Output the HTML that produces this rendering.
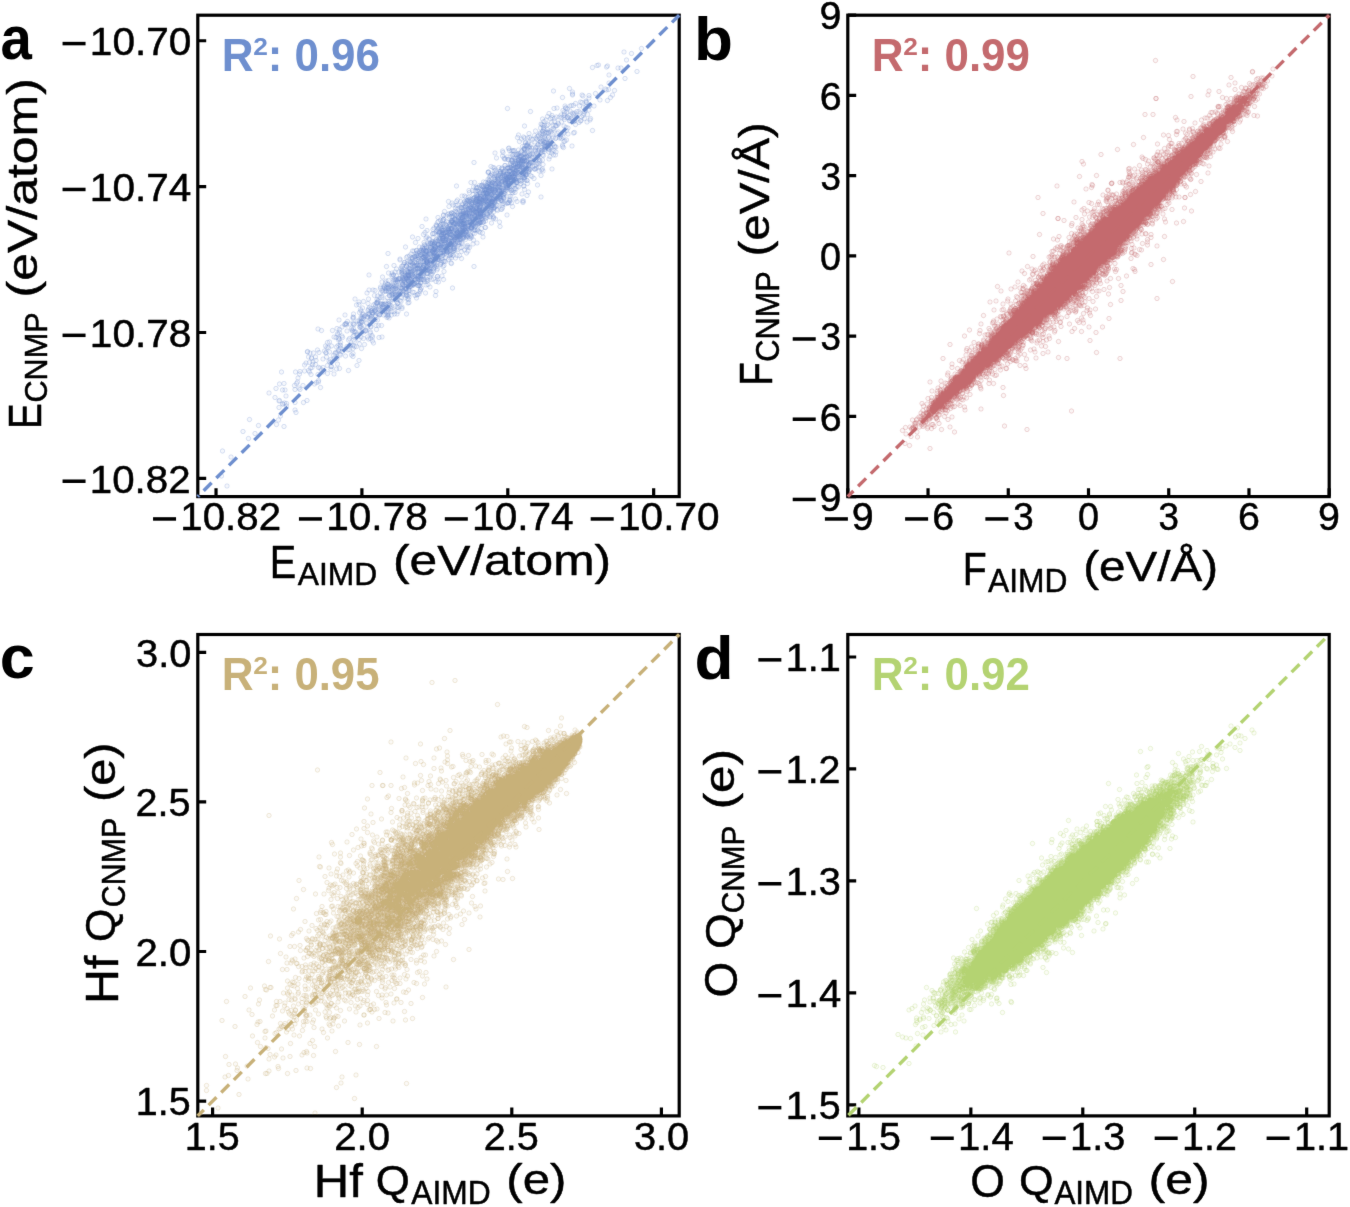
<!DOCTYPE html>
<html><head><meta charset="utf-8"><style>
html,body{margin:0;padding:0;background:#fff;}
svg{display:block;font-family:"Liberation Sans",sans-serif;}
</style></head><body>
<svg width="1350" height="1207" viewBox="0 0 1350 1207">
<filter id="bl" x="0" y="0" width="1350" height="1207" filterUnits="userSpaceOnUse"><feConvolveMatrix order="3" kernelMatrix="0.0052 0.0619 0.0052 0.0619 0.7314 0.0619 0.0052 0.0619 0.0052" edgeMode="duplicate"/></filter>
<rect width="1350" height="1207" fill="#fff"/>
<g filter="url(#bl)">
<defs><marker id="ma" markerUnits="userSpaceOnUse" markerWidth="20.0" markerHeight="20.0" refX="10.0" refY="10.0" overflow="visible"><circle cx="10.0" cy="10.0" r="4.4" fill="#6e8fcf" fill-opacity="0.07" stroke="#6e8fcf" stroke-opacity="0.25" stroke-width="2.0"/></marker><marker id="mb" markerUnits="userSpaceOnUse" markerWidth="20.0" markerHeight="20.0" refX="10.0" refY="10.0" overflow="visible"><circle cx="10.0" cy="10.0" r="4.4" fill="#c46b6e" fill-opacity="0.07" stroke="#c46b6e" stroke-opacity="0.25" stroke-width="2.0"/></marker><marker id="mc" markerUnits="userSpaceOnUse" markerWidth="20.0" markerHeight="20.0" refX="10.0" refY="10.0" overflow="visible"><circle cx="10.0" cy="10.0" r="4.4" fill="#c8b179" fill-opacity="0.07" stroke="#c8b179" stroke-opacity="0.25" stroke-width="2.0"/></marker><marker id="md" markerUnits="userSpaceOnUse" markerWidth="20.0" markerHeight="20.0" refX="10.0" refY="10.0" overflow="visible"><circle cx="10.0" cy="10.0" r="4.4" fill="#b4d372" fill-opacity="0.07" stroke="#b4d372" stroke-opacity="0.25" stroke-width="2.0"/></marker></defs>
<path d="M1248 104 1283 97 1253 120 1263 107 1185 135 1194 131 1197 130 1213 134 1215 132 1242 136 1218 150 1236 136 1274 143 1218 166 1250 157 1107 182 1139 177 1202 174 1211 178 1213 180 1217 179 1229 181 1125 195 1145 184 1145 188 1145 190 1164 190 1166 192 1178 191 1178 196 1191 187 1221 195 1225 190 1130 212 1132 216 1140 212 1143 211 1147 211 1151 207 1159 212 1161 204 1164 205 1167 215 1172 202 1172 204 1172 213 1173 205 1176 213 1179 212 1179 211 1188 212 1200 200 1215 201 1015 217 1061 223 1098 227 1104 231 1108 217 1114 216 1122 230 1126 221 1128 231 1129 224 1129 228 1131 216 1134 225 1135 218 1138 231 1140 222 1145 226 1147 228 1148 230 1149 226 1154 223 1158 223 1160 226 1166 231 1168 227 1169 223 1170 221 1171 218 1175 229 1178 220 1085 238 1088 243 1092 240 1095 233 1101 237 1103 245 1104 235 1109 243 1109 237 1113 234 1116 246 1119 234 1123 244 1123 235 1129 239 1129 235 1134 235 1135 234 1138 236 1139 242 1140 241 1142 237 1144 239 1148 243 1148 242 1149 241 1153 234 1158 245 1161 242 1162 241 1163 234 1169 237 1174 244 1180 240 1181 237 1049 252 1071 262 1081 256 1082 248 1084 249 1085 263 1086 262 1086 251 1087 255 1087 258 1089 260 1089 250 1094 251 1095 259 1096 249 1099 262 1102 264 1104 259 1106 250 1107 257 1108 260 1111 251 1112 252 1114 251 1117 248 1128 252 1132 255 1133 261 1136 256 1151 249 1185 261 1035 275 1037 270 1043 278 1047 274 1049 276 1055 276 1058 267 1059 275 1062 278 1065 279 1069 271 1072 276 1074 279 1075 273 1077 271 1079 277 1080 266 1080 268 1083 279 1084 266 1085 275 1086 269 1088 274 1089 275 1090 265 1090 272 1094 266 1094 264 1097 275 1097 266 1097 274 1097 265 1099 278 1105 269 1107 274 1111 277 1112 276 1115 267 1117 264 1119 276 1121 270 1121 274 1123 277 1126 274 1128 266 1128 264 1136 268 1147 266 1149 265 1018 296 1039 283 1045 293 1050 291 1051 285 1051 286 1053 292 1054 290 1055 288 1055 291 1057 286 1057 294 1059 293 1062 289 1063 296 1070 284 1072 294 1074 294 1076 290 1076 289 1080 284 1081 282 1081 288 1082 284 1084 295 1087 289 1087 282 1089 294 1089 293 1089 286 1090 290 1090 285 1090 285 1091 283 1091 295 1091 293 1092 285 1093 294 1093 284 1096 296 1096 291 1096 287 1097 286 1099 289 1099 290 1100 284 1100 287 1101 293 1101 295 1102 282 1106 288 1109 292 1110 294 1112 294 1125 293 1125 290 1127 295 1128 283 1130 282 1133 280 1144 292 990 306 1005 302 1006 305 1017 297 1019 301 1022 308 1024 302 1025 312 1026 309 1026 301 1027 302 1029 301 1032 309 1033 310 1035 308 1036 309 1037 300 1037 307 1037 312 1039 311 1041 306 1042 311 1043 302 1046 309 1048 297 1048 299 1048 298 1049 307 1049 297 1050 309 1050 301 1050 299 1051 307 1053 311 1054 298 1055 308 1058 311 1059 296 1060 308 1060 310 1060 300 1062 300 1063 309 1065 307 1067 309 1071 303 1071 296 1071 300 1073 307 1076 304 1076 302 1079 300 1082 301 1082 305 1084 300 1085 300 1085 304 1085 310 1087 311 1089 303 1089 299 1090 298 1097 298 1098 304 1099 299 1103 306 1104 302 1107 310 1108 301 1111 310 1112 304 948 325 993 316 1005 312 1008 316 1009 318 1011 318 1014 314 1016 319 1017 319 1021 327 1022 320 1023 321 1024 320 1025 324 1025 320 1027 316 1028 326 1030 316 1031 327 1031 320 1031 327 1032 323 1034 317 1035 327 1036 321 1037 318 1037 321 1037 319 1037 322 1039 314 1040 323 1040 319 1040 326 1041 314 1042 325 1042 322 1042 322 1042 313 1043 324 1043 312 1044 322 1044 320 1044 322 1045 323 1045 319 1046 324 1046 321 1047 317 1047 315 1048 322 1049 320 1049 322 1050 321 1050 316 1050 314 1052 328 1053 323 1053 323 1054 313 1054 326 1054 314 1055 320 1058 318 1059 328 1060 326 1061 319 1061 325 1061 318 1063 325 1064 314 1066 323 1068 325 1071 320 1071 314 1075 313 1075 315 1076 326 1078 319 1079 323 1080 321 1085 320 1098 318 1100 313 977 344 982 333 986 335 989 336 989 341 991 340 998 335 1000 343 1001 343 1003 337 1004 339 1004 336 1007 343 1010 331 1010 331 1010 341 1012 342 1012 336 1015 337 1015 336 1016 336 1018 342 1018 336 1019 343 1019 342 1020 329 1020 335 1021 342 1022 331 1022 343 1022 335 1023 343 1023 332 1024 336 1025 340 1025 338 1026 337 1027 338 1027 331 1027 330 1029 336 1029 339 1030 343 1031 328 1031 329 1032 335 1032 341 1032 341 1033 335 1034 340 1034 332 1035 328 1035 343 1035 334 1035 334 1036 333 1036 337 1037 330 1037 330 1038 333 1038 332 1040 332 1042 329 1043 340 1043 329 1043 335 1043 334 1044 334 1045 333 1046 335 1046 337 1046 338 1046 329 1047 338 1047 333 1052 329 1053 339 1054 337 1054 337 1057 339 1057 328 1057 330 1057 330 1058 328 1058 341 1058 343 1059 338 1060 339 1060 331 1065 334 1069 338 1069 332 1069 338 1071 338 1073 329 1073 336 1078 342 1078 334 1078 328 1083 340 1085 338 1086 342 1086 329 1104 338 976 359 976 345 977 344 979 354 981 351 982 352 983 348 985 350 989 355 989 359 990 348 990 352 991 358 993 344 993 352 994 352 995 357 995 356 996 354 997 358 998 350 998 347 1000 358 1001 346 1001 346 1002 356 1003 354 1003 347 1005 351 1005 355 1005 352 1006 358 1007 349 1007 346 1008 360 1008 344 1008 351 1009 353 1009 352 1012 359 1012 350 1013 357 1013 354 1013 358 1013 349 1014 349 1015 358 1015 354 1015 360 1015 356 1015 356 1015 346 1017 349 1017 359 1017 352 1017 350 1018 353 1018 355 1018 354 1019 351 1019 355 1020 355 1020 359 1020 354 1022 355 1023 348 1023 350 1024 355 1024 355 1024 348 1025 360 1025 348 1025 354 1025 354 1026 346 1026 353 1026 346 1027 351 1027 352 1028 351 1028 359 1029 346 1029 355 1029 355 1029 347 1030 355 1031 347 1031 360 1031 359 1032 347 1032 344 1034 346 1034 355 1034 357 1035 345 1036 354 1036 345 1037 348 1037 356 1038 345 1041 344 1042 349 1044 344 1045 354 1045 350 1046 351 1047 355 1047 345 1047 348 1047 345 1047 347 1048 355 1049 358 1049 355 1050 347 1050 360 1051 350 1051 345 1052 348 1052 351 1052 349 1054 349 1057 344 1061 351 1064 353 1068 357 1082 351 913 372 942 365 947 374 949 365 952 374 954 376 956 375 959 371 963 371 963 371 964 373 965 370 966 375 967 373 967 364 971 365 973 374 974 375 974 371 974 372 974 372 975 368 976 374 976 374 977 375 977 365 977 365 978 361 979 362 979 373 980 367 981 376 981 369 983 373 983 364 983 368 984 370 984 365 985 366 985 372 986 366 988 366 988 362 989 367 991 371 991 368 991 375 992 362 994 374 994 366 994 367 995 374 996 360 996 363 997 370 997 366 997 372 997 375 999 368 999 368 999 372 1000 375 1001 367 1003 364 1003 368 1004 369 1004 364 1004 362 1005 363 1009 366 1010 361 1010 362 1011 366 1011 364 1011 367 1012 362 1012 372 1012 361 1013 375 1013 366 1013 371 1013 370 1014 360 1014 372 1015 375 1015 360 1015 375 1015 363 1016 371 1016 364 1016 370 1016 364 1017 367 1018 366 1018 362 1018 369 1019 374 1023 362 1023 362 1024 372 1026 362 1028 362 1028 370 1029 369 1032 366 1033 364 1033 361 1033 365 1034 365 1034 373 1037 374 1038 361 1041 361 1042 363 1042 367 1044 361 1047 372 1048 372 1054 361 1054 361 1055 367 1075 370 924 392 929 392 938 381 939 385 945 381 946 389 950 382 952 382 953 376 953 390 954 392 955 381 956 382 956 392 958 388 959 383 960 386 961 390 961 385 964 381 965 380 966 388 967 386 968 378 969 388 969 380 969 380 969 380 970 381 970 385 971 386 971 378 971 386 972 389 972 385 972 382 973 386 973 379 974 389 974 391 974 387 974 387 975 387 975 387 976 385 976 379 978 390 978 382 979 376 979 383 979 377 980 387 980 380 980 377 981 381 981 387 982 389 982 385 983 389 984 389 984 380 984 378 984 378 985 388 985 384 986 378 986 389 987 379 987 384 988 378 989 381 989 376 989 384 990 380 990 385 990 392 991 380 991 381 994 377 995 388 995 386 995 385 996 379 997 382 998 389 998 380 998 390 998 382 999 382 1001 390 1001 390 1003 384 1003 386 1003 376 1003 381 1003 380 1005 376 1006 382 1006 390 1006 380 1006 377 1007 379 1007 390 1008 386 1008 383 1009 387 1010 387 1012 376 1012 381 1015 377 1017 379 1020 377 1022 381 1023 380 1024 385 1026 386 1027 381 1030 377 1030 385 1032 378 1044 388 1049 379 1054 391 1057 384 897 403 904 406 913 403 915 400 921 403 925 408 929 403 930 404 931 407 932 394 932 407 934 404 934 401 934 402 936 400 937 395 938 401 939 399 939 403 941 403 941 398 943 400 943 407 944 405 944 402 946 398 946 406 947 397 949 395 950 401 950 394 950 405 951 404 951 407 952 399 953 396 953 404 953 396 953 399 953 404 953 399 954 402 955 408 955 403 955 393 956 403 956 396 958 403 958 397 958 404 959 396 959 397 959 406 959 404 960 398 960 407 961 393 961 405 961 398 961 393 962 403 963 400 963 394 963 400 963 397 963 407 964 403 964 406 965 401 966 407 966 405 967 393 967 401 968 395 968 396 968 401 968 398 968 404 970 401 970 396 971 399 971 392 971 398 971 394 972 398 972 402 973 401 974 396 975 394 975 405 975 404 977 402 977 408 977 394 977 402 978 402 978 407 979 397 980 398 980 405 981 394 981 407 982 404 982 398 982 397 982 407 983 404 983 407 983 403 984 403 984 406 985 403 985 403 985 403 985 399 985 398 986 394 986 400 986 405 987 397 988 405 988 404 989 402 989 405 990 392 991 397 992 400 992 402 993 397 994 397 996 392 996 392 997 398 997 403 998 393 999 394 1000 393 1000 396 1002 401 1002 397 1002 400 1003 401 1005 402 1006 407 1006 394 1007 396 1008 398 1008 396 1010 408 1014 406 1015 406 1017 406 1018 405 1018 393 1019 401 1020 402 1020 398 1021 393 1023 406 1031 398 1034 403 1045 402 1046 405 1047 402 1082 394 889 423 898 413 906 410 911 422 911 416 912 411 913 424 915 410 916 418 919 422 921 415 922 416 922 424 923 416 924 412 924 415 926 423 927 415 930 413 931 414 932 418 932 423 932 420 932 412 934 410 936 420 936 417 937 419 937 416 937 422 939 410 939 420 940 412 941 416 941 416 941 416 942 413 942 422 943 408 943 420 943 416 944 417 944 409 944 408 946 419 946 420 946 417 946 418 947 420 948 423 948 413 950 423 950 422 950 409 950 417 952 415 952 418 952 412 953 424 954 420 954 408 954 416 955 411 955 416 957 421 957 418 957 409 957 420 958 409 958 416 959 419 959 414 959 419 959 421 960 422 960 414 960 416 960 422 961 409 961 413 964 419 964 421 965 420 967 417 967 415 968 410 969 411 969 419 971 419 973 422 974 411 974 409 974 416 974 409 974 411 976 413 977 410 978 413 978 421 980 424 980 410 980 408 981 423 982 420 982 416 983 419 983 413 983 411 984 415 984 411 985 411 986 411 987 418 987 424 987 416 988 415 989 415 991 413 993 411 994 419 995 421 995 411 1002 419 1004 418 1005 415 1005 410 1025 413 852 438 876 435 881 440 887 439 887 439 887 430 887 431 892 432 896 429 898 427 899 433 901 429 903 426 903 433 903 426 905 432 906 427 906 434 908 424 909 438 909 430 910 438 910 438 911 434 912 431 912 439 915 434 916 431 916 426 917 436 917 436 919 440 921 430 921 438 921 428 921 431 923 427 923 438 923 440 924 435 924 435 924 429 925 430 925 439 925 436 926 439 926 428 926 426 927 430 927 424 927 431 927 434 928 427 929 433 929 426 931 431 931 428 931 429 931 426 932 433 933 426 933 430 933 432 934 437 935 425 935 427 937 437 937 430 938 433 938 431 938 434 939 426 939 427 940 428 940 437 941 432 941 434 943 434 944 428 944 437 944 427 945 439 946 426 947 438 947 439 947 426 949 429 949 434 950 425 950 428 950 431 951 437 952 433 952 435 953 431 953 425 954 425 954 426 955 435 955 434 956 424 957 435 957 435 957 429 957 429 960 433 960 424 960 428 960 432 960 440 960 426 961 428 961 425 961 426 961 433 961 433 961 425 961 428 961 428 961 432 962 438 962 428 963 428 963 435 965 430 965 440 965 436 965 427 965 432 966 430 966 425 968 433 971 434 971 437 974 425 974 428 974 435 975 431 975 428 978 425 979 433 981 434 983 429 986 433 987 435 987 437 991 438 1014 430 844 453 868 456 872 450 873 453 873 451 875 445 877 456 877 443 879 453 881 451 882 454 882 449 885 441 886 448 886 449 886 442 888 452 891 449 893 450 894 443 895 455 896 445 896 454 899 449 899 453 901 451 902 445 902 442 903 443 903 444 904 441 904 441 905 452 905 444 905 444 906 445 906 452 906 441 907 447 908 448 908 448 910 447 910 455 910 449 911 446 913 448 914 441 914 450 914 455 914 451 915 450 916 446 916 453 916 447 917 442 919 447 919 448 919 444 920 443 921 440 921 449 922 442 922 444 923 448 923 450 924 443 924 449 924 453 925 448 925 454 926 446 926 454 926 452 927 449 927 442 927 447 928 441 928 446 928 449 928 453 929 446 929 440 930 454 930 454 930 442 930 447 931 444 931 453 932 441 933 447 934 445 935 453 935 454 936 445 937 450 937 451 940 440 940 445 940 443 940 446 941 444 941 455 942 455 943 456 943 449 943 444 943 455 944 451 945 453 945 449 945 451 946 443 947 451 947 447 948 450 949 448 949 445 949 455 951 440 951 446 951 452 954 445 955 449 956 447 957 446 957 442 957 442 958 450 958 447 959 445 960 444 960 446 961 444 962 445 965 445 967 444 967 444 970 455 971 455 971 442 983 446 999 444 1000 453 847 469 850 465 854 461 865 468 866 459 866 467 869 467 873 463 874 461 875 470 876 458 876 463 877 466 879 469 879 464 879 464 879 466 882 470 882 459 883 470 884 461 884 465 884 469 884 457 884 468 885 462 886 460 886 460 887 469 887 461 887 467 888 466 888 467 888 460 888 472 889 465 891 459 891 469 891 465 893 472 893 464 894 471 895 470 895 460 896 465 896 458 897 457 897 459 897 465 897 460 898 461 898 464 898 469 898 458 899 462 900 467 900 464 900 464 901 464 901 457 902 469 902 457 903 469 903 461 903 458 904 457 904 457 905 471 906 464 907 462 908 461 908 467 909 458 910 466 911 460 911 471 912 461 913 467 914 468 914 465 914 461 914 470 915 465 915 466 915 465 916 471 917 463 917 469 918 458 918 463 918 466 920 461 920 469 920 459 920 465 921 460 921 461 921 465 921 470 922 467 922 469 924 462 925 468 925 469 925 457 925 464 926 461 926 458 927 462 927 464 927 456 929 468 929 460 930 456 930 458 930 467 931 470 931 464 931 469 931 462 933 470 933 464 933 464 934 460 935 456 935 470 935 472 936 457 937 461 938 458 939 461 941 470 942 471 942 458 943 456 946 466 948 461 949 467 950 460 950 460 954 459 955 461 958 463 960 465 963 457 965 466 825 474 831 485 836 477 848 485 852 476 854 474 855 487 857 478 858 488 859 478 861 486 861 487 862 487 864 487 865 485 865 483 866 485 866 475 869 486 870 486 871 482 871 484 873 479 875 482 876 482 878 476 878 478 878 480 879 488 880 480 881 488 881 477 881 484 881 478 883 488 884 473 885 477 885 479 885 477 886 473 886 481 886 476 887 478 887 476 887 481 888 482 889 487 889 481 890 482 891 485 891 478 891 481 892 485 892 480 892 472 894 473 894 474 895 484 897 485 897 486 897 475 897 480 898 481 898 475 898 488 899 485 899 482 901 487 901 475 902 476 903 484 903 483 904 487 904 483 906 483 906 474 906 472 907 487 907 473 907 485 907 476 907 481 908 475 908 473 909 479 910 475 910 477 910 479 911 476 911 487 912 475 913 475 915 476 915 486 915 473 915 481 915 478 917 479 917 473 918 485 918 486 918 474 918 474 919 472 920 479 920 476 920 486 921 473 921 478 922 477 923 486 925 475 925 487 926 477 926 477 927 472 928 475 931 479 932 474 934 474 938 474 940 477 942 473 943 475 947 480 954 486 966 474 811 494 825 502 828 502 833 501 833 501 839 494 839 502 842 500 843 501 844 503 845 496 845 494 847 501 847 500 848 500 848 497 849 489 849 496 850 491 852 502 852 503 852 501 852 502 853 493 853 496 853 502 854 503 857 491 858 501 860 499 860 495 861 495 862 496 864 497 864 499 864 503 865 501 865 504 865 489 867 498 867 502 867 502 868 499 868 488 868 490 868 498 869 499 869 492 869 500 869 489 871 493 871 495 871 504 871 497 871 495 871 493 872 503 874 497 874 500 876 489 876 498 877 489 877 498 877 496 877 489 879 496 880 491 880 495 880 496 882 496 882 492 883 490 883 494 883 499 885 488 886 495 887 502 887 492 888 503 888 489 889 500 889 494 890 494 891 502 892 497 892 500 893 502 893 493 893 502 895 491 895 499 895 503 896 500 897 491 897 494 898 502 899 497 900 495 900 489 901 492 901 489 901 494 901 501 901 489 903 489 906 503 906 498 907 497 907 493 908 501 909 495 909 488 909 490 909 498 909 497 910 501 911 490 914 500 917 490 920 496 923 495 923 503 929 500 933 494 935 491 936 494 936 502 939 495 946 488 776 507 800 518 813 515 815 513 819 512 822 508 824 516 824 515 825 516 825 519 828 515 829 513 830 513 831 518 832 507 833 510 833 512 834 519 835 511 835 506 836 515 836 519 837 511 838 516 839 505 841 510 842 509 842 520 842 505 844 517 845 505 845 508 845 516 846 514 846 513 847 515 848 515 848 515 849 511 849 508 849 519 850 513 851 514 851 511 851 507 852 520 852 512 853 513 854 520 855 509 856 515 856 511 857 518 857 504 859 506 859 509 859 506 860 508 861 508 864 520 864 519 864 513 867 515 868 506 868 507 868 513 868 512 868 511 869 505 869 511 869 505 870 513 871 513 871 519 871 518 871 507 872 508 872 517 872 517 872 515 873 516 873 514 873 513 874 512 875 518 875 519 875 519 876 507 877 519 877 515 879 520 880 506 882 506 882 507 882 506 882 513 884 517 884 506 885 511 886 511 886 506 886 505 889 507 891 515 893 510 894 505 894 504 897 519 899 511 900 506 900 516 901 510 902 509 903 516 904 507 906 511 911 516 914 511 919 511 923 517 933 506 773 533 788 531 800 520 803 533 805 533 807 529 809 525 809 525 812 532 813 532 813 533 814 528 815 523 819 523 821 525 821 531 821 523 824 524 824 531 824 526 825 528 826 528 828 533 829 531 829 525 830 532 832 530 833 526 834 531 835 531 835 529 837 528 837 522 839 531 839 532 841 524 841 530 844 535 845 523 846 534 846 535 847 530 847 525 848 531 848 531 848 523 850 528 852 529 852 525 853 533 853 524 853 524 854 535 854 523 854 523 854 520 855 525 855 528 855 526 855 524 855 522 855 526 856 531 858 529 859 528 859 525 860 521 861 521 861 521 861 520 862 535 862 531 864 529 865 523 867 528 868 532 868 525 870 535 870 528 870 530 873 533 873 530 881 529 882 528 882 525 884 522 886 533 887 523 888 531 889 522 891 523 902 526 903 527 948 533 738 550 777 546 784 550 784 546 787 550 787 550 790 544 793 538 793 552 798 544 802 537 803 545 804 548 804 544 804 542 804 539 806 542 806 551 806 547 809 543 810 551 814 540 814 552 814 551 815 550 815 542 815 549 816 543 816 545 816 548 817 536 817 551 817 550 817 545 817 551 818 551 819 538 820 537 820 544 820 546 821 550 821 541 822 538 824 543 824 550 824 544 824 542 825 548 827 541 828 540 829 543 829 549 830 546 831 539 831 537 833 537 835 537 836 536 836 538 836 542 838 538 838 545 838 546 839 542 840 537 841 550 842 551 843 543 844 539 844 537 844 541 845 552 845 543 847 542 847 539 847 547 847 550 848 545 848 543 850 541 852 537 852 538 854 540 854 547 854 547 856 541 856 546 857 539 858 542 858 537 859 536 859 539 860 544 862 549 862 538 862 543 864 548 866 544 867 542 867 538 874 540 875 537 888 543 764 564 765 554 771 566 772 562 775 568 777 561 784 553 787 560 787 563 789 560 791 560 791 564 792 560 793 559 795 562 796 560 796 564 797 557 797 558 799 557 800 558 800 565 804 564 805 568 805 555 805 557 806 561 806 559 806 554 808 557 808 561 808 557 809 563 809 560 810 565 811 554 811 552 813 558 813 556 813 565 815 556 816 562 816 559 816 561 817 553 817 562 818 562 818 556 818 567 819 558 819 558 821 559 823 556 823 559 824 554 825 565 826 553 827 567 827 553 829 567 829 554 829 567 830 560 832 558 832 552 832 558 832 552 834 565 835 553 835 558 835 562 836 557 836 556 836 554 837 559 837 552 837 567 838 553 840 559 840 555 841 566 841 555 842 565 843 559 844 559 845 554 847 559 848 560 849 563 853 559 854 563 855 554 856 560 860 554 863 559 867 558 872 563 875 553 875 553 876 558 877 564 884 552 887 559 738 580 746 580 750 581 761 577 761 574 764 581 766 584 766 576 768 573 769 575 770 571 770 582 771 577 772 583 772 581 773 577 773 574 776 569 776 575 776 581 777 584 777 577 778 573 779 571 781 582 781 570 782 573 783 574 784 578 785 579 785 570 786 575 788 573 788 578 790 572 791 577 791 584 792 576 792 572 794 574 794 584 794 571 795 580 798 575 798 582 801 583 802 576 803 577 804 582 805 572 805 576 805 568 806 582 806 569 807 581 808 584 808 571 808 573 809 577 811 577 812 578 812 568 812 576 813 577 817 581 817 571 817 578 817 569 817 571 818 575 819 581 820 573 821 573 823 569 824 572 825 584 825 570 826 568 827 569 828 570 835 571 837 571 837 571 839 570 840 572 840 583 841 580 841 579 843 576 852 570 856 569 860 574 872 583 905 576 710 598 734 586 737 598 749 591 754 599 755 592 760 595 761 586 764 595 764 592 775 595 779 591 779 591 780 585 784 589 784 588 784 599 784 590 784 584 786 594 787 588 787 598 789 587 790 590 791 589 791 594 792 597 793 589 794 599 796 591 798 589 800 586 803 595 805 587 806 590 810 596 812 586 813 590 813 591 814 584 815 592 815 597 817 599 818 589 818 594 828 585 830 591 833 596 834 590 835 589 838 588 851 586 871 591 713 610 718 604 718 609 725 616 727 603 736 607 739 615 747 610 750 608 751 612 753 606 754 607 754 605 755 605 756 603 756 601 758 613 762 607 762 610 763 609 765 613 765 609 766 614 766 608 767 610 768 609 770 602 771 607 774 609 775 613 776 616 777 608 778 603 778 607 780 610 780 614 782 603 783 613 790 613 793 603 794 614 795 606 796 606 796 615 800 613 800 601 802 603 804 614 816 606 818 605 690 630 707 628 719 625 721 619 722 622 725 628 727 628 730 631 736 629 736 621 737 627 737 618 739 630 739 627 742 617 742 622 744 621 744 625 745 625 745 628 746 626 748 622 748 617 750 623 750 621 751 620 751 631 753 618 755 627 757 628 757 617 758 619 758 630 759 630 760 629 763 619 764 622 766 621 767 630 767 618 769 621 772 630 773 624 776 631 776 623 776 626 776 629 777 618 781 617 783 630 784 623 788 623 789 628 794 628 796 623 804 617 813 628 678 640 692 647 692 647 695 643 700 648 706 637 706 647 706 634 707 635 708 648 715 642 718 642 719 645 721 647 722 637 722 634 722 643 723 644 724 637 724 644 725 633 726 638 727 636 729 633 733 645 733 647 735 634 735 634 740 638 741 637 742 633 743 639 744 636 750 633 751 639 755 640 774 635 776 633 778 636 636 658 643 661 665 661 674 657 679 659 684 654 689 649 691 649 693 650 694 662 703 657 704 660 705 662 707 658 708 649 708 663 710 664 712 664 718 648 720 654 720 655 721 652 723 653 724 663 724 657 728 664 731 662 731 660 732 661 734 656 741 653 742 654 752 651 753 659 757 651 763 651 668 674 672 675 675 667 676 669 677 676 679 665 679 678 684 672 685 675 699 677 706 673 708 671 714 670 714 668 718 679 722 674 727 677 735 674 737 678 740 666 741 664 741 677 744 671 745 674 758 675 764 674 651 692 654 695 655 685 657 695 659 684 663 692 673 694 676 691 677 680 680 690 681 685 681 691 694 693 697 680 700 690 702 690 706 691 707 680 709 693 709 683 713 693 719 688 729 689 745 682 747 686 615 703 615 704 620 706 627 706 635 700 638 705 649 702 652 705 652 706 659 704 667 711 670 707 671 705 674 705 677 700 678 702 680 708 681 710 681 696 684 703 686 699 696 700 699 699 703 710 706 697 706 707 723 697 612 726 617 714 619 725 623 716 623 716 626 724 631 714 632 721 646 718 653 714 658 722 660 725 661 719 668 717 674 717 675 728 691 712 706 713 718 721 591 744 600 743 609 730 609 742 617 741 619 744 621 736 624 735 625 729 631 729 637 735 640 736 643 740 646 735 647 744 655 731 662 739 662 733 663 733 673 738 679 737 697 741 714 731 563 744 596 756 599 748 622 749 636 749 655 747 668 748 559 768 568 767 589 771 593 767 595 764 606 771 629 768 633 765 637 761 637 764 641 775 538 786 552 777 565 780 570 780 590 779 598 776 600 779 550 795 558 802 559 801 565 808 569 806 572 792 573 807 590 805 607 805 614 801 558 815 566 808 573 812 590 820 499 839 561 832 592 825 517 851 553 849 557 840 568 853 486 863 510 867 497 877 445 902 462 914 443 952 454 972" fill="none" stroke="none" marker-start="url(#ma)" marker-mid="url(#ma)" marker-end="url(#ma)" transform="scale(0.5)"/>
<path d="M2311 121 2505 144 2505 143 2546 138 2386 153 2462 155 2470 166 2499 167 2513 159 2516 157 2518 168 2521 165 2523 161 2523 156 2524 167 2527 156 2528 167 2530 162 2535 162 2544 152 2418 182 2438 183 2458 170 2470 179 2483 175 2487 184 2488 183 2490 184 2491 176 2493 177 2497 183 2497 181 2498 181 2499 177 2502 170 2504 179 2505 180 2507 169 2507 182 2510 181 2511 181 2511 168 2512 171 2513 183 2515 175 2515 180 2516 171 2517 168 2517 169 2518 173 2520 170 2521 170 2523 177 2524 175 2524 169 2526 171 2527 177 2532 173 2312 197 2312 197 2382 193 2416 190 2445 195 2453 197 2462 197 2469 200 2470 196 2473 198 2473 196 2473 193 2476 198 2476 195 2477 196 2478 188 2480 197 2481 195 2481 198 2481 199 2482 195 2483 197 2484 197 2484 193 2484 189 2485 192 2485 198 2487 197 2487 199 2488 196 2488 197 2489 196 2490 199 2490 197 2491 197 2492 195 2492 195 2493 192 2494 191 2494 195 2494 185 2495 198 2495 199 2496 195 2496 189 2496 193 2497 193 2498 195 2498 200 2499 197 2500 186 2500 187 2500 189 2501 195 2502 196 2502 192 2502 192 2505 190 2505 193 2506 198 2506 191 2507 192 2507 198 2507 198 2507 188 2509 194 2510 194 2512 188 2515 187 2515 198 2519 188 2436 213 2437 215 2437 213 2440 213 2452 209 2454 215 2455 216 2455 215 2456 213 2456 206 2457 213 2458 215 2460 206 2460 214 2463 215 2463 211 2463 215 2465 210 2466 214 2466 215 2468 205 2468 207 2469 212 2469 215 2469 213 2469 215 2469 204 2470 213 2470 208 2470 214 2471 203 2472 216 2473 201 2473 207 2474 208 2474 201 2474 202 2475 207 2476 206 2476 206 2477 214 2477 212 2478 201 2478 207 2479 216 2479 207 2479 212 2480 215 2480 208 2480 203 2481 211 2481 202 2482 211 2482 215 2482 210 2483 213 2483 206 2483 215 2484 203 2484 201 2485 207 2485 207 2485 204 2485 210 2485 211 2486 214 2487 201 2487 202 2487 208 2488 206 2489 202 2489 203 2489 214 2490 203 2491 215 2492 205 2493 210 2493 208 2493 208 2494 208 2494 206 2494 203 2495 207 2496 207 2496 202 2496 208 2497 212 2498 207 2500 207 2500 205 2504 203 2509 213 2511 201 2290 229 2306 229 2419 231 2422 225 2425 225 2431 224 2435 226 2435 228 2443 231 2444 226 2447 221 2447 224 2448 228 2451 221 2451 223 2452 231 2453 227 2454 232 2454 227 2454 222 2454 230 2455 223 2455 231 2455 223 2455 229 2456 231 2456 218 2456 221 2456 226 2457 221 2457 227 2458 218 2458 226 2458 217 2459 221 2460 216 2463 219 2466 219 2466 216 2467 217 2468 220 2468 220 2468 220 2469 231 2470 216 2471 230 2471 216 2471 217 2472 228 2473 216 2473 226 2474 227 2474 228 2474 225 2474 223 2474 226 2476 226 2476 223 2476 226 2476 230 2477 224 2477 221 2477 224 2477 226 2477 231 2478 217 2478 223 2478 220 2479 218 2480 222 2480 231 2480 231 2481 219 2482 220 2483 230 2483 221 2484 216 2484 216 2484 219 2485 219 2486 230 2488 220 2490 221 2492 228 2493 222 2494 218 2494 231 2495 225 2497 224 2508 231 2515 232 2351 235 2354 240 2368 243 2390 246 2403 240 2410 236 2414 236 2418 246 2419 247 2419 248 2421 248 2422 236 2423 246 2425 245 2427 242 2427 243 2428 243 2429 240 2430 248 2431 240 2432 242 2432 248 2432 245 2433 244 2433 238 2434 244 2434 237 2436 243 2436 239 2436 243 2437 242 2437 237 2438 244 2438 240 2439 240 2439 242 2440 240 2441 235 2442 232 2442 238 2443 233 2443 238 2443 241 2443 236 2444 235 2445 239 2445 235 2445 235 2447 234 2447 239 2447 234 2451 236 2452 246 2455 243 2456 241 2457 243 2458 241 2458 239 2459 244 2459 243 2460 242 2461 242 2461 246 2461 239 2462 245 2462 240 2464 238 2464 240 2464 248 2464 242 2465 236 2465 241 2465 237 2466 243 2466 238 2466 242 2467 233 2467 235 2468 243 2468 242 2468 234 2468 242 2470 235 2470 237 2471 234 2472 234 2473 237 2475 234 2476 234 2479 233 2479 244 2481 240 2353 263 2355 263 2366 258 2379 258 2379 260 2385 257 2386 263 2395 263 2396 262 2401 256 2402 262 2403 256 2405 258 2406 251 2408 249 2408 258 2408 253 2409 263 2409 255 2411 258 2411 258 2412 259 2412 253 2412 261 2413 258 2413 263 2413 262 2413 262 2413 262 2413 263 2414 259 2414 254 2415 260 2415 261 2416 258 2416 260 2417 260 2419 259 2419 262 2419 262 2420 256 2420 250 2422 259 2422 256 2423 253 2423 259 2424 262 2424 256 2425 256 2425 256 2425 256 2426 253 2426 250 2426 256 2427 249 2427 252 2428 253 2428 248 2429 256 2441 263 2441 264 2443 264 2445 259 2445 261 2445 261 2445 261 2446 259 2447 254 2447 254 2447 250 2447 256 2448 253 2448 260 2448 257 2448 254 2448 254 2448 256 2448 259 2449 248 2450 258 2451 255 2451 264 2452 249 2453 252 2453 255 2454 250 2456 254 2456 256 2457 249 2460 256 2464 253 2464 258 2465 263 2469 249 2287 275 2327 270 2337 271 2339 279 2353 269 2371 278 2371 266 2372 276 2374 269 2382 270 2382 278 2385 276 2386 275 2386 280 2386 278 2387 265 2387 280 2388 268 2390 273 2391 276 2393 280 2393 273 2394 276 2395 278 2395 280 2396 276 2396 269 2396 273 2396 271 2396 276 2397 278 2397 277 2398 265 2399 272 2399 274 2399 265 2399 274 2399 268 2399 270 2401 267 2403 269 2404 271 2404 265 2405 269 2405 272 2405 270 2405 265 2408 267 2409 267 2410 265 2412 267 2423 279 2425 280 2426 280 2427 277 2427 276 2427 274 2429 274 2429 280 2429 275 2429 276 2430 273 2431 271 2431 279 2431 272 2432 274 2432 274 2432 269 2433 270 2433 278 2434 276 2434 268 2436 274 2436 268 2436 268 2437 267 2438 271 2438 265 2439 265 2439 278 2439 266 2440 271 2440 265 2440 264 2442 268 2443 278 2445 268 2445 265 2447 265 2447 265 2448 273 2449 275 2450 274 2450 272 2267 289 2315 288 2337 294 2338 291 2342 287 2342 293 2344 287 2353 294 2357 292 2358 287 2359 291 2363 287 2368 280 2368 295 2368 296 2370 294 2371 292 2373 289 2374 288 2375 281 2376 285 2377 295 2377 293 2377 296 2377 293 2377 283 2377 292 2378 288 2378 283 2379 287 2380 293 2380 288 2381 291 2382 293 2382 294 2383 284 2384 283 2384 285 2385 288 2385 289 2387 287 2388 287 2388 288 2388 287 2389 282 2390 285 2392 284 2394 284 2394 283 2396 281 2412 295 2413 292 2414 295 2414 291 2415 293 2416 291 2417 288 2418 290 2418 294 2418 290 2418 288 2419 286 2419 291 2420 280 2420 285 2420 280 2420 293 2420 286 2421 287 2421 293 2421 285 2421 286 2422 285 2422 283 2423 282 2426 284 2427 282 2427 292 2428 288 2429 282 2430 282 2430 281 2442 288 2455 283 2202 309 2235 299 2314 311 2314 309 2316 304 2319 312 2323 304 2327 308 2329 297 2332 306 2334 304 2336 304 2343 311 2345 309 2348 309 2349 302 2349 299 2349 310 2350 300 2352 301 2352 312 2352 302 2353 309 2354 304 2354 311 2355 301 2355 305 2355 308 2356 312 2357 307 2357 312 2358 308 2358 303 2358 299 2358 307 2359 308 2359 306 2361 305 2362 302 2362 305 2364 306 2364 296 2364 298 2364 298 2365 303 2366 300 2366 304 2366 300 2367 298 2367 299 2369 299 2369 299 2369 297 2374 297 2374 299 2375 299 2376 299 2396 308 2397 309 2397 311 2397 311 2397 309 2399 310 2400 310 2400 307 2400 309 2401 307 2401 308 2401 307 2401 309 2403 302 2403 303 2404 308 2405 301 2405 300 2407 298 2407 312 2408 306 2408 297 2408 303 2409 300 2410 296 2410 301 2411 311 2412 296 2412 303 2415 303 2416 300 2416 302 2416 307 2419 298 2420 307 2421 303 2426 304 2430 298 2437 296 2440 297 2164 323 2284 314 2286 317 2291 319 2295 328 2297 322 2308 316 2308 316 2310 319 2312 319 2315 324 2315 323 2316 324 2317 325 2318 323 2318 327 2323 316 2324 327 2325 317 2328 326 2329 327 2332 315 2333 323 2334 325 2334 323 2334 316 2335 321 2335 322 2335 324 2337 320 2338 313 2338 321 2338 321 2339 323 2339 317 2341 326 2341 326 2342 327 2342 327 2343 312 2344 326 2344 312 2344 318 2345 324 2345 320 2345 318 2347 317 2348 323 2348 323 2348 320 2349 316 2349 321 2349 318 2350 317 2350 316 2351 317 2352 317 2354 315 2354 316 2355 314 2356 316 2357 313 2358 312 2379 328 2379 327 2381 328 2382 325 2383 325 2386 323 2388 326 2388 327 2389 320 2389 321 2389 322 2390 324 2390 326 2391 321 2391 317 2391 322 2392 327 2392 314 2392 328 2393 317 2393 325 2393 321 2393 320 2394 322 2394 314 2397 319 2398 319 2399 316 2400 325 2400 321 2401 317 2403 319 2405 327 2408 328 2409 314 2410 315 2412 315 2413 313 2414 316 2421 313 2167 328 2257 338 2258 343 2259 337 2269 338 2276 344 2279 331 2283 340 2291 339 2293 340 2296 342 2301 333 2303 342 2305 328 2306 332 2306 343 2308 343 2309 340 2309 334 2310 329 2311 340 2313 342 2313 338 2315 329 2316 341 2317 337 2318 337 2318 341 2319 332 2319 341 2321 333 2322 334 2322 337 2323 330 2324 339 2324 334 2324 335 2325 334 2325 342 2325 332 2326 341 2326 329 2327 340 2327 340 2327 333 2328 332 2328 333 2328 338 2328 336 2329 329 2329 338 2330 337 2330 333 2333 335 2333 336 2333 331 2333 335 2334 332 2334 333 2334 331 2335 330 2335 334 2336 334 2339 332 2340 332 2367 342 2367 342 2372 339 2372 342 2372 333 2372 335 2372 339 2372 335 2373 333 2373 333 2374 335 2374 337 2374 332 2374 333 2376 331 2376 333 2377 338 2377 337 2379 329 2379 332 2379 341 2379 342 2379 334 2379 335 2379 335 2380 333 2380 332 2382 340 2384 329 2384 338 2385 330 2386 336 2386 330 2388 329 2390 333 2391 329 2396 329 2418 332 2159 353 2193 351 2257 354 2258 355 2259 347 2260 350 2260 353 2266 352 2269 350 2273 358 2275 355 2281 357 2284 360 2284 354 2285 349 2285 345 2285 353 2288 350 2289 355 2291 355 2292 346 2292 357 2292 357 2294 354 2294 359 2297 358 2297 355 2298 351 2298 359 2298 345 2299 349 2299 357 2300 348 2300 353 2301 359 2301 358 2301 358 2302 353 2302 354 2302 359 2302 359 2302 353 2303 353 2303 358 2304 352 2305 357 2305 357 2306 358 2306 353 2307 352 2308 347 2308 352 2309 354 2309 345 2310 350 2311 345 2312 346 2312 354 2312 346 2314 350 2314 349 2314 353 2314 351 2315 347 2316 352 2316 349 2318 349 2319 347 2319 350 2319 346 2319 350 2320 348 2320 350 2320 347 2321 347 2354 359 2356 355 2356 360 2356 360 2357 359 2357 353 2358 355 2358 350 2359 355 2361 348 2361 355 2361 353 2361 351 2362 357 2364 346 2365 345 2366 346 2366 352 2367 356 2368 344 2368 349 2368 352 2370 347 2370 353 2370 354 2372 344 2372 344 2374 346 2376 347 2379 345 2379 356 2381 359 2382 346 2382 358 2383 347 2393 349 2416 346 2114 372 2183 375 2184 369 2185 371 2223 367 2223 367 2224 366 2240 365 2245 364 2246 366 2252 371 2253 365 2255 361 2257 369 2259 368 2261 375 2262 370 2264 365 2267 361 2268 374 2272 370 2273 370 2273 376 2276 372 2278 371 2278 363 2279 375 2280 372 2280 376 2280 371 2281 375 2282 368 2282 362 2283 363 2283 370 2283 376 2283 367 2284 365 2284 369 2285 373 2285 375 2285 373 2285 362 2286 369 2287 369 2288 363 2289 371 2289 372 2290 372 2290 361 2291 365 2291 368 2292 370 2292 369 2293 361 2293 366 2294 366 2294 365 2295 364 2295 365 2297 363 2338 372 2340 375 2340 374 2342 372 2342 375 2343 375 2344 372 2345 369 2345 370 2345 370 2346 373 2346 374 2346 368 2346 370 2347 367 2347 369 2347 375 2348 371 2349 370 2350 368 2350 361 2351 365 2351 372 2352 362 2353 371 2353 367 2354 369 2354 370 2354 363 2354 366 2354 361 2355 365 2357 361 2360 364 2361 362 2361 363 2362 368 2368 367 2370 371 2373 374 2402 363 2172 378 2206 390 2216 380 2216 381 2218 390 2223 389 2225 391 2227 390 2233 388 2245 388 2246 383 2248 386 2249 388 2249 380 2251 390 2251 386 2251 382 2251 377 2256 384 2257 386 2258 382 2258 390 2258 388 2259 387 2261 388 2261 379 2262 391 2263 384 2264 391 2264 377 2264 383 2264 392 2265 391 2266 380 2266 381 2266 377 2266 381 2267 383 2267 389 2267 380 2267 387 2267 380 2268 389 2268 385 2270 379 2271 379 2271 385 2272 378 2275 382 2276 381 2277 382 2277 376 2277 380 2277 379 2278 381 2278 382 2278 379 2279 377 2327 389 2327 389 2327 390 2328 389 2329 389 2330 391 2330 386 2330 383 2331 386 2331 388 2332 383 2332 380 2333 383 2334 382 2336 378 2337 378 2337 380 2338 385 2338 378 2338 384 2339 390 2339 387 2339 377 2339 383 2339 381 2340 387 2341 378 2342 382 2343 388 2344 384 2344 376 2345 392 2346 379 2346 379 2347 383 2347 382 2347 379 2348 385 2350 387 2353 379 2381 389 2391 383 2076 395 2148 404 2178 405 2183 407 2197 404 2212 402 2213 393 2213 399 2214 397 2214 403 2216 395 2219 400 2223 397 2229 403 2231 400 2231 395 2232 402 2233 407 2236 408 2237 405 2237 396 2238 400 2239 397 2240 403 2240 408 2241 404 2242 397 2244 392 2244 397 2245 405 2246 395 2246 404 2247 407 2247 407 2247 400 2248 399 2249 403 2250 404 2250 392 2250 403 2251 393 2251 406 2251 393 2252 397 2253 403 2254 405 2254 401 2256 404 2256 401 2256 396 2257 401 2258 398 2258 400 2258 393 2260 400 2260 395 2260 392 2260 394 2261 396 2262 396 2262 395 2262 394 2264 392 2266 395 2266 394 2267 393 2306 407 2312 406 2313 407 2314 408 2314 404 2315 403 2316 403 2316 405 2317 406 2317 400 2317 401 2318 407 2318 401 2318 398 2319 405 2319 399 2319 401 2320 396 2321 397 2322 406 2322 395 2322 395 2322 396 2325 399 2325 394 2325 393 2327 398 2327 392 2327 396 2327 397 2327 395 2331 397 2332 395 2332 394 2335 397 2336 402 2336 396 2338 396 2338 406 2344 396 2352 394 2358 394 2370 395 2370 395 2164 420 2168 417 2175 422 2186 424 2188 422 2189 417 2195 409 2198 424 2199 409 2205 417 2207 419 2208 423 2210 417 2212 421 2213 422 2214 417 2214 422 2217 411 2217 422 2218 417 2219 418 2220 414 2220 414 2221 422 2222 420 2222 411 2222 423 2223 409 2223 418 2224 420 2226 420 2226 414 2227 424 2227 422 2227 418 2229 414 2229 419 2229 421 2230 415 2230 421 2230 419 2230 414 2230 411 2230 420 2231 420 2231 414 2232 414 2232 415 2232 417 2234 418 2235 408 2237 415 2237 417 2241 416 2241 416 2241 416 2241 412 2241 409 2241 418 2242 415 2242 412 2243 412 2243 415 2244 411 2246 413 2246 410 2247 410 2248 411 2248 410 2249 409 2249 409 2297 422 2298 418 2298 422 2299 420 2299 421 2300 424 2301 421 2302 415 2303 414 2303 419 2303 422 2304 408 2305 412 2305 411 2305 415 2306 424 2307 416 2307 414 2308 410 2308 418 2308 418 2309 412 2309 421 2310 410 2310 417 2311 414 2311 417 2312 412 2315 408 2315 414 2315 412 2316 411 2316 415 2317 418 2318 412 2318 417 2319 411 2320 420 2322 413 2323 412 2326 418 2330 417 2334 409 2344 419 2369 416 2383 422 2086 427 2116 437 2116 437 2152 435 2164 439 2169 428 2179 434 2184 425 2185 435 2188 431 2191 434 2192 435 2194 437 2195 429 2199 436 2199 439 2201 429 2202 430 2202 426 2205 440 2205 431 2206 436 2206 435 2206 434 2206 425 2206 434 2207 427 2207 438 2208 438 2208 430 2209 437 2210 439 2210 439 2210 438 2210 440 2210 438 2213 439 2213 439 2213 429 2214 427 2216 431 2216 435 2217 427 2217 426 2218 426 2218 437 2218 432 2219 432 2219 428 2220 435 2221 431 2222 426 2222 428 2223 427 2223 429 2224 429 2282 437 2284 435 2285 438 2285 438 2287 436 2288 433 2289 437 2290 434 2291 435 2292 429 2294 435 2294 435 2295 426 2295 436 2296 435 2296 435 2297 429 2298 424 2298 428 2298 424 2298 429 2299 435 2300 425 2300 432 2301 428 2301 427 2301 428 2301 439 2302 426 2302 429 2304 432 2304 433 2307 427 2312 427 2312 431 2312 438 2313 426 2315 435 2315 426 2326 428 2329 438 2128 441 2143 451 2144 447 2156 456 2164 448 2166 454 2166 451 2169 454 2177 444 2181 452 2182 449 2183 453 2185 447 2187 449 2190 452 2190 449 2191 455 2192 445 2193 453 2193 451 2193 446 2193 455 2194 455 2195 442 2195 455 2195 450 2195 443 2195 451 2195 451 2195 446 2197 451 2197 452 2198 445 2198 445 2198 448 2199 442 2200 447 2201 448 2202 443 2202 444 2202 446 2203 445 2205 440 2207 441 2266 455 2269 455 2270 456 2270 452 2272 454 2273 450 2273 451 2273 453 2274 448 2274 454 2274 449 2275 449 2276 452 2276 451 2277 446 2277 448 2278 448 2278 443 2278 453 2278 444 2279 443 2280 446 2281 450 2281 444 2282 441 2283 443 2283 445 2285 443 2287 444 2287 449 2287 444 2288 444 2289 442 2290 448 2291 444 2291 445 2292 445 2292 446 2295 449 2295 448 2304 446 2305 448 2305 441 2331 444 2353 446 2367 443 2079 469 2143 467 2150 468 2155 468 2159 462 2160 469 2160 470 2161 457 2163 460 2163 463 2166 464 2168 464 2168 459 2169 469 2170 471 2170 469 2174 471 2176 463 2178 469 2178 464 2179 469 2179 457 2179 468 2181 468 2181 469 2181 466 2182 462 2182 470 2182 460 2182 464 2183 462 2184 461 2185 464 2185 466 2185 458 2185 461 2186 467 2186 457 2186 463 2187 464 2189 462 2190 456 2190 461 2190 457 2191 457 2191 461 2252 469 2252 469 2254 471 2254 472 2256 464 2256 467 2256 471 2257 468 2258 468 2259 471 2259 467 2260 462 2261 460 2261 462 2261 462 2262 471 2263 462 2264 468 2264 457 2266 465 2266 466 2267 458 2267 459 2268 457 2268 464 2268 463 2269 468 2271 468 2271 462 2272 459 2273 457 2273 457 2274 472 2279 462 2281 457 2282 459 2283 459 2284 468 2291 467 2292 468 2302 469 2107 478 2115 480 2118 473 2138 475 2139 484 2143 487 2144 482 2146 477 2147 486 2148 484 2149 480 2149 472 2149 472 2151 480 2152 476 2153 484 2153 486 2153 480 2154 483 2154 485 2154 480 2154 479 2155 482 2155 479 2155 487 2155 486 2157 477 2157 486 2157 486 2158 483 2159 480 2159 472 2160 480 2160 485 2160 486 2161 478 2161 483 2161 487 2162 487 2162 476 2165 488 2165 483 2165 481 2166 479 2166 488 2166 481 2166 475 2167 475 2167 479 2168 476 2169 476 2169 479 2170 474 2170 481 2170 479 2171 481 2171 473 2172 479 2174 476 2174 473 2174 474 2175 474 2177 473 2235 487 2239 485 2239 485 2240 484 2240 487 2241 482 2241 482 2242 487 2242 486 2243 481 2244 479 2244 488 2245 483 2245 482 2246 486 2246 485 2246 479 2247 478 2248 475 2248 478 2249 486 2250 476 2251 475 2251 486 2251 476 2252 476 2252 478 2253 485 2253 476 2253 474 2253 478 2254 473 2255 485 2255 480 2255 472 2256 473 2259 476 2260 476 2262 482 2263 477 2267 474 2274 478 2285 487 2295 484 2295 479 2302 475 2329 473 2104 503 2107 502 2111 497 2114 499 2115 494 2121 494 2122 491 2122 501 2125 496 2126 494 2126 503 2128 504 2133 503 2134 500 2134 504 2135 496 2135 492 2135 493 2136 491 2136 504 2137 496 2138 491 2139 496 2139 490 2140 493 2141 502 2142 497 2143 503 2143 504 2145 495 2146 498 2146 491 2147 503 2147 500 2147 502 2147 500 2147 501 2148 492 2149 499 2149 499 2150 500 2150 499 2151 494 2151 492 2151 498 2153 499 2153 489 2154 495 2154 497 2155 489 2155 493 2155 492 2155 496 2155 495 2155 494 2155 495 2157 497 2159 492 2160 494 2225 504 2227 501 2228 503 2228 497 2229 498 2229 502 2229 494 2230 500 2230 496 2230 502 2230 504 2231 491 2231 501 2231 496 2231 494 2232 491 2233 489 2233 498 2234 494 2235 502 2235 499 2236 502 2236 497 2237 493 2238 489 2238 489 2238 493 2238 489 2239 497 2239 490 2239 503 2240 490 2241 493 2241 499 2241 503 2241 499 2242 501 2242 488 2244 497 2244 501 2249 500 2250 495 2251 498 2252 492 2263 497 2264 489 2268 496 2279 499 2283 500 2295 490 2314 492 2018 506 2066 513 2098 514 2101 513 2104 510 2104 514 2108 514 2110 514 2115 514 2117 518 2119 507 2122 517 2122 518 2123 518 2124 514 2124 516 2124 518 2125 513 2125 515 2126 514 2126 507 2126 510 2126 510 2127 519 2127 519 2127 512 2128 513 2128 518 2128 515 2128 511 2129 516 2130 513 2130 509 2131 520 2131 508 2132 517 2132 513 2133 505 2135 510 2137 512 2138 514 2138 507 2139 509 2139 511 2141 508 2142 511 2142 509 2144 509 2146 506 2147 505 2147 506 2147 504 2209 518 2210 520 2210 519 2211 516 2212 516 2212 519 2214 516 2215 510 2215 516 2216 519 2216 510 2216 513 2217 509 2217 513 2218 514 2218 519 2218 512 2220 510 2221 510 2221 520 2222 513 2222 516 2224 516 2224 514 2225 510 2225 515 2225 507 2226 504 2226 515 2226 506 2226 509 2227 505 2227 514 2228 510 2228 519 2229 506 2230 513 2233 506 2233 512 2234 511 2235 510 2235 514 2236 513 2236 507 2237 507 2240 508 2243 505 2245 507 2249 504 2262 517 2263 506 2264 505 2269 508 2271 509 2274 511 2327 519 2055 533 2081 536 2085 531 2087 536 2088 528 2093 533 2098 532 2100 523 2100 525 2101 533 2102 534 2104 534 2105 525 2105 528 2105 531 2106 532 2106 524 2107 528 2107 529 2107 534 2108 536 2108 536 2110 530 2110 535 2111 535 2111 530 2112 525 2113 526 2113 532 2114 523 2114 533 2114 534 2114 536 2115 532 2116 533 2116 522 2116 529 2117 524 2119 521 2119 532 2120 531 2120 529 2120 521 2121 526 2121 521 2121 523 2122 528 2122 523 2122 522 2124 526 2125 522 2190 536 2192 535 2194 532 2195 534 2195 536 2196 533 2197 531 2198 532 2198 527 2199 528 2200 531 2201 525 2202 531 2202 535 2202 529 2202 523 2203 527 2204 523 2204 531 2205 528 2205 524 2206 525 2207 521 2207 534 2208 523 2208 530 2209 522 2209 523 2209 523 2210 525 2211 524 2211 525 2213 525 2214 532 2214 521 2215 524 2215 525 2215 521 2215 532 2216 532 2217 536 2220 527 2224 520 2230 527 2302 529 2044 542 2049 547 2064 538 2065 548 2066 549 2068 542 2071 540 2074 546 2080 550 2083 541 2085 542 2088 539 2094 552 2095 548 2095 549 2096 552 2097 541 2097 552 2098 550 2098 543 2099 542 2099 551 2100 540 2100 545 2100 551 2101 551 2101 548 2101 543 2102 548 2102 538 2103 544 2103 549 2103 537 2103 537 2104 544 2104 549 2104 536 2105 549 2106 550 2106 546 2107 536 2107 544 2108 537 2109 545 2109 542 2112 544 2113 538 2113 537 2113 538 2175 548 2176 550 2176 546 2177 551 2177 549 2179 551 2179 548 2180 552 2180 544 2182 549 2182 549 2184 546 2185 547 2185 544 2186 552 2186 544 2186 545 2186 548 2186 542 2187 546 2187 541 2188 544 2188 545 2188 550 2188 542 2189 552 2189 543 2190 540 2190 538 2190 539 2191 547 2191 547 2192 538 2193 541 2193 541 2194 552 2195 539 2199 543 2199 550 2200 545 2203 539 2204 540 2204 547 2205 541 2206 549 2208 548 2209 551 2210 543 2211 549 2212 547 2213 545 2213 539 2213 536 2216 541 2217 537 2229 538 2231 543 2233 539 2253 552 2266 537 2269 539 2270 543 2036 564 2059 560 2062 558 2067 567 2070 568 2071 561 2073 566 2073 567 2074 566 2075 566 2077 555 2077 554 2080 558 2081 561 2082 554 2083 565 2084 568 2085 556 2085 564 2085 554 2085 561 2087 556 2088 562 2088 568 2089 563 2089 559 2089 558 2089 552 2089 558 2090 559 2090 565 2091 567 2091 561 2091 554 2092 567 2092 568 2092 560 2093 559 2093 561 2094 556 2094 559 2095 552 2095 553 2095 553 2096 554 2163 562 2163 562 2165 567 2165 561 2168 566 2168 561 2168 560 2168 560 2169 562 2169 564 2171 561 2172 559 2172 560 2172 556 2172 558 2173 558 2174 561 2174 554 2175 561 2175 555 2176 561 2176 557 2177 554 2177 564 2178 554 2178 564 2178 552 2178 555 2179 567 2180 558 2181 557 2184 558 2184 566 2187 558 2188 564 2188 560 2191 560 2192 552 2193 556 2193 566 2193 559 2195 556 2198 553 2199 562 2199 559 2201 567 2214 562 2221 557 2237 557 2345 563 1995 573 2002 582 2022 578 2030 574 2040 576 2046 578 2046 577 2047 571 2050 574 2054 582 2055 582 2058 582 2060 583 2062 581 2063 580 2063 584 2063 583 2064 577 2064 576 2064 578 2066 572 2067 584 2068 583 2068 582 2068 580 2069 575 2070 582 2071 581 2071 583 2072 573 2074 570 2074 570 2074 582 2075 584 2075 569 2075 575 2076 569 2076 571 2076 577 2076 573 2077 581 2078 584 2078 574 2078 577 2079 570 2079 573 2079 582 2079 573 2079 581 2079 573 2079 576 2080 580 2081 578 2081 569 2082 578 2082 578 2083 573 2083 574 2084 575 2084 575 2084 570 2084 574 2084 573 2084 570 2085 572 2085 572 2085 573 2086 573 2086 570 2087 568 2088 572 2088 571 2144 584 2146 582 2149 582 2149 582 2149 579 2149 584 2149 583 2150 579 2151 579 2152 578 2152 583 2153 577 2154 583 2154 574 2155 573 2155 575 2156 582 2158 575 2158 575 2158 574 2158 575 2159 571 2159 576 2160 570 2161 579 2161 575 2161 570 2161 580 2162 573 2162 573 2163 576 2163 577 2164 570 2165 575 2165 577 2165 569 2166 574 2166 572 2168 574 2168 573 2168 578 2169 569 2169 570 2169 568 2169 573 2171 575 2172 577 2173 576 2173 570 2177 569 2177 573 2179 570 2179 578 2183 577 2185 583 2186 568 2190 571 2194 582 2198 582 2208 579 2219 575 2242 571 2246 583 2016 598 2033 593 2035 595 2042 585 2043 592 2043 600 2044 585 2046 591 2047 599 2048 590 2050 586 2050 592 2051 595 2053 586 2054 591 2055 598 2055 598 2055 588 2056 594 2056 598 2057 593 2057 593 2058 599 2058 600 2058 591 2058 595 2059 594 2059 598 2059 600 2060 594 2061 595 2061 597 2061 597 2063 594 2065 590 2066 590 2067 587 2067 585 2068 588 2068 585 2071 587 2071 585 2072 587 2072 587 2072 587 2073 586 2074 588 2128 598 2128 597 2132 596 2132 596 2133 597 2135 599 2136 593 2136 593 2136 594 2137 593 2137 591 2138 595 2139 588 2139 599 2140 598 2140 588 2140 595 2140 596 2141 600 2143 585 2143 591 2144 591 2144 586 2144 593 2145 591 2146 587 2146 590 2146 584 2147 587 2148 587 2150 587 2150 586 2150 595 2150 589 2151 600 2152 589 2152 591 2153 594 2154 585 2154 589 2154 586 2155 594 2156 597 2157 595 2158 598 2159 589 2159 586 2161 597 2162 592 2164 586 2165 585 2165 590 2167 592 2170 595 2171 585 2178 597 2193 593 2217 588 2314 597 1980 604 1992 602 2006 608 2015 602 2022 608 2022 616 2026 613 2031 602 2033 609 2035 616 2037 607 2038 607 2039 605 2041 615 2041 608 2042 604 2043 603 2043 610 2043 612 2044 614 2044 611 2045 614 2045 606 2045 613 2046 612 2046 613 2046 607 2047 601 2047 614 2048 608 2048 606 2049 613 2049 601 2049 612 2049 606 2050 609 2050 603 2051 605 2051 610 2052 603 2052 604 2053 602 2053 603 2054 603 2054 605 2056 606 2056 602 2113 611 2114 609 2114 614 2115 616 2115 614 2115 616 2115 609 2116 613 2116 612 2118 611 2118 613 2119 610 2120 610 2120 606 2121 616 2121 613 2122 615 2122 608 2122 605 2122 606 2123 610 2124 603 2124 604 2125 608 2126 601 2126 610 2126 614 2127 601 2128 606 2128 608 2129 609 2129 604 2129 602 2130 613 2131 601 2131 602 2131 608 2132 605 2132 615 2133 613 2134 603 2135 602 2136 603 2136 605 2137 601 2139 613 2142 615 2143 603 2146 605 2148 602 2148 601 2150 610 2152 612 2153 601 2153 605 2158 610 2159 608 2160 611 2162 612 2163 600 2164 606 2168 611 2170 604 2186 603 2221 609 2242 601 1967 631 1988 620 2004 620 2007 619 2013 629 2013 626 2015 628 2019 622 2021 618 2021 622 2022 627 2022 626 2022 624 2023 629 2024 631 2025 627 2025 629 2026 628 2027 622 2028 620 2028 621 2029 624 2029 630 2029 628 2030 630 2030 618 2030 617 2030 625 2030 629 2031 617 2032 621 2032 621 2032 621 2033 628 2033 630 2034 622 2036 621 2036 619 2037 624 2037 626 2038 619 2039 619 2039 618 2039 623 2039 618 2041 619 2042 620 2043 619 2043 616 2044 616 2044 616 2090 629 2090 628 2090 629 2091 630 2092 631 2093 629 2093 630 2094 627 2096 630 2097 623 2097 624 2099 625 2100 624 2100 628 2100 625 2101 626 2101 622 2102 623 2103 622 2104 629 2104 630 2104 620 2104 620 2104 624 2105 620 2105 626 2106 617 2106 625 2107 616 2107 623 2107 618 2108 629 2109 619 2109 618 2110 630 2110 625 2110 625 2111 622 2111 623 2111 622 2111 622 2112 617 2113 627 2115 624 2115 620 2116 630 2117 616 2118 622 2121 616 2128 618 2137 624 2138 625 2141 621 2148 621 2151 624 2152 619 2152 622 2167 627 2174 621 2175 616 2179 626 2180 620 2181 631 2191 618 1985 646 1987 642 1987 645 1994 638 2001 633 2003 634 2006 639 2007 632 2007 633 2007 646 2007 647 2009 636 2010 644 2011 643 2012 645 2012 638 2012 640 2013 648 2014 647 2014 638 2014 647 2018 646 2020 637 2020 643 2020 639 2021 644 2021 641 2021 644 2021 643 2022 642 2022 642 2022 642 2023 642 2023 641 2024 641 2025 634 2025 637 2026 639 2027 637 2027 637 2029 635 2029 636 2068 646 2071 646 2072 647 2072 647 2075 646 2075 648 2077 646 2078 648 2078 642 2078 647 2079 643 2079 641 2079 640 2080 644 2081 639 2081 639 2081 641 2081 636 2082 640 2082 634 2082 635 2083 636 2084 635 2085 645 2085 644 2086 633 2087 645 2088 643 2088 633 2088 636 2089 646 2090 640 2091 646 2092 635 2092 632 2093 640 2094 637 2094 634 2094 639 2097 640 2100 644 2102 633 2107 644 2109 633 2110 634 2112 643 2112 638 2113 633 2120 645 2121 644 2123 636 2134 633 2139 648 2155 641 2158 645 2163 636 2166 640 2167 646 2218 637 1939 660 1960 661 1962 648 1978 657 1980 661 1989 652 1989 662 1990 663 1992 653 1992 658 1993 657 1994 663 1995 662 1995 653 1996 648 1997 664 1997 662 1999 660 1999 660 2000 657 2001 659 2001 663 2003 653 2003 650 2003 657 2004 657 2004 656 2004 658 2004 661 2004 656 2005 648 2006 661 2006 662 2007 653 2007 658 2007 653 2008 657 2008 656 2008 654 2008 654 2009 652 2010 654 2013 648 2013 649 2052 662 2052 662 2053 663 2053 664 2054 662 2055 658 2055 659 2056 660 2057 661 2058 664 2058 657 2059 662 2059 655 2060 660 2060 661 2060 654 2061 661 2061 655 2061 656 2062 663 2062 654 2062 654 2063 653 2063 662 2064 651 2064 659 2065 652 2065 662 2066 658 2066 649 2069 656 2070 655 2070 656 2070 650 2071 649 2071 654 2072 652 2072 650 2073 659 2075 652 2077 653 2077 653 2078 651 2079 655 2079 656 2079 649 2081 648 2084 661 2084 651 2084 651 2089 657 2089 660 2091 657 2098 652 2100 657 2102 655 2108 654 2109 664 2110 661 2122 653 2144 663 2149 657 2163 663 2178 654 2205 654 1929 672 1959 667 1970 670 1974 669 1976 670 1977 678 1981 671 1982 674 1983 676 1983 666 1984 670 1984 672 1984 676 1984 673 1985 679 1986 670 1986 668 1987 677 1988 671 1988 679 1989 666 1989 674 1989 676 1991 669 1993 674 1993 671 1995 671 1996 671 1997 668 1998 667 1998 669 1998 669 1998 667 2029 680 2029 679 2031 679 2032 678 2035 676 2035 675 2035 675 2038 677 2039 674 2040 675 2040 677 2040 673 2040 678 2041 671 2041 672 2041 670 2043 675 2045 671 2046 672 2046 673 2047 676 2047 677 2049 668 2049 666 2049 674 2049 672 2051 668 2051 672 2051 665 2051 673 2052 672 2053 669 2053 670 2054 671 2055 669 2056 665 2056 677 2060 671 2061 677 2062 675 2062 680 2064 665 2064 666 2064 665 2065 666 2065 664 2065 664 2066 668 2070 666 2073 669 2073 666 2077 669 2084 670 2086 675 2087 668 2098 672 2099 677 2192 665 1900 689 1943 694 1948 685 1956 693 1957 692 1957 688 1958 688 1963 691 1963 695 1963 692 1963 689 1964 690 1965 690 1965 694 1965 694 1967 680 1968 692 1968 695 1968 682 1969 690 1969 695 1971 685 1973 694 1975 692 1975 688 1975 681 1976 693 1976 686 1977 693 1977 684 1978 687 1978 688 1980 692 1980 691 1980 683 1981 689 1981 687 1981 686 1981 691 1982 690 1982 692 1983 681 1983 687 1983 686 1983 682 1984 680 1985 683 1985 685 1986 682 2014 695 2015 690 2015 694 2015 691 2016 692 2016 694 2017 692 2017 693 2017 689 2018 692 2018 692 2020 691 2020 691 2022 691 2022 686 2022 687 2022 685 2023 686 2023 685 2023 688 2024 690 2024 686 2025 695 2025 683 2026 692 2026 694 2027 683 2028 692 2029 683 2029 682 2029 687 2029 683 2029 685 2030 683 2030 685 2030 687 2031 693 2031 681 2032 685 2032 684 2033 681 2036 688 2036 693 2037 683 2037 681 2037 695 2038 693 2039 686 2040 686 2042 683 2042 683 2044 683 2044 696 2046 690 2046 691 2047 685 2064 682 2074 686 2075 682 2079 680 2083 692 2086 683 2091 693 2093 680 2117 683 2180 681 1932 710 1933 701 1934 697 1939 702 1942 711 1943 711 1944 706 1946 711 1950 701 1951 698 1954 703 1956 709 1956 708 1956 710 1958 702 1958 707 1958 708 1959 710 1959 709 1959 711 1960 707 1960 708 1961 708 1961 703 1962 700 1962 706 1962 702 1963 701 1966 706 1967 702 1967 701 1967 698 1967 702 1967 701 1968 699 1969 699 1969 700 1969 698 1970 702 1972 697 1972 701 1975 696 1997 711 1998 711 1998 712 2000 710 2000 709 2000 709 2002 706 2003 707 2003 710 2005 707 2006 710 2006 706 2006 707 2006 702 2007 706 2008 701 2010 705 2010 703 2010 708 2010 704 2010 698 2012 699 2012 700 2012 711 2013 705 2013 697 2014 707 2014 705 2016 711 2016 706 2017 700 2017 701 2017 710 2019 708 2021 704 2021 708 2022 698 2024 696 2025 698 2030 703 2035 698 2037 703 2038 698 2040 708 2041 700 2049 709 2061 700 2068 698 2070 704 2086 707 2096 704 2193 705 1886 717 1904 728 1919 721 1924 724 1927 719 1932 728 1933 725 1939 717 1939 721 1940 722 1940 719 1940 726 1940 722 1943 716 1943 724 1944 727 1944 726 1945 722 1945 726 1946 716 1946 724 1948 719 1948 722 1948 716 1948 723 1949 720 1949 723 1950 715 1950 720 1950 719 1951 719 1951 719 1951 716 1952 716 1953 713 1954 716 1954 716 1954 713 1955 714 1955 717 1955 717 1956 717 1979 727 1979 725 1980 727 1982 728 1982 723 1985 719 1985 720 1986 722 1986 719 1986 725 1987 719 1988 723 1988 726 1989 719 1990 719 1990 717 1991 721 1991 719 1992 723 1993 721 1993 717 1994 716 1994 719 1994 718 1995 713 1995 727 1995 725 1996 722 1997 719 1997 714 1998 718 1998 727 1998 716 2000 714 2003 712 2005 715 2006 716 2008 717 2011 720 2013 715 2015 728 2016 717 2018 716 2020 717 2021 723 2025 719 2026 720 2030 721 2031 717 2032 722 2034 722 2036 712 2053 718 2072 716 2117 715 2134 717 2240 717 1904 735 1915 737 1921 744 1922 742 1922 741 1924 742 1925 743 1926 735 1927 743 1928 743 1929 743 1930 742 1930 736 1931 736 1931 736 1931 742 1931 740 1931 738 1932 739 1932 728 1933 734 1934 730 1935 732 1935 732 1935 728 1935 733 1935 738 1935 737 1935 737 1935 734 1936 731 1937 730 1937 729 1938 730 1938 730 1941 729 1956 742 1957 743 1959 741 1959 744 1960 738 1961 742 1961 739 1961 738 1961 744 1962 742 1962 742 1962 738 1963 740 1963 737 1963 737 1964 737 1964 736 1965 736 1966 738 1966 733 1967 742 1968 734 1969 735 1969 737 1970 733 1971 732 1971 728 1971 734 1972 736 1972 731 1972 742 1974 735 1974 731 1975 730 1975 735 1976 732 1976 729 1978 732 1979 742 1979 739 1980 735 1980 733 1981 728 1981 730 1982 735 1983 743 1983 728 1986 732 1986 730 1989 730 1990 739 2000 734 2001 740 2004 732 2012 737 2013 737 2040 731 2050 731 2052 737 1895 750 1896 746 1901 759 1903 755 1903 757 1908 758 1910 756 1910 748 1911 756 1911 758 1911 758 1911 755 1912 756 1912 753 1912 757 1913 755 1914 759 1914 754 1914 754 1914 758 1915 749 1915 758 1915 754 1916 756 1918 754 1918 755 1918 756 1919 744 1919 754 1919 756 1920 753 1920 748 1920 751 1921 751 1923 747 1924 746 1925 749 1925 750 1926 746 1927 744 1928 747 1928 747 1941 760 1942 757 1942 759 1945 758 1945 758 1945 753 1945 753 1946 754 1946 758 1946 755 1946 754 1946 754 1947 754 1947 758 1947 757 1948 752 1951 752 1951 750 1951 747 1952 749 1952 754 1952 747 1952 747 1952 749 1953 745 1954 745 1955 744 1956 752 1956 744 1957 746 1958 749 1958 747 1959 752 1959 748 1961 755 1964 747 1966 745 1967 749 1970 753 1973 754 1973 747 1977 748 1977 745 1985 748 1990 751 1993 750 1860 764 1882 762 1883 771 1891 775 1891 766 1894 767 1896 771 1897 776 1897 775 1900 766 1900 776 1900 775 1900 773 1901 774 1901 767 1902 775 1902 763 1902 768 1903 771 1903 764 1904 773 1904 770 1904 770 1904 763 1905 769 1905 761 1906 771 1906 760 1906 766 1907 769 1908 768 1908 764 1908 762 1910 764 1911 764 1911 761 1912 763 1912 762 1913 762 1921 775 1922 775 1925 772 1926 772 1927 774 1927 775 1927 775 1927 772 1928 769 1928 768 1930 770 1930 773 1931 771 1931 768 1931 767 1931 774 1932 768 1932 773 1933 776 1933 771 1933 767 1934 771 1934 771 1936 770 1936 762 1936 764 1936 767 1937 769 1937 763 1938 764 1938 765 1939 773 1939 763 1939 763 1940 761 1941 761 1942 768 1943 771 1943 763 1943 770 1944 769 1946 760 1947 766 1949 763 1951 766 1954 765 1958 767 1960 771 1961 775 1962 761 1978 767 1979 760 1987 767 2006 775 1864 782 1874 787 1875 782 1875 792 1876 776 1880 780 1881 786 1881 780 1882 785 1882 788 1882 790 1882 790 1883 791 1883 790 1884 791 1884 788 1886 788 1886 780 1886 790 1887 789 1887 792 1887 787 1887 789 1887 788 1888 790 1888 783 1888 786 1888 784 1888 787 1890 785 1892 785 1892 781 1893 777 1893 782 1894 779 1894 779 1895 778 1895 777 1895 780 1895 778 1896 782 1898 779 1899 780 1900 778 1900 791 1900 791 1902 791 1902 790 1903 789 1903 790 1905 788 1905 787 1906 790 1906 784 1907 785 1908 784 1909 789 1911 791 1911 783 1911 786 1912 786 1912 786 1912 786 1913 785 1913 787 1913 787 1914 779 1914 778 1914 784 1914 781 1914 779 1915 779 1915 783 1915 780 1915 787 1916 778 1916 790 1917 783 1919 782 1919 779 1920 777 1920 782 1921 782 1925 786 1925 787 1926 780 1926 778 1929 777 1932 777 1934 783 1935 780 1940 789 1940 777 1962 778 2007 791 1844 807 1854 808 1856 797 1863 801 1863 807 1863 795 1863 803 1867 807 1867 806 1867 805 1869 805 1870 806 1870 805 1871 803 1872 800 1872 795 1872 802 1872 805 1872 802 1874 803 1875 803 1875 795 1876 800 1876 797 1876 795 1877 798 1877 795 1877 801 1878 800 1878 800 1879 797 1880 796 1880 792 1882 797 1882 797 1882 793 1883 795 1885 793 1885 808 1890 804 1890 804 1890 801 1891 801 1892 801 1892 803 1892 803 1893 800 1893 799 1893 799 1894 798 1894 804 1895 804 1896 803 1897 799 1897 799 1898 795 1899 798 1899 796 1900 808 1900 799 1901 807 1901 802 1903 798 1904 800 1904 808 1904 792 1905 801 1907 794 1908 793 1909 792 1910 796 1913 793 1914 797 1914 799 1916 808 1917 794 1918 797 1921 795 1923 799 1926 800 1928 794 1933 796 1846 821 1847 812 1853 818 1857 817 1858 824 1858 818 1859 822 1859 814 1859 818 1861 815 1863 820 1863 811 1863 819 1864 815 1865 818 1865 815 1865 813 1865 815 1865 814 1865 818 1866 820 1866 824 1867 814 1867 823 1867 823 1867 810 1867 823 1867 813 1868 821 1868 816 1869 816 1869 813 1869 822 1869 817 1869 821 1869 820 1869 810 1870 820 1870 809 1870 819 1870 814 1870 812 1872 818 1872 817 1873 817 1873 816 1874 819 1874 822 1874 814 1874 822 1876 816 1876 817 1876 814 1876 814 1878 822 1879 812 1879 813 1881 813 1883 818 1883 823 1883 812 1883 809 1884 813 1884 813 1884 812 1885 814 1885 819 1885 820 1885 815 1886 814 1888 811 1888 810 1888 809 1890 814 1890 813 1891 820 1891 819 1893 813 1893 814 1895 815 1895 821 1897 810 1901 817 1903 812 1906 814 1909 813 1920 811 1929 814 1930 820 1962 818 2143 822 1834 838 1838 834 1842 826 1842 833 1843 838 1846 830 1847 828 1847 835 1848 837 1848 836 1850 833 1851 840 1852 826 1852 838 1853 826 1854 826 1854 827 1855 828 1857 831 1857 826 1858 831 1858 831 1858 834 1858 838 1858 830 1859 826 1859 836 1860 824 1860 828 1860 838 1862 824 1862 835 1862 828 1862 833 1863 826 1863 828 1863 828 1863 825 1867 824 1869 831 1869 829 1872 824 1872 837 1872 827 1873 836 1873 835 1874 827 1877 830 1879 830 1889 833 1892 826 1896 839 1904 834 1811 855 1820 854 1825 840 1826 855 1826 856 1829 847 1830 850 1831 853 1831 847 1832 846 1833 840 1839 854 1840 845 1842 844 1843 850 1844 841 1845 847 1846 853 1846 842 1847 841 1848 850 1848 840 1851 845 1852 843 1855 847 1856 854 1864 849 1866 849 1868 853 1875 840 1878 847 1900 854 2009 852 1805 861 1812 868 1823 858 1824 857 1827 858 1828 858 1834 864 1855 857 1863 857 1883 859 1909 864 2054 859 1810 887 1822 873 1835 874 1819 891 1860 897" fill="none" stroke="none" marker-start="url(#mb)" marker-mid="url(#mb)" marker-end="url(#mb)" transform="scale(0.5)"/>
<path d="M1250.5 96.3 1248.9 95.5 1250.5 95.4 1250.5 96.3ZM934.5 413.5 933.5 413.8 931.5 413.1 930.3 411.5 929.8 410.5 930.5 407.0 931.9 406.5 931.4 405.5 933.5 402.4 935.2 401.5 936.5 398.8 938.5 397.6 939.5 394.5 940.5 395.7 941.5 392.3 942.5 391.5 943.5 392.4 945.5 389.5 946.5 390.0 949.5 385.0 950.6 384.5 951.8 382.5 953.1 381.5 953.5 378.0 954.5 378.1 955.2 377.5 955.1 376.5 960.1 374.5 963.1 369.5 964.5 369.3 965.3 368.5 965.5 365.8 966.4 364.5 967.5 364.2 968.5 362.6 969.5 363.0 970.5 362.4 971.7 359.5 972.5 359.4 973.5 358.4 974.5 358.9 974.8 358.5 974.1 357.5 977.1 355.5 978.5 352.4 979.5 351.8 980.5 352.2 981.2 351.5 981.8 350.5 981.5 349.3 982.5 347.8 985.5 347.5 987.5 346.4 988.1 344.5 989.8 342.5 989.3 341.5 990.7 340.5 992.5 336.9 995.8 334.5 996.5 333.0 997.5 333.0 999.9 330.5 1001.2 328.5 1001.5 326.5 1004.5 323.4 1006.5 322.5 1012.1 317.5 1013.5 314.5 1012.5 312.1 1015.2 311.5 1015.5 310.5 1017.0 309.5 1017.2 308.5 1018.5 309.9 1019.2 309.5 1019.4 307.5 1020.5 306.0 1021.7 306.5 1021.4 304.5 1021.9 303.5 1022.5 303.0 1023.5 303.9 1024.2 303.5 1023.1 301.5 1025.8 301.5 1025.5 299.1 1026.5 299.2 1027.2 298.5 1027.5 296.8 1029.5 296.9 1029.9 296.5 1030.0 295.5 1031.4 294.5 1032.5 292.4 1032.9 291.5 1032.5 290.5 1033.3 289.5 1033.8 289.5 1033.8 290.5 1034.5 291.3 1036.7 290.5 1037.5 288.5 1039.1 287.5 1038.5 286.8 1037.5 287.3 1036.2 285.5 1037.5 285.3 1038.5 285.9 1038.9 285.5 1038.1 284.5 1038.5 284.1 1039.5 283.6 1040.5 284.3 1042.5 283.5 1042.4 282.5 1043.5 281.5 1044.3 278.5 1045.5 276.5 1046.5 276.8 1048.3 275.5 1048.1 274.5 1049.5 272.7 1050.5 272.7 1051.5 271.8 1053.0 271.5 1051.4 270.5 1053.5 268.5 1053.8 267.5 1051.5 266.5 1055.5 265.0 1056.5 265.9 1057.2 264.5 1058.4 263.5 1058.5 262.1 1060.1 261.5 1060.0 260.5 1060.9 259.5 1060.2 258.5 1061.5 258.3 1062.5 256.9 1063.5 257.0 1064.5 255.6 1065.5 256.9 1067.2 255.5 1067.5 254.3 1068.5 254.3 1069.1 253.5 1070.5 253.0 1071.4 251.5 1071.5 249.5 1073.2 248.5 1073.5 247.5 1074.5 247.4 1075.5 245.9 1076.6 247.5 1077.0 246.5 1075.5 245.0 1075.5 243.9 1077.5 244.1 1078.0 242.5 1077.5 242.0 1075.5 242.9 1075.5 240.9 1076.5 241.2 1077.5 240.0 1078.5 240.0 1080.5 241.2 1082.9 240.5 1081.9 239.5 1082.5 238.9 1083.5 238.6 1085.5 236.2 1087.1 235.5 1089.5 232.2 1092.5 230.8 1093.1 229.5 1095.4 227.5 1094.1 226.5 1095.3 225.5 1095.5 224.3 1098.9 222.5 1099.5 221.0 1101.3 220.5 1101.5 219.5 1103.7 217.5 1107.5 217.3 1108.5 216.5 1108.2 215.5 1109.2 214.5 1109.2 213.5 1110.4 212.5 1109.7 211.5 1111.5 211.3 1113.5 207.6 1116.7 207.5 1119.5 205.4 1120.5 205.9 1121.4 203.5 1123.5 202.8 1124.5 201.5 1125.5 201.1 1130.9 193.5 1131.5 193.0 1132.5 193.2 1137.0 188.5 1137.5 187.4 1139.5 187.3 1140.2 186.5 1140.2 185.5 1142.5 185.3 1143.2 182.5 1146.3 181.5 1146.2 180.5 1147.9 179.5 1148.2 177.5 1149.5 176.5 1152.5 176.0 1154.5 174.4 1156.5 173.6 1157.5 171.7 1158.5 172.1 1159.7 171.5 1162.8 166.5 1161.5 165.4 1164.5 165.2 1165.5 164.2 1167.5 164.7 1168.2 162.5 1175.1 157.5 1173.5 157.4 1173.2 156.5 1175.5 156.2 1176.3 155.5 1176.5 154.3 1179.5 153.4 1181.1 151.5 1180.5 150.4 1183.5 149.4 1185.5 148.1 1186.5 146.4 1187.5 146.7 1190.5 143.0 1194.6 140.5 1195.5 138.7 1196.5 138.4 1197.5 136.1 1198.5 136.2 1200.5 133.8 1202.5 133.0 1203.5 133.2 1204.2 132.5 1203.8 130.5 1205.5 128.3 1206.5 127.7 1208.5 128.2 1210.5 127.3 1211.5 127.8 1211.9 127.5 1211.2 126.5 1211.5 124.7 1213.2 123.5 1215.5 120.4 1218.5 119.1 1219.5 117.5 1221.5 117.9 1222.5 117.6 1226.1 114.5 1225.4 112.5 1226.8 110.5 1226.3 109.5 1228.5 108.5 1229.5 107.5 1229.5 106.5 1230.5 107.5 1231.5 107.4 1232.5 105.5 1234.5 105.0 1235.5 105.7 1238.5 104.4 1240.2 102.5 1239.5 101.7 1237.5 102.2 1236.7 101.5 1238.3 100.5 1238.5 98.3 1239.5 99.5 1241.5 98.7 1242.4 96.5 1242.9 96.5 1244.3 97.5 1244.0 98.5 1244.5 99.1 1245.5 98.2 1246.5 98.5 1245.9 97.5 1246.5 97.1 1247.5 97.4 1248.5 95.8 1248.2 98.5 1246.6 100.5 1247.5 101.4 1248.6 101.5 1248.5 102.0 1246.5 102.6 1244.5 105.1 1243.5 102.2 1241.6 104.5 1243.0 105.5 1242.9 106.5 1240.5 112.3 1239.5 112.1 1239.0 112.5 1240.3 113.5 1235.3 117.5 1234.9 119.5 1234.5 120.2 1233.2 120.5 1232.5 122.6 1229.5 122.2 1228.7 123.5 1226.7 124.5 1226.0 125.5 1225.5 129.2 1224.5 131.1 1221.5 133.7 1218.5 135.3 1216.3 138.5 1213.5 140.5 1211.5 144.8 1209.5 145.9 1206.9 149.5 1204.5 150.7 1202.5 153.9 1200.8 154.5 1201.3 155.5 1200.7 156.5 1197.7 158.5 1197.2 160.5 1197.6 161.5 1196.9 162.5 1192.5 164.1 1191.5 165.5 1191.5 166.7 1190.5 165.8 1189.5 166.5 1188.9 167.5 1189.3 168.5 1187.8 169.5 1187.5 171.0 1186.5 170.8 1184.5 173.6 1179.6 177.5 1179.6 178.5 1180.5 179.5 1178.4 180.5 1178.5 181.5 1176.5 182.6 1174.5 186.8 1172.2 188.5 1172.5 189.5 1171.5 190.5 1171.5 191.9 1170.1 190.5 1169.5 189.0 1167.5 193.2 1166.5 193.3 1165.7 194.5 1165.2 196.5 1162.0 199.5 1158.5 204.5 1156.5 206.4 1154.3 205.5 1155.2 206.5 1154.5 206.7 1151.2 210.5 1151.5 212.8 1149.5 213.7 1148.9 215.5 1146.5 215.9 1144.7 217.5 1143.7 219.5 1143.8 220.5 1142.0 221.5 1141.1 223.5 1138.5 226.5 1135.0 228.5 1131.5 232.5 1129.5 233.8 1129.1 234.5 1129.6 235.5 1128.5 236.3 1128.7 237.5 1128.0 238.5 1126.5 238.1 1125.6 239.5 1125.7 240.5 1123.5 241.3 1121.5 244.3 1118.3 245.5 1118.8 246.5 1117.1 247.5 1117.3 248.5 1116.5 250.3 1115.4 251.5 1116.4 252.5 1115.3 254.5 1111.5 256.6 1110.4 257.5 1110.1 258.5 1108.7 258.5 1108.5 257.1 1108.1 257.5 1108.4 258.5 1106.9 259.5 1107.3 260.5 1106.7 261.5 1104.5 262.5 1105.1 263.5 1102.5 263.6 1101.1 264.5 1100.6 265.5 1098.5 266.7 1096.1 270.5 1096.3 271.5 1095.5 273.5 1094.3 274.5 1092.5 274.6 1091.5 275.5 1091.4 276.5 1090.5 277.0 1089.5 276.9 1089.0 277.5 1089.0 279.5 1087.5 279.5 1086.5 281.5 1086.5 282.9 1085.5 282.2 1081.5 283.9 1081.1 284.5 1081.5 285.2 1082.5 283.8 1083.5 285.6 1084.7 286.5 1082.2 287.5 1083.1 288.5 1080.5 288.7 1078.5 289.7 1077.4 289.5 1076.5 293.0 1075.5 294.1 1074.5 294.0 1073.5 295.3 1072.5 294.2 1071.0 295.5 1070.5 297.2 1069.5 296.7 1068.9 297.5 1068.5 299.6 1065.5 301.1 1064.5 300.8 1064.1 301.5 1065.1 302.5 1062.5 304.3 1062.4 305.5 1060.5 306.3 1059.5 308.3 1058.5 307.3 1057.5 307.0 1057.0 307.5 1056.6 308.5 1057.2 309.5 1056.5 310.1 1055.2 309.5 1055.2 310.5 1054.0 311.5 1054.5 312.7 1048.5 314.3 1046.5 315.5 1046.5 316.5 1045.5 317.2 1043.8 317.5 1042.0 320.5 1041.5 323.2 1039.5 324.0 1037.5 326.2 1035.5 325.7 1034.5 326.3 1031.9 329.5 1032.4 330.5 1031.1 331.5 1030.7 333.5 1029.5 332.6 1028.5 332.8 1021.5 338.6 1020.5 337.7 1017.3 340.5 1017.0 342.5 1016.5 342.8 1015.5 341.8 1014.5 342.4 1013.8 344.5 1010.8 347.5 1008.5 348.6 1006.5 351.7 1002.5 354.5 1003.6 355.5 1001.5 356.0 1000.5 357.3 999.5 357.4 997.0 359.5 997.3 360.5 996.5 360.6 995.5 361.8 992.5 361.7 990.7 364.5 991.0 365.5 988.5 367.2 986.5 367.6 985.5 367.0 984.6 367.5 983.9 369.5 981.3 371.5 980.5 373.0 978.5 373.8 977.5 375.6 976.5 374.9 975.8 375.5 974.5 378.9 973.5 378.9 971.5 382.4 969.5 384.5 967.5 384.2 967.5 385.8 966.5 386.0 965.5 387.9 963.5 387.9 961.5 389.6 960.5 389.7 958.7 391.5 958.5 393.5 957.2 392.5 955.9 394.5 956.5 395.8 954.5 395.1 953.5 395.4 951.5 398.4 949.5 399.7 948.8 401.5 945.8 402.5 945.8 403.5 944.5 403.6 942.5 407.2 940.8 408.5 939.5 408.6 937.5 409.9 936.6 411.5 934.5 413.5ZM1244.5 97.2 1244.0 96.5 1244.9 96.5 1244.5 97.2ZM1252.5 97.6 1252.0 97.5 1252.5 97.2 1252.5 97.6ZM1240.1 100.5 1239.5 99.5 1239.0 100.5 1239.5 101.1 1240.1 100.5ZM1234.7 107.5 1234.5 107.1 1234.7 107.5ZM1183.5 147.6 1183.0 147.5 1183.5 147.6ZM1179.5 151.8 1178.3 151.5 1179.9 151.5 1179.5 151.8ZM1177.5 153.1 1177.0 152.5 1177.7 152.5 1177.5 153.1ZM1166.5 164.0 1166.5 163.4 1166.5 164.0ZM1159.5 204.8 1158.5 204.5 1159.5 204.2 1159.5 204.8ZM1155.5 207.7 1155.5 206.7 1155.5 207.7ZM1149.5 216.6 1149.5 216.2 1149.5 216.6ZM1101.5 219.4 1101.5 218.4 1101.5 219.4ZM1063.5 255.7 1063.5 255.2 1064.1 255.5 1063.5 255.7ZM1061.5 256.6 1061.5 256.1 1061.9 256.5 1061.5 256.6ZM1090.4 275.5 1089.4 275.5 1090.4 275.5ZM1042.5 279.9 1042.5 279.0 1042.5 279.9ZM1074.5 296.0 1073.6 295.5 1074.5 295.0 1074.9 295.5 1074.5 296.0ZM1058.5 308.6 1058.5 307.8 1059.4 308.5 1058.5 308.6ZM1030.1 331.5 1029.5 330.2 1028.9 331.5 1029.5 332.4 1030.1 331.5ZM1009.7 346.5 1009.3 346.5 1009.7 346.5ZM956.6 377.5 956.1 377.5 956.6 377.5ZM943.5 408.6 943.2 407.5 944.5 406.3 944.5 408.1 943.5 408.6ZM934.8 411.5 934.0 411.5 934.5 412.2 934.8 411.5ZM930.5 415.6 928.0 413.5 928.5 412.9 929.6 412.5 931.0 414.5 930.5 415.6Z" fill="#c46b6e" fill-rule="evenodd"/>
<path d="M746 1321 864 1365 910 1361 995 1409 1123 1436 900 1461 1049 1453 1054 1455 1097 1461 1113 1463 1121 1452 1150 1460 1154 1464 889 1477 1002 1474 1007 1472 1014 1473 1071 1480 1101 1476 1104 1479 1108 1474 1110 1478 1116 1470 1117 1473 1121 1466 1124 1480 1126 1479 1128 1467 1128 1467 1129 1472 1132 1474 1134 1477 1135 1475 1137 1480 1137 1477 1142 1478 1142 1476 1144 1470 1144 1478 1145 1477 1145 1472 1145 1475 1146 1474 1146 1476 1147 1475 1147 1476 1148 1476 1148 1474 1149 1471 1150 1471 1152 1469 1154 1473 1154 1473 1154 1472 1154 1473 1155 1473 1155 1467 1156 1473 1156 1472 1156 1473 1157 1472 1158 1474 1158 1478 1158 1476 1158 1477 1158 1477 1158 1475 1159 1479 1159 1478 1159 1477 1159 1471 1159 1476 1159 1475 1159 1480 1159 1476 1159 1479 1159 1474 1159 1474 1160 1478 1160 1480 1160 1469 1160 1476 1160 1479 782 1484 841 1488 879 1496 1012 1488 1019 1484 1022 1484 1023 1496 1036 1483 1042 1491 1048 1484 1051 1496 1053 1493 1056 1486 1065 1483 1071 1493 1073 1482 1076 1485 1077 1491 1088 1486 1088 1491 1092 1482 1094 1483 1094 1490 1095 1491 1096 1494 1097 1493 1097 1488 1098 1487 1100 1494 1101 1481 1103 1492 1103 1493 1106 1489 1108 1493 1109 1488 1109 1493 1111 1496 1112 1491 1112 1482 1114 1491 1114 1494 1115 1485 1116 1489 1118 1491 1118 1494 1119 1491 1119 1486 1119 1495 1119 1489 1120 1495 1120 1484 1121 1486 1121 1493 1121 1494 1121 1494 1122 1493 1122 1491 1122 1485 1124 1492 1124 1487 1124 1490 1125 1483 1126 1488 1127 1490 1127 1480 1127 1488 1127 1488 1128 1488 1129 1485 1130 1482 1130 1483 1132 1482 1132 1485 1134 1485 1134 1486 1135 1483 1135 1482 1136 1485 1137 1481 1137 1485 1137 1485 1140 1481 1140 1483 1140 1484 1141 1481 1154 1494 1155 1492 1155 1495 1155 1492 1156 1494 1157 1490 1157 1490 1157 1486 1157 1489 1157 1491 1157 1486 1158 1488 1158 1493 1158 1487 1158 1484 1158 1484 1159 1484 1159 1480 1159 1482 1159 1482 1159 1484 1159 1483 1159 1482 1159 1484 1159 1487 1159 1491 1159 1480 1160 1483 1160 1484 1160 1494 873 1498 894 1504 895 1512 925 1509 937 1511 964 1509 984 1508 987 1510 1011 1511 1022 1502 1042 1499 1044 1510 1047 1510 1049 1497 1051 1508 1051 1496 1052 1505 1054 1503 1057 1509 1059 1506 1065 1501 1066 1503 1066 1511 1066 1503 1067 1507 1067 1510 1067 1500 1068 1498 1070 1507 1071 1502 1072 1509 1072 1511 1074 1508 1074 1510 1075 1501 1076 1510 1076 1496 1078 1498 1078 1498 1079 1500 1079 1500 1080 1501 1080 1502 1080 1503 1081 1501 1081 1510 1082 1504 1082 1497 1083 1507 1084 1498 1084 1511 1084 1503 1084 1501 1085 1510 1085 1501 1085 1511 1085 1503 1086 1508 1086 1503 1087 1502 1088 1508 1088 1512 1088 1511 1089 1497 1089 1508 1091 1498 1091 1506 1092 1501 1092 1510 1092 1504 1092 1510 1092 1504 1093 1505 1093 1505 1094 1499 1095 1506 1095 1506 1095 1500 1095 1501 1096 1505 1096 1502 1096 1498 1096 1504 1096 1501 1097 1498 1097 1503 1098 1504 1098 1502 1098 1504 1101 1500 1102 1505 1103 1502 1103 1502 1105 1506 1105 1498 1105 1505 1105 1505 1106 1497 1107 1504 1107 1503 1107 1498 1108 1503 1109 1497 1110 1500 1110 1500 1110 1500 1111 1496 1111 1499 1112 1500 1113 1501 1113 1502 1113 1502 1116 1496 1143 1512 1144 1508 1145 1508 1145 1507 1145 1511 1145 1509 1145 1506 1146 1510 1146 1509 1148 1508 1148 1505 1149 1505 1149 1507 1149 1508 1150 1507 1150 1503 1150 1502 1151 1502 1151 1499 1152 1499 1153 1496 1153 1500 1153 1497 1153 1497 1153 1496 1153 1497 1155 1498 1156 1497 1156 1505 812 1516 831 1527 842 1523 868 1516 890 1524 895 1527 895 1520 926 1513 932 1521 940 1523 944 1524 946 1521 972 1521 972 1525 977 1521 997 1527 998 1526 1000 1526 1006 1516 1010 1521 1014 1523 1015 1516 1017 1522 1019 1524 1022 1528 1024 1512 1027 1523 1028 1519 1029 1517 1031 1521 1031 1528 1032 1525 1039 1526 1039 1525 1039 1512 1042 1528 1043 1525 1044 1527 1046 1526 1046 1524 1047 1528 1050 1518 1051 1516 1052 1524 1054 1520 1054 1525 1055 1526 1056 1518 1059 1526 1060 1526 1060 1520 1061 1525 1061 1516 1062 1518 1062 1522 1063 1518 1063 1515 1064 1527 1064 1522 1064 1524 1064 1524 1064 1515 1065 1524 1066 1521 1066 1522 1066 1521 1067 1521 1067 1518 1069 1517 1069 1518 1069 1515 1070 1519 1070 1514 1071 1515 1071 1520 1071 1521 1071 1520 1071 1523 1073 1514 1074 1525 1074 1517 1075 1519 1076 1525 1076 1525 1076 1526 1077 1515 1078 1521 1078 1523 1079 1521 1079 1513 1079 1517 1081 1516 1081 1522 1082 1515 1083 1519 1084 1516 1084 1513 1086 1515 1087 1512 1130 1525 1131 1526 1131 1527 1131 1527 1132 1525 1132 1526 1133 1527 1133 1527 1134 1526 1135 1524 1135 1523 1135 1520 1135 1519 1136 1524 1136 1518 1136 1517 1136 1525 1137 1516 1137 1524 1137 1518 1138 1515 1140 1516 1141 1517 1141 1520 1141 1517 1141 1514 1143 1517 1145 1514 1146 1520 1146 1513 1149 1525 635 1540 847 1529 868 1537 882 1536 883 1542 903 1534 906 1533 936 1542 939 1543 942 1533 951 1532 959 1534 968 1541 977 1541 977 1539 978 1541 978 1535 984 1530 986 1534 986 1537 991 1529 993 1544 994 1540 998 1543 1000 1541 1003 1533 1004 1538 1006 1539 1007 1533 1009 1529 1013 1534 1014 1539 1016 1538 1016 1541 1019 1540 1019 1541 1019 1539 1020 1529 1020 1538 1021 1538 1021 1536 1021 1544 1022 1539 1023 1542 1023 1538 1024 1543 1025 1532 1025 1540 1026 1533 1026 1538 1028 1538 1028 1536 1029 1540 1029 1533 1030 1540 1031 1537 1033 1540 1033 1537 1033 1532 1033 1531 1035 1544 1035 1528 1035 1538 1035 1535 1035 1543 1037 1542 1037 1544 1037 1539 1037 1541 1038 1533 1039 1533 1040 1535 1040 1540 1041 1534 1041 1540 1042 1534 1042 1531 1042 1536 1042 1535 1044 1540 1045 1533 1045 1535 1046 1543 1046 1541 1046 1541 1046 1531 1046 1535 1047 1531 1048 1531 1049 1531 1049 1538 1049 1538 1049 1537 1050 1536 1050 1536 1051 1530 1051 1531 1052 1530 1055 1537 1055 1536 1055 1532 1056 1536 1056 1530 1056 1532 1057 1532 1058 1531 1060 1533 1060 1531 1060 1534 1062 1528 1063 1529 1117 1544 1117 1542 1119 1541 1120 1543 1121 1541 1121 1537 1122 1536 1124 1537 1124 1541 1124 1537 1124 1542 1124 1534 1125 1533 1125 1536 1125 1537 1127 1536 1127 1535 1128 1531 1129 1528 1129 1530 1130 1530 1130 1540 1130 1529 1130 1530 1130 1532 1132 1539 1132 1533 1134 1535 1137 1531 1140 1533 1142 1530 760 1545 806 1554 841 1551 861 1552 880 1558 881 1560 907 1555 916 1551 919 1549 923 1554 932 1550 932 1546 934 1545 935 1560 941 1545 954 1559 957 1556 962 1549 963 1548 964 1545 969 1551 971 1546 971 1550 971 1555 976 1544 976 1559 978 1554 978 1552 981 1553 982 1554 983 1560 984 1552 985 1551 986 1549 987 1549 987 1544 989 1557 990 1558 990 1553 991 1550 991 1550 992 1553 992 1554 994 1551 995 1553 996 1557 997 1559 998 1546 998 1552 999 1559 1000 1559 1000 1552 1002 1555 1002 1559 1003 1560 1004 1557 1005 1556 1006 1558 1009 1559 1009 1560 1009 1550 1009 1550 1010 1549 1010 1558 1011 1553 1012 1555 1012 1554 1013 1555 1013 1558 1013 1546 1013 1556 1015 1552 1015 1559 1016 1559 1016 1546 1016 1555 1017 1557 1017 1549 1017 1546 1017 1555 1018 1554 1018 1554 1018 1553 1018 1555 1018 1549 1020 1558 1020 1554 1020 1552 1020 1553 1020 1557 1021 1556 1022 1549 1022 1550 1022 1556 1023 1551 1023 1557 1024 1547 1025 1555 1026 1547 1026 1553 1026 1553 1027 1549 1027 1548 1029 1553 1029 1548 1030 1553 1030 1549 1031 1549 1031 1551 1032 1545 1033 1547 1035 1548 1035 1547 1037 1546 1038 1544 1039 1548 1039 1545 1040 1548 1040 1548 1041 1547 1104 1557 1107 1553 1108 1553 1108 1555 1109 1551 1109 1559 1110 1556 1110 1557 1110 1552 1111 1559 1111 1560 1112 1550 1112 1556 1112 1550 1113 1559 1113 1548 1114 1551 1115 1553 1115 1547 1115 1559 1116 1548 1116 1545 1116 1548 1116 1547 1117 1546 1117 1548 1117 1547 1117 1547 1118 1547 1119 1548 1119 1546 1120 1544 1121 1545 1123 1557 1123 1549 1123 1548 1124 1546 1128 1546 744 1571 765 1571 766 1571 782 1571 809 1575 829 1566 829 1570 835 1566 843 1561 856 1571 858 1563 861 1569 877 1567 885 1564 892 1561 893 1572 908 1568 909 1567 912 1563 920 1572 923 1566 926 1571 930 1573 932 1574 932 1563 939 1569 940 1572 944 1569 948 1568 950 1562 953 1568 954 1562 958 1571 959 1573 965 1567 966 1571 967 1568 968 1563 969 1570 970 1572 971 1569 972 1570 973 1567 973 1563 973 1573 973 1565 973 1572 974 1562 974 1571 977 1562 979 1572 980 1565 980 1576 981 1573 981 1574 982 1562 984 1568 984 1565 986 1568 987 1568 988 1575 989 1567 991 1571 991 1570 991 1568 992 1572 992 1562 992 1567 992 1566 992 1574 992 1564 992 1562 993 1565 993 1565 994 1575 995 1565 995 1571 996 1564 996 1574 996 1568 997 1566 997 1573 997 1561 997 1563 997 1572 997 1575 998 1575 998 1569 999 1563 1001 1561 1001 1573 1003 1561 1003 1560 1003 1562 1004 1564 1005 1560 1005 1561 1007 1562 1014 1561 1019 1561 1088 1573 1089 1574 1089 1572 1090 1572 1090 1576 1091 1575 1091 1573 1094 1571 1094 1567 1094 1564 1095 1566 1095 1571 1096 1572 1097 1564 1097 1569 1098 1572 1098 1563 1099 1561 1099 1564 1099 1563 1099 1575 1100 1565 1101 1564 1101 1572 1101 1568 1101 1563 1102 1563 1104 1572 1104 1567 1104 1561 1104 1574 1104 1563 1106 1566 1108 1560 1109 1571 1115 1564 1132 1561 777 1592 803 1577 815 1587 845 1581 862 1578 872 1580 883 1582 898 1585 899 1580 905 1581 906 1583 911 1579 911 1591 912 1582 912 1589 912 1591 917 1586 919 1587 919 1581 921 1581 921 1578 925 1588 925 1592 926 1581 932 1580 934 1586 936 1586 936 1590 937 1578 937 1590 938 1577 938 1577 939 1582 941 1577 942 1590 943 1587 943 1591 943 1592 943 1583 943 1581 946 1578 946 1586 949 1579 951 1583 952 1591 954 1583 955 1586 956 1577 956 1589 960 1579 960 1578 960 1586 961 1592 962 1590 962 1576 963 1588 963 1589 964 1589 964 1592 965 1579 965 1587 966 1582 967 1584 968 1582 969 1576 969 1576 969 1576 969 1580 970 1591 971 1590 971 1588 971 1590 971 1578 972 1588 972 1589 972 1586 972 1590 973 1589 975 1580 975 1582 975 1579 975 1585 975 1576 976 1584 976 1578 977 1590 977 1586 977 1584 977 1585 978 1584 979 1584 980 1577 980 1581 980 1580 981 1585 981 1586 982 1584 982 1583 982 1577 982 1581 983 1585 984 1580 984 1576 986 1583 986 1582 988 1583 988 1582 988 1579 989 1580 989 1582 989 1578 990 1584 990 1581 990 1582 991 1581 992 1578 996 1576 1062 1591 1062 1591 1063 1591 1064 1590 1065 1589 1066 1589 1067 1592 1068 1590 1070 1588 1071 1585 1071 1589 1071 1591 1072 1584 1072 1590 1072 1585 1073 1591 1074 1591 1075 1585 1076 1583 1076 1583 1077 1589 1077 1581 1078 1580 1078 1581 1079 1581 1079 1586 1080 1585 1080 1586 1081 1581 1082 1579 1082 1577 1083 1587 1083 1578 1083 1585 1084 1578 1084 1576 1084 1576 1084 1577 1086 1586 1086 1586 1087 1585 1087 1577 1087 1584 1089 1582 1090 1579 1090 1583 1091 1577 1091 1576 1096 1585 1099 1579 1099 1581 1114 1590 1121 1579 1133 1587 735 1598 774 1595 798 1597 811 1600 811 1598 814 1602 827 1607 828 1608 833 1596 845 1602 845 1608 845 1600 846 1597 850 1596 857 1606 857 1606 860 1600 868 1599 870 1595 871 1598 876 1599 883 1594 885 1604 888 1605 888 1608 889 1600 894 1600 897 1593 900 1600 902 1594 904 1599 905 1596 907 1606 911 1601 911 1598 911 1606 911 1605 912 1603 914 1603 918 1604 921 1604 921 1602 921 1596 922 1607 923 1595 926 1599 927 1607 927 1608 927 1607 927 1599 929 1598 930 1598 934 1596 935 1607 935 1607 937 1605 937 1595 938 1595 940 1596 941 1598 941 1603 942 1596 942 1595 943 1599 943 1598 944 1599 944 1604 945 1600 946 1607 948 1602 948 1593 949 1604 949 1598 950 1607 950 1600 950 1603 951 1608 951 1594 951 1601 952 1604 953 1592 953 1603 953 1601 954 1605 954 1601 955 1601 955 1600 955 1603 957 1604 958 1605 958 1599 958 1597 958 1603 959 1601 959 1601 960 1593 960 1597 961 1602 961 1605 963 1597 964 1595 964 1601 966 1597 966 1595 967 1593 967 1593 967 1595 969 1592 969 1596 969 1596 971 1595 972 1593 1032 1604 1035 1602 1036 1605 1036 1606 1037 1605 1038 1603 1038 1599 1039 1607 1039 1603 1040 1598 1041 1600 1042 1605 1043 1604 1043 1600 1044 1603 1044 1606 1045 1602 1047 1605 1048 1604 1049 1605 1049 1608 1050 1603 1050 1606 1050 1602 1050 1602 1050 1602 1052 1604 1053 1606 1054 1597 1055 1601 1055 1596 1055 1599 1056 1606 1056 1600 1057 1603 1057 1595 1058 1603 1059 1595 1059 1599 1060 1599 1060 1594 1061 1596 1062 1592 1062 1592 1063 1608 1064 1598 1064 1599 1064 1600 1065 1599 1065 1601 1067 1594 1068 1597 1068 1601 1069 1597 1069 1592 1077 1602 1079 1600 1080 1597 1080 1596 1083 1594 1087 1594 1088 1592 1090 1598 1091 1595 1094 1602 1095 1597 1095 1593 1099 1606 729 1616 783 1617 804 1621 804 1621 810 1610 817 1611 820 1615 830 1623 834 1615 838 1614 844 1614 846 1621 852 1614 861 1622 871 1610 872 1621 872 1620 875 1615 876 1623 877 1624 878 1609 881 1616 885 1609 885 1612 885 1621 886 1623 887 1615 887 1612 888 1618 888 1618 890 1619 891 1616 892 1620 892 1620 893 1609 894 1619 896 1618 896 1613 897 1614 898 1624 899 1623 899 1620 900 1616 900 1623 900 1621 902 1609 902 1611 904 1608 905 1613 906 1618 906 1618 906 1610 907 1621 908 1618 908 1613 909 1611 909 1624 909 1619 910 1620 910 1613 911 1621 912 1623 913 1616 913 1609 914 1624 914 1617 915 1620 915 1620 917 1621 917 1620 918 1622 919 1624 919 1617 920 1617 920 1620 920 1611 921 1617 921 1621 921 1611 922 1615 922 1613 922 1621 922 1610 922 1617 922 1612 924 1620 924 1610 924 1621 924 1610 924 1621 925 1620 925 1619 925 1612 926 1624 927 1613 927 1622 928 1621 928 1615 928 1613 928 1614 929 1610 929 1611 929 1622 929 1623 930 1615 930 1612 931 1616 932 1610 932 1612 932 1615 932 1610 932 1610 932 1614 933 1623 933 1623 933 1609 933 1623 935 1618 937 1616 937 1620 938 1615 938 1610 938 1623 938 1621 939 1614 939 1621 939 1619 939 1621 940 1614 941 1613 941 1621 941 1612 941 1616 942 1616 942 1617 942 1611 943 1611 944 1620 945 1613 946 1622 946 1615 947 1613 947 1610 947 1609 948 1622 950 1609 950 1610 951 1610 1019 1623 1020 1622 1025 1620 1025 1622 1026 1619 1027 1620 1027 1619 1028 1617 1028 1622 1028 1622 1029 1617 1029 1619 1029 1620 1031 1621 1032 1621 1033 1620 1033 1612 1033 1619 1033 1614 1033 1621 1034 1614 1034 1614 1035 1610 1035 1608 1035 1616 1036 1617 1036 1611 1036 1617 1036 1617 1037 1614 1037 1614 1038 1623 1039 1618 1040 1612 1040 1617 1041 1612 1044 1617 1044 1610 1045 1609 1045 1617 1046 1614 1048 1611 1048 1618 1048 1618 1048 1614 1048 1612 1048 1609 1049 1612 1050 1613 1050 1612 1050 1622 1051 1617 1052 1609 1052 1617 1053 1609 1053 1621 1053 1616 1054 1611 1055 1619 1059 1624 1060 1619 1061 1616 1061 1610 1062 1624 1062 1620 1063 1615 1076 1614 1077 1619 1077 1613 538 1631 742 1628 763 1638 782 1625 794 1635 800 1638 804 1624 807 1636 814 1634 815 1631 815 1626 822 1626 823 1636 835 1631 836 1637 838 1638 846 1625 854 1638 855 1639 855 1630 856 1638 856 1632 857 1636 860 1636 860 1635 860 1629 861 1626 861 1629 863 1635 866 1633 868 1632 869 1635 869 1630 869 1632 869 1637 871 1638 871 1628 872 1638 874 1630 874 1625 876 1627 877 1625 878 1638 880 1625 880 1636 881 1636 883 1626 886 1634 887 1632 888 1632 889 1636 890 1637 893 1625 893 1625 896 1637 896 1631 896 1625 896 1638 896 1639 896 1633 896 1627 897 1627 898 1629 899 1636 900 1640 900 1638 902 1632 902 1640 902 1625 902 1633 903 1628 904 1637 904 1632 904 1639 904 1636 904 1637 905 1632 905 1624 906 1630 907 1629 908 1640 909 1632 909 1627 909 1636 909 1633 910 1631 910 1638 910 1633 911 1632 911 1627 911 1631 911 1628 913 1626 913 1634 913 1630 913 1634 913 1627 914 1638 914 1634 914 1634 914 1630 914 1639 914 1625 915 1639 916 1633 916 1626 917 1627 917 1627 918 1630 918 1629 920 1624 920 1633 921 1625 921 1626 921 1639 922 1634 923 1632 924 1626 925 1625 925 1640 925 1630 925 1635 925 1637 926 1634 926 1631 927 1640 927 1639 928 1633 928 1631 928 1630 929 1631 930 1627 930 1635 931 1627 931 1631 931 1626 931 1628 931 1631 932 1628 932 1626 933 1626 934 1628 935 1627 939 1629 939 1624 940 1625 940 1630 941 1627 941 1624 941 1630 941 1629 943 1627 943 1625 997 1639 999 1636 1000 1640 1001 1639 1003 1633 1003 1637 1004 1636 1004 1637 1005 1640 1005 1639 1005 1639 1006 1630 1006 1634 1007 1629 1008 1636 1008 1628 1009 1634 1010 1639 1010 1628 1010 1627 1010 1639 1010 1634 1011 1628 1012 1629 1012 1635 1013 1628 1014 1631 1014 1627 1014 1629 1015 1626 1015 1633 1015 1632 1016 1639 1016 1628 1017 1626 1018 1633 1018 1625 1018 1630 1019 1629 1019 1634 1019 1626 1020 1628 1021 1631 1021 1632 1021 1639 1022 1626 1022 1637 1022 1627 1024 1638 1027 1625 1027 1636 1030 1629 1030 1631 1030 1635 1030 1632 1030 1636 1033 1631 1033 1634 1034 1637 1034 1633 1035 1626 1035 1631 1036 1628 1039 1631 1039 1626 1040 1627 1041 1637 1041 1631 1042 1635 1043 1628 1043 1626 1044 1633 1044 1625 1044 1631 1049 1625 1050 1636 1060 1630 1062 1627 1064 1638 1065 1629 1077 1636 728 1643 735 1652 746 1645 785 1644 799 1656 799 1650 805 1653 806 1646 811 1654 814 1648 814 1653 815 1644 817 1643 819 1651 819 1642 825 1649 826 1650 830 1645 831 1656 832 1652 832 1654 833 1644 838 1648 840 1655 841 1646 841 1651 841 1653 843 1656 844 1655 848 1647 849 1652 850 1642 854 1645 854 1648 855 1652 856 1649 858 1647 858 1648 858 1647 859 1651 859 1648 859 1651 861 1649 861 1648 862 1649 864 1653 867 1647 868 1643 869 1642 869 1643 870 1654 872 1652 873 1641 873 1643 873 1654 874 1647 874 1654 875 1645 876 1641 878 1655 878 1646 879 1650 880 1640 881 1652 881 1649 882 1646 883 1650 883 1653 883 1644 886 1649 886 1650 886 1655 887 1645 888 1648 888 1642 888 1642 888 1656 888 1651 889 1646 890 1648 891 1644 891 1653 892 1653 892 1652 892 1652 894 1646 894 1646 895 1654 895 1645 895 1648 896 1653 896 1652 897 1645 898 1653 898 1651 898 1644 898 1656 898 1655 899 1646 899 1650 899 1648 900 1644 900 1647 900 1646 901 1654 901 1642 902 1655 902 1650 902 1648 902 1653 902 1640 903 1641 903 1643 903 1650 904 1651 904 1640 905 1654 905 1650 905 1645 906 1655 906 1646 906 1643 907 1643 907 1643 907 1652 908 1640 909 1652 910 1642 910 1649 912 1641 912 1643 916 1641 916 1643 916 1642 919 1644 920 1641 921 1641 923 1645 924 1640 926 1640 983 1653 983 1654 985 1654 985 1654 986 1654 986 1655 987 1653 987 1651 988 1651 988 1650 989 1649 989 1646 990 1651 990 1650 992 1647 993 1655 994 1650 994 1650 994 1642 995 1646 996 1649 996 1652 997 1650 997 1646 997 1650 998 1642 998 1650 998 1647 1000 1647 1000 1647 1000 1640 1000 1651 1001 1646 1002 1649 1002 1655 1002 1653 1002 1649 1003 1642 1004 1645 1004 1641 1005 1649 1005 1644 1006 1652 1007 1646 1008 1648 1009 1653 1009 1640 1009 1650 1012 1646 1013 1644 1014 1652 1015 1653 1015 1652 1018 1642 1019 1651 1023 1644 1024 1648 1024 1642 1025 1648 1026 1652 1026 1642 1028 1656 1028 1640 1029 1641 1029 1641 1030 1642 1032 1641 1033 1646 1051 1646 1052 1654 1068 1644 704 1669 713 1658 728 1657 735 1665 745 1670 772 1664 773 1670 775 1664 785 1660 788 1662 791 1664 792 1668 792 1666 795 1665 801 1667 802 1670 805 1669 810 1670 814 1662 815 1656 820 1669 821 1670 822 1656 825 1665 829 1659 830 1667 833 1667 833 1663 833 1661 835 1669 835 1661 836 1661 838 1660 839 1663 840 1665 845 1670 846 1668 846 1668 848 1671 848 1661 850 1662 850 1658 852 1670 854 1666 854 1672 856 1664 856 1672 856 1656 858 1671 858 1665 859 1670 860 1668 861 1662 861 1671 862 1667 864 1666 864 1670 865 1662 867 1666 867 1657 869 1671 870 1668 871 1656 872 1664 873 1665 873 1662 874 1669 875 1668 875 1658 875 1671 875 1659 876 1670 876 1658 877 1663 877 1665 877 1671 878 1665 878 1660 878 1660 879 1667 879 1665 880 1668 880 1668 880 1664 880 1658 881 1658 881 1669 881 1664 881 1672 882 1671 882 1664 884 1668 885 1668 886 1669 886 1669 887 1665 887 1670 888 1659 888 1663 888 1668 889 1667 889 1659 889 1665 890 1664 890 1658 890 1670 891 1666 891 1661 893 1668 893 1664 893 1667 894 1665 896 1657 896 1670 897 1665 897 1671 897 1670 897 1663 898 1660 898 1666 898 1666 898 1657 898 1662 899 1665 900 1660 901 1666 901 1658 901 1659 902 1665 902 1662 903 1660 904 1662 905 1668 905 1662 907 1665 907 1660 908 1658 908 1663 908 1662 911 1662 972 1670 976 1664 976 1671 976 1667 977 1669 977 1671 978 1665 978 1664 978 1666 980 1664 981 1667 982 1664 982 1670 982 1671 983 1667 983 1667 983 1660 984 1658 984 1658 985 1665 985 1661 986 1659 987 1668 988 1670 988 1668 988 1671 989 1663 989 1662 989 1660 989 1657 990 1671 992 1661 995 1669 995 1667 996 1661 997 1663 997 1666 997 1670 997 1668 998 1663 999 1658 999 1660 1002 1656 1003 1661 1006 1658 1007 1660 1010 1660 1012 1663 1013 1657 1014 1659 1016 1656 1019 1670 1028 1668 1030 1672 1032 1663 1033 1666 1038 1667 1078 1659 663 1685 694 1684 722 1678 728 1686 728 1687 747 1682 749 1685 754 1674 765 1680 765 1681 780 1672 782 1680 782 1680 783 1680 783 1680 785 1677 789 1682 791 1676 794 1674 796 1678 799 1680 799 1674 800 1680 802 1678 803 1683 804 1680 805 1676 806 1679 806 1682 806 1687 807 1685 807 1680 808 1678 809 1674 809 1687 810 1684 815 1677 818 1677 818 1676 819 1680 821 1674 821 1686 823 1682 823 1687 823 1688 824 1679 825 1685 826 1677 827 1677 828 1688 829 1687 829 1680 830 1682 831 1679 831 1688 832 1679 833 1677 834 1676 834 1678 835 1674 837 1682 837 1682 837 1673 839 1684 841 1679 841 1677 841 1683 842 1675 842 1679 843 1685 843 1685 843 1687 844 1685 844 1679 846 1685 847 1684 848 1682 848 1680 849 1673 849 1685 850 1673 851 1685 852 1682 853 1676 853 1682 854 1685 854 1681 855 1686 856 1684 856 1674 857 1674 857 1683 857 1679 858 1681 858 1685 858 1678 858 1682 858 1687 858 1673 859 1677 860 1677 860 1672 862 1680 863 1674 863 1683 863 1685 863 1682 864 1675 865 1687 865 1687 865 1687 866 1680 867 1687 867 1688 867 1678 867 1674 867 1688 868 1683 868 1677 868 1679 869 1672 870 1678 870 1683 871 1683 871 1684 871 1684 871 1674 871 1678 872 1685 872 1684 873 1685 873 1686 873 1682 874 1687 874 1675 874 1672 874 1677 874 1676 874 1681 874 1684 875 1684 875 1679 876 1676 877 1682 877 1675 877 1687 878 1682 880 1684 880 1676 880 1683 880 1677 880 1674 882 1686 884 1686 888 1677 892 1675 892 1676 892 1680 893 1675 895 1676 895 1682 895 1679 895 1678 896 1682 896 1677 896 1678 896 1679 898 1674 898 1678 898 1678 899 1681 899 1679 900 1681 902 1677 904 1676 944 1686 945 1687 946 1685 946 1682 948 1683 949 1680 949 1688 949 1686 949 1687 950 1681 950 1685 951 1682 951 1683 951 1684 955 1682 955 1682 956 1681 957 1678 958 1683 958 1681 959 1678 959 1684 959 1680 959 1685 960 1681 960 1685 962 1685 962 1682 962 1684 963 1678 963 1683 963 1682 964 1678 965 1686 967 1674 967 1680 967 1679 967 1685 967 1680 967 1685 968 1681 968 1682 968 1672 968 1674 969 1673 969 1673 970 1683 970 1677 971 1675 971 1682 972 1679 973 1674 973 1674 973 1678 974 1673 974 1675 974 1682 974 1673 975 1679 975 1682 977 1684 977 1681 977 1676 980 1682 980 1678 980 1676 981 1679 981 1685 982 1686 982 1688 984 1674 984 1674 986 1686 986 1678 988 1685 988 1673 991 1672 993 1673 996 1684 996 1672 997 1677 998 1682 1000 1673 1004 1674 1006 1677 1007 1683 1010 1674 1020 1675 1024 1680 665 1689 707 1700 716 1695 723 1692 728 1691 743 1696 745 1698 757 1688 760 1702 761 1699 763 1699 764 1688 766 1700 770 1701 771 1696 773 1698 774 1693 775 1700 777 1692 783 1701 784 1696 786 1701 790 1703 792 1694 792 1697 794 1691 795 1702 796 1697 796 1691 796 1690 796 1700 797 1699 798 1692 799 1703 799 1689 802 1698 803 1695 803 1699 804 1690 805 1702 805 1703 806 1693 809 1696 809 1693 811 1690 811 1690 812 1689 813 1702 813 1701 813 1700 813 1700 813 1688 814 1691 814 1689 816 1698 816 1700 818 1702 819 1704 820 1697 820 1703 820 1698 821 1698 821 1703 821 1695 822 1689 822 1694 822 1692 822 1700 823 1703 823 1689 823 1696 824 1690 824 1702 824 1698 827 1701 827 1697 829 1698 830 1701 830 1702 831 1690 832 1700 832 1702 833 1700 836 1703 840 1699 841 1701 841 1699 842 1698 842 1688 843 1690 843 1700 844 1690 844 1701 845 1689 845 1695 845 1699 845 1689 846 1692 847 1692 847 1696 848 1703 848 1688 848 1693 848 1689 848 1696 849 1703 849 1694 849 1702 849 1694 849 1690 849 1698 850 1702 850 1702 850 1692 851 1693 852 1690 852 1694 853 1703 853 1690 854 1690 855 1697 855 1697 855 1704 856 1703 856 1700 857 1692 858 1703 858 1694 858 1689 859 1694 859 1703 859 1696 859 1692 861 1703 861 1697 861 1690 862 1703 862 1697 862 1696 863 1689 863 1701 863 1695 863 1700 863 1690 866 1703 866 1688 866 1697 866 1699 867 1693 868 1693 868 1690 868 1692 869 1688 869 1691 871 1695 873 1692 873 1700 873 1692 873 1694 873 1702 873 1690 874 1694 874 1698 874 1700 875 1697 875 1693 876 1701 876 1691 876 1699 876 1695 877 1695 877 1701 877 1702 877 1695 878 1688 879 1702 879 1689 879 1700 879 1700 880 1701 880 1696 880 1691 880 1703 881 1701 881 1701 882 1703 882 1701 883 1690 884 1689 885 1688 886 1703 886 1689 938 1702 938 1700 939 1704 939 1700 941 1700 942 1703 942 1701 943 1698 944 1702 944 1698 946 1695 947 1699 948 1695 948 1702 949 1693 951 1694 951 1696 951 1694 951 1700 951 1698 951 1697 951 1704 951 1696 952 1699 952 1695 952 1692 953 1695 955 1694 955 1692 955 1690 956 1694 956 1700 956 1692 957 1695 957 1699 959 1695 959 1690 960 1689 961 1692 961 1691 964 1693 964 1698 966 1701 966 1690 966 1694 967 1695 967 1701 968 1699 968 1692 970 1693 971 1699 971 1690 972 1695 972 1701 977 1691 980 1701 981 1700 981 1691 983 1688 985 1691 986 1696 988 1689 989 1703 991 1691 1002 1689 1003 1692 1010 1691 1019 1694 1020 1689 1030 1689 1032 1694 638 1714 669 1708 681 1706 681 1714 699 1711 721 1712 725 1720 740 1705 740 1708 742 1709 744 1719 750 1713 751 1709 752 1712 753 1717 756 1710 757 1711 762 1709 762 1705 764 1706 766 1713 766 1712 766 1719 769 1717 769 1714 772 1717 774 1719 774 1709 777 1705 785 1720 787 1714 788 1707 789 1709 789 1710 789 1716 790 1715 790 1713 792 1714 792 1717 793 1713 793 1713 793 1720 793 1706 793 1708 794 1706 795 1715 796 1718 796 1710 796 1709 798 1705 799 1712 799 1713 802 1718 802 1711 802 1705 802 1712 802 1713 803 1713 803 1709 806 1707 806 1712 807 1707 807 1715 808 1713 808 1716 809 1719 809 1717 809 1710 812 1711 813 1716 813 1720 813 1706 815 1713 817 1713 819 1711 819 1717 820 1708 820 1715 821 1716 822 1714 823 1719 823 1713 823 1719 824 1713 825 1710 825 1718 826 1714 826 1713 826 1706 828 1714 829 1706 829 1706 830 1718 830 1712 830 1708 831 1710 832 1716 833 1717 833 1711 833 1710 833 1711 833 1712 833 1714 834 1715 834 1715 834 1713 835 1708 836 1710 837 1707 837 1710 838 1706 838 1712 839 1714 839 1710 839 1712 840 1712 841 1713 841 1708 841 1709 841 1712 842 1716 844 1708 844 1711 844 1709 845 1711 845 1716 847 1716 848 1708 849 1718 849 1720 849 1713 849 1713 850 1711 850 1715 850 1713 851 1704 851 1712 851 1713 852 1711 852 1713 853 1712 854 1719 854 1719 854 1708 856 1709 856 1715 856 1710 856 1705 857 1711 861 1707 863 1706 864 1705 865 1708 865 1708 865 1704 866 1709 866 1707 867 1706 867 1709 868 1705 868 1706 869 1709 876 1706 879 1709 880 1704 892 1716 893 1714 893 1716 895 1716 897 1710 897 1717 898 1719 898 1710 898 1717 899 1716 899 1716 899 1708 900 1717 901 1715 901 1719 902 1716 903 1708 903 1709 904 1709 904 1704 904 1709 905 1710 905 1716 907 1711 907 1709 907 1715 908 1709 908 1712 911 1718 912 1711 912 1716 912 1718 913 1716 914 1715 914 1720 917 1717 917 1716 917 1716 918 1714 919 1716 919 1719 919 1718 919 1714 919 1715 920 1715 920 1714 922 1712 922 1712 923 1715 925 1715 926 1707 926 1710 926 1711 926 1719 927 1708 927 1715 927 1707 929 1720 929 1713 929 1715 929 1712 929 1710 930 1720 931 1712 931 1718 931 1718 931 1711 932 1719 932 1716 933 1716 935 1714 935 1711 936 1707 937 1709 937 1704 937 1713 937 1706 938 1712 938 1705 939 1711 940 1709 940 1710 941 1711 941 1710 942 1719 943 1707 943 1712 943 1713 944 1715 944 1707 944 1712 945 1704 945 1712 946 1709 946 1705 947 1715 948 1719 948 1712 949 1706 950 1712 950 1710 951 1711 951 1706 951 1706 952 1716 952 1716 954 1716 955 1708 955 1711 956 1716 956 1714 961 1715 961 1720 961 1715 962 1717 962 1710 963 1705 964 1720 964 1704 965 1719 965 1707 965 1709 966 1711 968 1706 971 1707 972 1716 974 1717 976 1718 977 1707 987 1713 987 1708 988 1707 989 1708 1014 1718 639 1733 641 1734 681 1725 682 1727 712 1727 715 1732 715 1723 724 1720 727 1734 727 1728 727 1721 728 1723 740 1728 741 1732 742 1720 747 1736 752 1726 755 1730 756 1726 756 1733 759 1734 765 1730 766 1725 768 1730 768 1723 768 1726 769 1731 769 1721 769 1731 769 1729 769 1723 771 1736 771 1731 771 1733 772 1728 772 1724 773 1732 777 1725 782 1721 783 1729 785 1723 785 1728 785 1734 786 1724 786 1721 786 1721 787 1727 788 1733 789 1732 792 1734 792 1725 793 1727 793 1733 793 1732 794 1728 795 1722 797 1721 797 1728 798 1733 799 1721 801 1732 802 1730 802 1725 802 1728 802 1730 802 1721 802 1734 803 1723 803 1722 803 1727 804 1729 804 1721 804 1726 805 1726 805 1729 806 1725 807 1734 808 1722 808 1728 809 1727 810 1734 810 1725 810 1726 810 1732 811 1734 811 1722 813 1731 814 1723 815 1723 815 1730 815 1730 816 1726 817 1730 817 1724 818 1725 818 1727 818 1726 818 1728 819 1722 819 1732 819 1734 819 1729 820 1733 820 1727 821 1724 821 1734 821 1729 821 1732 821 1727 822 1723 824 1733 824 1728 824 1722 824 1724 824 1723 825 1724 825 1734 825 1724 826 1730 826 1727 827 1720 827 1732 829 1734 829 1725 830 1732 830 1732 831 1732 831 1735 833 1722 833 1722 833 1731 834 1730 834 1722 834 1725 834 1725 834 1726 834 1720 835 1723 835 1730 835 1720 835 1724 836 1727 836 1725 837 1731 837 1725 837 1731 838 1734 839 1734 839 1725 839 1732 840 1725 840 1724 840 1734 841 1734 848 1721 848 1723 849 1720 851 1721 851 1723 851 1720 852 1720 852 1721 852 1722 853 1727 853 1721 854 1721 857 1722 860 1720 879 1736 880 1734 882 1735 882 1729 882 1732 883 1729 884 1732 884 1729 884 1732 884 1728 887 1733 889 1734 890 1736 893 1734 893 1735 895 1733 899 1734 901 1733 903 1735 903 1736 903 1730 903 1735 904 1730 904 1736 904 1736 905 1726 905 1734 905 1735 906 1724 906 1728 907 1734 908 1726 908 1735 909 1724 909 1735 909 1734 909 1726 909 1733 909 1734 909 1729 910 1732 910 1722 910 1735 910 1733 911 1722 912 1733 912 1734 913 1723 913 1727 913 1729 913 1723 914 1733 914 1730 914 1725 914 1730 915 1725 916 1731 916 1729 916 1735 916 1731 917 1722 917 1731 918 1730 919 1735 919 1731 920 1720 921 1723 921 1728 922 1721 922 1732 923 1720 924 1730 924 1721 927 1727 927 1726 928 1728 928 1731 929 1728 929 1725 929 1726 930 1730 930 1723 930 1732 931 1736 933 1729 933 1723 937 1736 937 1723 937 1730 939 1726 939 1729 939 1725 940 1729 940 1733 940 1727 942 1721 942 1724 943 1721 944 1728 946 1726 946 1723 947 1721 948 1734 952 1730 953 1729 955 1720 955 1727 961 1731 961 1721 963 1721 973 1734 980 1728 984 1725 658 1736 662 1748 673 1752 673 1744 675 1738 686 1750 693 1742 697 1740 699 1745 700 1743 707 1746 720 1736 725 1745 726 1745 727 1746 729 1738 733 1748 734 1737 739 1750 741 1750 747 1744 748 1738 749 1747 751 1736 752 1748 752 1742 753 1750 753 1739 755 1741 757 1738 758 1737 761 1736 762 1741 762 1741 763 1750 764 1751 764 1752 765 1737 766 1751 766 1738 767 1739 767 1751 768 1751 768 1749 770 1745 770 1747 771 1740 771 1744 771 1738 772 1752 772 1736 773 1746 773 1739 774 1744 774 1738 776 1749 778 1740 778 1749 779 1751 780 1750 781 1742 781 1746 781 1743 781 1751 782 1744 782 1752 782 1749 783 1747 783 1749 783 1751 784 1743 785 1743 785 1740 786 1741 786 1751 787 1746 788 1751 788 1745 789 1737 790 1747 791 1739 792 1751 793 1746 793 1749 794 1748 795 1746 796 1747 796 1751 796 1740 797 1748 798 1738 798 1741 799 1752 800 1739 800 1736 800 1749 801 1739 801 1741 801 1738 802 1745 802 1751 803 1750 803 1741 804 1737 805 1752 806 1750 807 1742 807 1744 807 1738 808 1747 809 1750 809 1750 809 1744 810 1741 810 1749 810 1751 810 1740 811 1742 811 1744 812 1751 812 1746 812 1750 812 1741 812 1737 813 1745 813 1744 814 1741 814 1742 814 1743 817 1738 817 1744 818 1747 818 1747 818 1748 819 1751 819 1752 819 1752 819 1738 819 1743 819 1745 820 1751 820 1742 821 1751 821 1740 822 1747 822 1748 823 1744 823 1750 823 1746 824 1745 824 1745 825 1739 825 1750 825 1741 825 1749 826 1739 826 1741 826 1746 827 1745 827 1745 827 1744 827 1741 828 1745 828 1736 831 1739 832 1743 832 1745 833 1743 833 1737 834 1745 834 1738 836 1738 837 1742 838 1738 838 1746 838 1741 839 1744 839 1736 840 1748 841 1743 841 1743 841 1741 841 1748 842 1748 842 1740 842 1743 843 1742 843 1743 845 1743 846 1739 848 1748 849 1751 849 1748 850 1751 850 1746 851 1752 851 1751 851 1752 852 1751 853 1750 873 1747 874 1738 874 1736 875 1737 876 1746 876 1748 876 1737 876 1746 876 1739 877 1745 877 1747 877 1746 878 1739 878 1749 878 1748 878 1738 879 1740 879 1739 879 1746 879 1744 881 1749 881 1738 881 1745 882 1737 882 1736 882 1743 882 1744 883 1739 884 1748 885 1744 885 1743 885 1742 886 1743 886 1751 886 1743 888 1743 888 1748 888 1742 888 1744 888 1738 888 1747 889 1739 889 1751 890 1751 891 1738 891 1740 892 1750 892 1751 892 1751 892 1741 893 1740 893 1751 893 1738 893 1746 894 1746 894 1743 894 1738 895 1743 896 1741 896 1742 896 1747 897 1748 898 1738 898 1746 898 1747 898 1750 899 1743 899 1744 899 1745 900 1738 900 1745 900 1751 900 1748 901 1751 902 1746 902 1737 903 1737 903 1750 903 1740 905 1751 905 1744 905 1747 905 1750 905 1751 906 1743 906 1748 907 1752 907 1748 907 1743 908 1749 908 1736 908 1751 909 1748 909 1750 910 1742 911 1744 912 1737 913 1747 913 1749 913 1752 913 1752 914 1749 915 1748 915 1736 915 1748 916 1742 917 1750 918 1750 921 1746 921 1747 921 1752 922 1745 923 1738 925 1745 925 1750 927 1737 928 1741 928 1743 930 1750 931 1747 931 1743 935 1749 935 1745 938 1747 939 1751 945 1750 946 1748 946 1736 954 1748 956 1740 961 1738 1015 1743 598 1761 650 1753 654 1765 670 1768 679 1753 683 1761 687 1762 690 1766 693 1764 698 1754 707 1767 721 1764 722 1755 722 1763 723 1765 724 1761 725 1767 725 1766 727 1757 730 1753 732 1761 734 1761 737 1768 738 1758 745 1766 746 1756 747 1762 749 1755 749 1758 749 1756 750 1760 751 1755 755 1766 755 1758 756 1756 757 1766 758 1760 760 1760 760 1763 761 1757 761 1754 762 1754 763 1763 766 1763 768 1753 769 1766 769 1765 769 1752 769 1761 770 1753 771 1759 772 1768 772 1767 773 1760 773 1764 774 1761 775 1767 776 1761 776 1767 776 1765 776 1759 776 1757 777 1767 777 1761 778 1756 778 1767 779 1756 780 1765 780 1757 781 1752 782 1763 782 1757 783 1763 784 1763 785 1753 785 1768 785 1759 786 1752 787 1765 787 1761 787 1760 789 1752 789 1767 789 1755 790 1758 790 1755 790 1758 790 1757 791 1768 791 1765 792 1766 792 1754 793 1762 795 1761 795 1768 795 1761 796 1755 796 1763 796 1765 796 1767 797 1762 797 1757 797 1768 798 1759 799 1762 799 1765 800 1754 801 1756 801 1762 801 1757 802 1760 802 1762 805 1756 805 1757 807 1753 807 1754 808 1756 808 1761 808 1753 810 1760 810 1752 811 1756 811 1755 811 1762 812 1766 813 1763 813 1761 814 1761 814 1754 815 1759 816 1764 817 1763 817 1764 818 1762 818 1760 818 1761 818 1765 819 1762 819 1755 820 1767 820 1753 820 1765 820 1761 821 1755 821 1755 821 1766 824 1754 824 1762 824 1761 826 1753 844 1761 844 1762 846 1753 847 1761 847 1764 848 1757 849 1764 849 1755 849 1758 849 1759 849 1759 850 1764 850 1762 851 1760 851 1759 851 1754 852 1766 853 1753 853 1752 853 1756 853 1764 853 1759 853 1766 854 1768 854 1767 855 1765 855 1759 857 1768 857 1766 857 1764 859 1761 859 1765 860 1763 860 1768 861 1762 862 1767 862 1768 863 1760 863 1767 863 1759 865 1764 865 1760 866 1763 866 1767 867 1759 867 1767 870 1760 870 1758 870 1764 871 1755 871 1758 872 1764 872 1758 872 1755 872 1760 872 1757 873 1767 873 1755 873 1754 873 1757 874 1763 874 1764 874 1768 874 1761 875 1756 875 1754 875 1756 876 1757 876 1753 877 1758 877 1767 877 1754 877 1756 878 1763 878 1767 879 1764 880 1757 880 1761 880 1765 881 1762 882 1766 882 1753 882 1760 882 1767 883 1761 883 1766 884 1763 885 1758 886 1760 886 1762 887 1757 887 1754 888 1758 888 1759 888 1757 888 1756 889 1755 889 1763 890 1759 890 1754 890 1765 891 1761 891 1764 892 1765 892 1754 893 1755 893 1767 893 1755 894 1755 895 1764 895 1765 895 1756 895 1763 896 1756 897 1762 897 1767 897 1758 898 1760 899 1760 899 1753 899 1754 900 1754 901 1754 901 1762 901 1761 901 1758 902 1756 902 1753 902 1758 903 1768 903 1757 904 1758 905 1763 906 1759 906 1755 908 1758 909 1762 910 1753 910 1759 912 1761 914 1755 915 1752 916 1757 916 1768 919 1762 919 1752 920 1755 920 1765 921 1760 922 1754 923 1753 923 1765 923 1758 928 1761 929 1760 930 1763 931 1761 933 1766 938 1763 946 1760 947 1765 950 1753 954 1761 954 1762 965 1756 968 1767 970 1766 971 1753 997 1758 1006 1759 1025 1757 607 1779 657 1781 658 1776 661 1770 664 1772 667 1770 674 1775 680 1775 693 1769 693 1777 698 1773 700 1776 701 1771 707 1779 710 1770 713 1773 713 1768 714 1769 715 1776 720 1780 721 1780 722 1778 723 1781 724 1777 725 1772 732 1781 733 1778 733 1774 734 1780 743 1783 745 1778 746 1783 749 1775 750 1769 750 1772 750 1782 751 1773 751 1781 751 1781 752 1783 752 1779 753 1770 754 1773 755 1769 756 1775 756 1774 756 1782 756 1780 757 1779 759 1774 759 1781 760 1782 761 1771 761 1775 762 1780 762 1783 762 1773 763 1778 763 1779 764 1777 765 1778 765 1778 765 1773 766 1770 766 1783 766 1773 766 1773 767 1775 767 1784 768 1774 769 1772 769 1783 770 1777 770 1783 770 1769 771 1770 771 1776 771 1770 771 1773 771 1783 772 1770 772 1779 773 1771 773 1771 773 1778 773 1780 774 1776 774 1779 775 1781 776 1779 776 1782 776 1780 778 1776 779 1777 779 1778 779 1783 780 1783 780 1771 780 1778 780 1782 781 1778 781 1769 781 1773 783 1781 783 1775 783 1783 783 1778 784 1780 785 1773 785 1769 785 1770 786 1781 786 1781 786 1778 786 1781 787 1772 787 1781 789 1773 789 1778 789 1780 789 1771 789 1782 789 1773 790 1771 790 1769 791 1769 792 1770 793 1783 793 1775 793 1775 794 1783 794 1776 794 1780 794 1783 794 1781 795 1780 795 1781 796 1780 797 1783 803 1783 806 1782 807 1782 809 1776 810 1782 811 1781 813 1783 815 1782 816 1778 816 1784 816 1783 816 1783 817 1781 817 1781 829 1782 829 1781 830 1780 832 1784 832 1781 832 1778 833 1784 835 1783 835 1781 835 1779 835 1777 836 1779 836 1782 836 1780 837 1781 837 1776 837 1783 838 1782 838 1783 838 1783 838 1774 838 1777 839 1774 840 1778 841 1781 842 1774 843 1776 843 1770 844 1774 844 1781 844 1783 845 1771 846 1776 846 1777 847 1777 848 1775 848 1772 848 1771 848 1771 849 1774 849 1772 849 1783 850 1774 850 1771 850 1774 850 1780 850 1773 850 1782 850 1780 851 1769 852 1783 852 1771 855 1784 855 1769 855 1781 855 1775 856 1772 857 1781 858 1777 858 1779 858 1783 858 1782 859 1775 859 1775 859 1777 860 1769 860 1780 862 1781 862 1780 862 1778 862 1772 863 1773 863 1777 863 1783 863 1771 863 1783 864 1782 864 1769 865 1774 865 1769 866 1775 866 1777 866 1781 866 1772 866 1769 867 1772 868 1768 868 1772 870 1770 870 1776 870 1780 871 1779 871 1773 872 1779 872 1776 872 1784 872 1769 873 1770 873 1771 873 1772 873 1769 873 1769 874 1782 876 1769 877 1774 877 1774 878 1770 879 1775 879 1772 880 1779 880 1770 881 1777 881 1780 882 1769 882 1781 882 1784 882 1782 883 1783 884 1770 885 1777 885 1772 885 1777 885 1774 886 1783 886 1781 886 1771 888 1782 890 1773 890 1770 891 1774 891 1781 893 1771 894 1772 896 1776 896 1781 897 1783 898 1780 900 1776 900 1776 901 1771 902 1783 903 1771 905 1771 911 1776 911 1781 912 1779 915 1775 915 1772 917 1776 918 1779 920 1783 921 1777 923 1778 924 1773 928 1776 928 1777 934 1779 936 1777 943 1770 944 1770 970 1782 593 1797 631 1788 648 1788 662 1799 664 1788 667 1791 668 1785 675 1797 676 1785 682 1793 684 1799 692 1794 692 1796 693 1798 696 1786 699 1785 700 1796 702 1790 706 1788 710 1785 713 1787 716 1791 720 1798 722 1786 722 1799 722 1785 723 1793 723 1788 724 1789 725 1795 726 1792 727 1792 729 1792 729 1790 730 1786 730 1794 732 1788 732 1796 732 1786 733 1796 734 1799 735 1790 735 1793 736 1788 736 1796 737 1794 738 1794 738 1791 739 1787 740 1800 741 1792 741 1796 742 1796 742 1788 743 1792 743 1790 744 1786 744 1794 744 1796 745 1799 746 1788 747 1792 749 1785 750 1794 751 1794 751 1787 751 1798 752 1795 752 1791 752 1789 756 1796 756 1799 756 1789 756 1796 757 1792 757 1790 758 1789 759 1790 760 1790 761 1791 762 1795 763 1784 763 1794 764 1785 764 1786 765 1796 766 1786 766 1788 768 1797 768 1786 768 1786 769 1797 769 1796 770 1799 772 1789 773 1789 773 1798 773 1789 774 1788 774 1797 775 1798 775 1787 775 1797 775 1800 776 1788 777 1790 778 1799 778 1798 779 1791 779 1797 779 1791 779 1798 779 1791 780 1794 780 1797 780 1794 780 1794 780 1797 781 1784 781 1794 781 1788 781 1789 781 1787 783 1786 783 1787 783 1785 784 1790 784 1795 785 1798 786 1786 786 1790 787 1786 787 1795 787 1789 787 1797 787 1784 788 1789 788 1798 789 1795 790 1796 790 1796 791 1788 791 1798 791 1796 792 1800 793 1788 793 1791 793 1785 794 1793 795 1785 796 1797 796 1796 796 1795 796 1791 796 1793 797 1798 797 1794 797 1797 797 1796 797 1794 797 1784 798 1793 798 1799 798 1791 799 1789 799 1787 799 1788 800 1787 801 1790 801 1790 801 1792 801 1797 802 1789 803 1793 804 1795 804 1787 805 1798 805 1796 805 1786 805 1786 806 1795 806 1791 806 1786 807 1797 807 1795 808 1790 809 1799 809 1793 809 1786 811 1790 811 1791 812 1790 812 1793 812 1796 813 1793 813 1792 813 1795 813 1791 813 1787 814 1795 815 1787 815 1799 815 1794 816 1792 816 1784 816 1790 816 1793 817 1799 817 1790 817 1784 818 1798 818 1794 818 1797 819 1790 819 1786 819 1798 819 1795 820 1794 820 1793 820 1784 822 1796 824 1800 824 1794 824 1793 824 1787 824 1797 825 1792 825 1787 825 1788 826 1788 827 1787 827 1798 828 1794 829 1786 829 1788 829 1790 830 1785 831 1790 831 1791 831 1793 832 1797 833 1794 833 1799 833 1792 836 1789 836 1794 837 1790 837 1795 838 1795 838 1789 838 1794 839 1788 839 1798 840 1789 840 1793 841 1796 841 1792 841 1789 841 1799 842 1790 842 1790 842 1789 842 1789 843 1794 844 1787 844 1789 845 1791 845 1791 845 1796 846 1787 846 1790 847 1786 847 1788 848 1795 848 1789 849 1790 851 1788 851 1795 851 1787 853 1792 853 1799 854 1793 854 1796 854 1796 855 1786 855 1789 856 1799 857 1785 857 1792 858 1784 858 1786 858 1787 858 1795 860 1791 860 1789 861 1785 861 1794 861 1788 862 1785 863 1789 863 1793 863 1788 864 1784 865 1789 865 1789 865 1795 866 1792 866 1795 867 1788 867 1789 867 1795 868 1785 869 1798 870 1787 870 1798 871 1793 871 1796 872 1791 872 1786 872 1791 872 1792 873 1785 874 1789 875 1795 875 1788 876 1785 877 1789 878 1791 878 1790 878 1787 879 1790 879 1792 880 1786 880 1794 880 1791 881 1788 881 1797 881 1787 881 1786 882 1794 882 1790 883 1794 884 1800 887 1793 887 1786 887 1785 889 1791 889 1797 890 1800 891 1796 891 1787 891 1793 893 1799 894 1793 896 1792 896 1789 904 1790 904 1786 906 1785 906 1789 910 1786 910 1790 911 1785 911 1794 914 1796 914 1786 915 1798 922 1790 923 1792 945 1793 644 1813 663 1813 665 1812 676 1813 681 1814 686 1808 688 1804 688 1807 692 1807 694 1805 695 1814 697 1814 698 1809 700 1810 701 1805 703 1804 705 1812 706 1803 710 1813 710 1807 712 1805 713 1806 716 1815 716 1800 718 1806 720 1808 720 1812 722 1816 725 1805 725 1814 725 1804 729 1809 731 1802 733 1803 733 1813 734 1801 734 1805 734 1813 734 1809 735 1806 735 1813 736 1812 739 1807 742 1802 743 1813 743 1804 743 1803 744 1811 745 1805 745 1808 745 1810 747 1808 747 1807 749 1812 749 1813 749 1813 750 1814 750 1816 751 1804 751 1813 751 1805 752 1805 752 1811 752 1801 753 1814 754 1804 755 1808 755 1815 756 1813 757 1813 758 1802 758 1800 759 1805 759 1810 760 1811 760 1802 760 1808 761 1810 761 1803 762 1813 762 1808 762 1815 763 1808 764 1811 765 1801 765 1803 765 1800 766 1804 766 1807 766 1807 766 1815 767 1804 767 1810 767 1807 768 1805 768 1806 769 1803 769 1814 769 1812 769 1804 770 1810 770 1813 771 1806 772 1807 772 1804 772 1807 773 1804 774 1803 774 1805 774 1802 775 1809 775 1809 777 1807 777 1804 777 1816 777 1808 778 1815 778 1804 778 1806 779 1801 779 1813 780 1810 780 1802 781 1806 782 1810 782 1811 783 1811 783 1813 783 1815 783 1808 784 1812 784 1803 784 1811 785 1811 785 1814 785 1805 786 1810 786 1801 786 1803 786 1814 787 1800 787 1808 788 1809 788 1808 788 1803 789 1809 789 1807 790 1806 790 1812 790 1809 790 1811 791 1802 791 1815 792 1810 792 1801 793 1806 793 1802 793 1812 794 1803 794 1803 794 1810 795 1801 796 1814 796 1815 796 1814 797 1805 797 1807 797 1802 797 1801 797 1812 797 1806 797 1805 798 1813 798 1812 798 1803 798 1806 799 1800 799 1813 799 1816 800 1812 800 1814 801 1803 801 1813 801 1814 801 1814 802 1808 803 1801 804 1805 805 1815 805 1803 806 1806 807 1807 807 1808 809 1805 810 1812 810 1815 811 1815 811 1807 812 1815 812 1802 812 1802 812 1803 813 1811 813 1814 813 1803 813 1808 813 1811 814 1804 814 1812 815 1803 815 1804 815 1805 816 1800 817 1815 818 1815 818 1803 818 1801 819 1804 819 1802 820 1806 820 1803 820 1813 820 1808 821 1800 821 1809 822 1805 822 1806 823 1809 823 1810 823 1811 823 1815 823 1812 824 1803 824 1810 825 1812 825 1800 825 1807 826 1807 826 1812 827 1801 829 1808 829 1802 829 1813 830 1811 830 1808 830 1813 832 1800 832 1800 833 1804 833 1801 834 1802 834 1811 835 1815 835 1808 836 1812 836 1812 836 1811 837 1807 839 1807 839 1811 839 1807 839 1811 840 1816 841 1807 842 1816 842 1815 842 1805 843 1814 844 1800 845 1803 847 1809 847 1814 848 1802 848 1811 849 1804 850 1813 851 1803 851 1813 852 1805 852 1808 852 1800 852 1813 852 1802 854 1801 854 1807 855 1809 855 1815 856 1805 856 1804 857 1810 857 1801 858 1805 858 1806 859 1812 860 1801 863 1807 863 1802 865 1803 866 1810 867 1801 867 1803 868 1808 868 1811 868 1808 870 1806 874 1806 876 1814 876 1808 877 1808 877 1806 878 1811 882 1805 884 1803 887 1800 889 1806 890 1813 890 1810 892 1800 892 1809 893 1803 893 1811 896 1812 905 1809 910 1802 912 1811 912 1807 915 1815 943 1806 950 1813 961 1812 587 1818 633 1827 641 1825 642 1821 646 1825 648 1826 650 1829 652 1829 652 1823 667 1818 667 1826 679 1823 680 1821 683 1832 683 1820 685 1817 686 1816 688 1821 689 1822 690 1820 690 1819 691 1823 692 1827 695 1818 697 1823 697 1826 699 1818 700 1831 705 1830 706 1821 707 1821 707 1823 707 1823 708 1831 710 1826 712 1824 714 1822 714 1828 714 1827 714 1823 715 1831 715 1818 717 1826 719 1826 719 1823 719 1824 720 1832 720 1823 720 1832 721 1826 723 1828 723 1822 723 1827 724 1827 725 1824 725 1822 725 1826 726 1818 727 1820 728 1823 728 1831 729 1818 730 1825 731 1829 732 1831 733 1822 733 1824 733 1821 734 1823 734 1828 735 1822 736 1829 737 1831 737 1826 739 1818 739 1823 740 1820 741 1823 742 1827 742 1822 742 1830 743 1822 743 1831 743 1831 744 1824 744 1829 745 1822 745 1827 745 1818 746 1819 747 1829 749 1825 750 1827 750 1816 750 1823 751 1818 752 1818 752 1816 754 1822 754 1817 754 1819 754 1831 754 1822 754 1828 755 1831 756 1831 756 1831 757 1823 757 1831 758 1819 758 1830 758 1820 759 1819 760 1827 760 1825 761 1824 761 1816 762 1816 762 1828 762 1824 763 1816 764 1817 764 1820 765 1824 765 1824 766 1817 767 1827 768 1830 768 1817 768 1825 769 1832 769 1829 769 1817 770 1831 770 1819 771 1830 772 1821 773 1819 774 1832 774 1818 775 1830 775 1817 775 1828 775 1821 775 1819 775 1830 775 1832 775 1819 776 1819 776 1830 777 1817 778 1820 778 1820 778 1829 780 1821 781 1831 781 1822 782 1827 782 1820 782 1826 783 1822 783 1831 784 1831 784 1816 784 1821 785 1828 785 1816 785 1822 786 1826 787 1820 789 1821 790 1827 791 1822 791 1822 791 1821 792 1818 792 1831 793 1822 793 1824 793 1819 793 1830 793 1821 793 1831 794 1819 794 1825 795 1821 795 1825 796 1819 796 1829 797 1819 797 1829 797 1818 798 1820 799 1818 800 1825 800 1827 800 1820 800 1826 800 1831 801 1827 802 1827 802 1818 803 1820 803 1830 804 1824 805 1827 805 1818 806 1819 806 1826 807 1831 808 1818 809 1830 809 1818 809 1825 810 1828 810 1816 811 1827 811 1822 812 1823 812 1830 812 1831 813 1828 813 1823 813 1821 815 1822 815 1828 815 1822 815 1819 816 1830 816 1819 818 1818 818 1828 818 1824 818 1819 819 1821 820 1819 820 1818 821 1820 821 1821 821 1826 821 1822 822 1820 823 1831 824 1827 824 1823 824 1823 825 1826 825 1829 826 1829 826 1830 827 1826 827 1820 829 1825 830 1821 830 1831 831 1816 831 1827 831 1819 832 1827 832 1829 833 1827 834 1821 835 1830 835 1818 836 1823 836 1825 837 1820 837 1821 839 1819 841 1822 841 1818 841 1824 841 1825 842 1826 843 1822 843 1818 844 1821 845 1826 846 1824 847 1816 849 1827 852 1832 852 1818 853 1822 853 1822 855 1829 859 1827 863 1832 865 1817 867 1824 868 1817 868 1818 873 1823 875 1824 876 1830 876 1825 881 1828 881 1822 883 1830 888 1827 889 1826 889 1822 890 1818 898 1829 913 1832 921 1828 927 1822 938 1826 952 1818 610 1843 637 1840 641 1839 649 1848 654 1843 659 1845 662 1842 674 1833 677 1833 677 1844 679 1843 679 1841 681 1848 683 1848 683 1846 688 1843 688 1848 688 1834 689 1834 690 1843 690 1844 693 1839 694 1846 695 1837 697 1837 698 1848 699 1835 699 1840 699 1840 700 1845 700 1832 701 1846 701 1838 702 1833 702 1837 703 1844 703 1847 706 1836 707 1846 707 1842 707 1840 708 1841 709 1845 709 1842 709 1842 710 1833 711 1832 711 1842 711 1847 712 1843 714 1838 714 1847 714 1844 715 1836 715 1836 715 1845 715 1839 715 1842 715 1839 715 1845 715 1843 716 1843 716 1842 716 1837 716 1845 716 1844 717 1837 717 1837 717 1835 718 1842 718 1835 719 1841 719 1836 719 1842 719 1845 720 1840 720 1844 720 1843 720 1839 720 1844 721 1846 723 1841 723 1837 724 1846 725 1834 725 1842 725 1835 725 1842 726 1841 726 1835 728 1841 729 1835 730 1833 731 1833 732 1843 732 1836 733 1837 734 1832 734 1838 735 1842 736 1837 736 1847 738 1835 738 1839 738 1841 739 1833 739 1847 740 1846 740 1848 740 1834 740 1843 740 1835 741 1842 741 1844 742 1845 742 1846 742 1846 743 1838 745 1838 745 1846 746 1835 746 1844 746 1846 747 1838 747 1844 747 1848 748 1841 749 1833 749 1845 751 1840 752 1847 752 1841 754 1841 754 1839 754 1842 755 1841 755 1847 756 1844 757 1835 757 1833 757 1837 758 1841 758 1848 758 1838 760 1847 760 1846 761 1836 763 1844 763 1842 764 1833 765 1843 766 1842 767 1833 767 1834 767 1843 768 1840 768 1835 768 1843 769 1845 772 1839 772 1847 773 1841 773 1839 775 1847 775 1840 775 1840 775 1833 775 1843 776 1837 776 1840 777 1843 777 1836 777 1837 777 1847 778 1847 778 1846 778 1834 778 1837 779 1842 779 1847 779 1836 779 1844 780 1843 781 1844 781 1843 782 1836 783 1845 783 1834 784 1837 784 1845 784 1835 786 1836 786 1835 786 1846 786 1843 787 1836 787 1848 787 1838 788 1838 789 1839 790 1838 791 1846 791 1836 792 1843 792 1838 793 1842 793 1834 794 1846 794 1841 794 1843 795 1848 796 1837 797 1838 797 1846 797 1840 798 1839 798 1835 798 1838 799 1839 799 1837 800 1835 801 1848 801 1835 801 1846 801 1837 801 1840 802 1844 802 1842 802 1843 802 1836 803 1847 804 1840 804 1835 805 1835 805 1842 805 1836 806 1833 806 1838 809 1843 810 1847 811 1838 811 1833 811 1834 812 1843 812 1835 813 1843 813 1837 813 1843 815 1843 816 1837 817 1844 817 1843 818 1837 819 1837 819 1842 820 1846 821 1834 821 1832 822 1845 822 1841 824 1838 824 1840 825 1838 828 1847 831 1835 832 1832 833 1841 833 1839 834 1834 835 1836 835 1843 837 1832 838 1846 841 1847 842 1846 843 1845 843 1844 845 1839 847 1841 847 1847 849 1841 851 1846 852 1834 857 1835 862 1842 869 1841 876 1837 876 1837 887 1846 895 1838 901 1836 902 1833 929 1839 960 1834 597 1864 601 1859 618 1862 624 1851 632 1857 635 1861 640 1855 641 1860 643 1850 645 1863 649 1850 652 1856 653 1849 655 1851 666 1856 670 1860 672 1854 675 1852 678 1852 679 1862 680 1854 681 1857 682 1850 683 1857 684 1864 685 1855 687 1852 689 1862 689 1849 690 1862 691 1853 692 1862 692 1848 692 1855 693 1862 695 1853 696 1854 696 1856 700 1858 700 1857 703 1855 703 1861 704 1863 704 1850 705 1856 705 1851 705 1855 707 1861 708 1854 708 1861 710 1857 713 1864 714 1860 715 1862 715 1859 715 1853 715 1855 716 1849 717 1855 718 1860 718 1860 718 1850 720 1863 721 1850 723 1849 723 1856 723 1858 724 1852 724 1853 724 1851 725 1856 725 1858 726 1860 728 1853 729 1851 730 1864 730 1851 730 1852 730 1849 731 1848 731 1849 733 1849 733 1856 734 1854 735 1859 735 1862 736 1857 736 1853 738 1861 738 1861 738 1852 738 1853 739 1855 739 1860 740 1849 741 1854 741 1857 742 1864 743 1857 743 1856 743 1859 745 1856 746 1849 746 1854 746 1857 747 1860 747 1863 748 1854 748 1852 749 1860 749 1852 749 1850 749 1863 750 1850 750 1856 750 1858 752 1862 752 1863 754 1862 754 1848 754 1852 754 1850 755 1857 756 1849 756 1861 756 1850 757 1858 757 1860 758 1864 758 1864 759 1848 760 1849 760 1850 762 1856 763 1857 764 1863 764 1855 764 1860 764 1855 764 1848 765 1857 765 1854 767 1850 767 1850 768 1849 769 1862 769 1858 770 1856 771 1849 772 1851 772 1852 772 1857 774 1860 774 1861 774 1849 774 1860 774 1863 776 1855 777 1848 777 1854 777 1861 778 1854 779 1857 779 1857 781 1860 782 1859 782 1858 784 1852 785 1863 785 1851 785 1854 786 1850 787 1861 787 1860 787 1850 788 1858 788 1858 790 1855 790 1852 790 1849 790 1857 791 1852 792 1848 794 1852 794 1851 795 1864 795 1851 795 1852 795 1856 796 1858 796 1850 797 1848 797 1862 797 1853 797 1858 798 1852 799 1863 799 1855 800 1857 800 1852 801 1852 802 1859 802 1858 804 1849 804 1861 806 1853 807 1859 808 1848 808 1852 809 1851 810 1853 811 1850 813 1860 814 1862 815 1858 815 1864 816 1849 816 1855 817 1849 817 1861 818 1860 819 1855 820 1856 823 1863 825 1854 825 1856 826 1850 826 1861 827 1858 827 1861 828 1854 829 1864 831 1855 831 1854 832 1853 833 1853 835 1851 835 1861 836 1864 837 1855 840 1860 840 1862 840 1857 841 1858 841 1852 842 1850 842 1853 842 1853 847 1854 849 1858 849 1863 849 1849 850 1860 853 1858 859 1856 862 1861 863 1854 865 1857 867 1863 868 1854 870 1853 877 1851 880 1853 881 1855 886 1859 893 1853 899 1857 924 1849 541 1872 559 1878 583 1871 586 1867 613 1877 615 1880 625 1877 625 1879 630 1879 635 1872 636 1878 638 1868 645 1872 646 1865 648 1868 653 1875 657 1877 659 1872 661 1876 661 1878 664 1875 664 1877 665 1876 666 1867 666 1865 666 1876 667 1872 668 1873 669 1872 669 1869 670 1867 671 1873 671 1865 671 1879 672 1871 673 1872 673 1878 674 1870 674 1871 677 1870 679 1868 682 1869 684 1864 685 1874 687 1876 687 1869 688 1868 688 1864 689 1876 689 1868 691 1870 692 1869 692 1868 693 1874 693 1872 694 1879 695 1865 695 1873 698 1872 699 1870 700 1877 700 1874 700 1877 701 1870 701 1870 701 1875 702 1876 702 1867 702 1865 704 1865 705 1877 706 1878 707 1867 707 1872 709 1872 710 1869 711 1869 711 1876 713 1871 713 1880 713 1872 714 1867 714 1874 714 1880 715 1873 716 1878 716 1873 717 1866 718 1873 718 1874 718 1872 719 1875 719 1875 720 1868 721 1876 721 1872 721 1867 721 1879 722 1879 722 1869 723 1870 723 1874 723 1880 724 1867 724 1872 724 1871 725 1879 725 1870 727 1873 727 1878 727 1869 727 1873 729 1867 729 1878 731 1873 732 1880 732 1875 733 1871 733 1865 733 1865 735 1866 736 1878 736 1866 737 1869 738 1880 739 1873 740 1867 740 1872 741 1867 741 1870 741 1865 741 1876 742 1874 743 1870 744 1871 744 1874 745 1868 745 1865 746 1876 749 1865 749 1875 749 1871 750 1876 750 1876 750 1880 752 1877 752 1877 752 1865 752 1867 752 1876 754 1869 755 1868 756 1873 757 1871 757 1866 757 1870 758 1867 758 1869 758 1879 759 1878 759 1870 759 1866 760 1867 760 1875 760 1871 760 1871 761 1866 761 1872 761 1868 762 1871 763 1878 763 1868 764 1867 764 1880 765 1868 765 1873 767 1872 767 1878 768 1874 768 1867 769 1869 770 1866 772 1869 773 1879 773 1878 773 1869 773 1874 775 1875 775 1869 775 1871 775 1869 776 1872 776 1879 776 1870 777 1875 780 1870 781 1874 782 1871 782 1877 784 1875 784 1864 785 1865 786 1875 788 1879 788 1865 789 1866 791 1872 792 1865 793 1877 795 1871 795 1875 796 1871 796 1876 797 1868 797 1872 797 1864 798 1869 798 1879 799 1865 800 1880 801 1869 801 1874 801 1870 802 1868 804 1879 805 1873 808 1878 808 1868 811 1865 811 1868 818 1878 819 1872 823 1880 823 1879 826 1868 826 1874 826 1877 827 1871 827 1874 830 1878 832 1866 837 1873 837 1879 838 1875 840 1869 840 1870 843 1879 845 1874 856 1878 858 1875 866 1879 867 1869 898 1867 580 1893 589 1893 600 1891 617 1881 622 1890 622 1884 623 1890 634 1895 634 1884 639 1890 640 1888 640 1887 640 1892 641 1889 646 1889 649 1890 650 1881 652 1896 656 1887 659 1888 659 1893 660 1895 666 1890 667 1895 668 1892 669 1884 670 1882 671 1884 671 1881 673 1893 673 1883 675 1881 676 1880 678 1883 679 1884 679 1884 680 1882 680 1882 682 1894 683 1895 685 1884 686 1888 687 1884 689 1885 689 1893 690 1896 691 1881 691 1886 691 1886 694 1895 695 1880 695 1881 696 1895 697 1892 698 1892 698 1881 698 1887 698 1888 698 1892 701 1881 702 1885 702 1887 705 1889 705 1882 706 1882 707 1891 707 1885 708 1882 709 1892 709 1888 710 1881 710 1889 715 1884 716 1884 719 1880 721 1882 722 1887 723 1882 723 1891 724 1889 724 1890 724 1885 724 1889 725 1880 727 1891 728 1884 728 1884 729 1888 729 1886 731 1883 731 1894 731 1891 731 1889 731 1885 732 1890 734 1892 734 1896 735 1887 735 1883 736 1887 736 1884 736 1892 736 1891 737 1893 737 1882 738 1893 740 1884 740 1887 741 1891 743 1889 744 1891 744 1884 745 1892 746 1889 746 1881 747 1881 747 1882 747 1888 747 1890 748 1892 748 1893 750 1883 751 1887 751 1883 754 1894 754 1896 755 1893 756 1881 758 1892 761 1885 761 1884 762 1882 762 1892 762 1888 764 1881 764 1880 766 1894 768 1896 768 1886 768 1885 769 1893 769 1890 770 1884 771 1881 771 1888 772 1889 774 1893 775 1890 776 1893 777 1890 777 1883 781 1882 781 1881 782 1880 782 1893 783 1888 785 1881 785 1880 787 1881 787 1892 788 1882 793 1889 793 1882 796 1891 796 1891 800 1882 802 1895 804 1893 805 1881 805 1893 807 1885 807 1894 810 1891 810 1883 810 1888 811 1881 811 1890 817 1882 822 1893 823 1881 823 1886 825 1892 828 1883 828 1888 831 1890 833 1891 835 1889 841 1887 841 1889 843 1895 844 1893 848 1886 873 1881 876 1884 883 1882 891 1889 561 1907 601 1901 612 1901 612 1900 615 1896 615 1896 618 1907 619 1906 622 1907 623 1901 624 1910 628 1906 631 1910 632 1901 637 1902 638 1899 640 1907 645 1897 645 1897 647 1911 647 1911 649 1908 652 1908 654 1909 655 1897 656 1911 658 1904 659 1904 662 1904 663 1910 663 1901 665 1909 666 1909 667 1902 669 1907 670 1903 671 1901 671 1908 671 1902 672 1899 673 1906 674 1897 675 1904 675 1897 676 1908 676 1898 677 1898 677 1906 678 1907 679 1907 680 1905 680 1900 681 1903 683 1911 683 1907 683 1905 684 1901 684 1897 685 1910 685 1903 686 1912 686 1899 688 1906 688 1905 691 1903 692 1905 693 1897 695 1910 698 1906 698 1903 699 1911 699 1907 699 1899 701 1898 702 1904 704 1903 705 1908 708 1908 710 1911 712 1896 713 1911 714 1901 715 1903 715 1902 716 1911 716 1909 716 1905 716 1906 717 1906 719 1902 720 1903 720 1901 722 1905 723 1909 723 1896 723 1898 723 1897 723 1901 724 1908 724 1902 725 1897 725 1901 731 1898 733 1907 733 1897 734 1904 734 1898 734 1898 736 1904 737 1896 737 1904 737 1905 738 1905 738 1897 738 1899 739 1901 739 1898 739 1904 740 1911 740 1902 741 1912 741 1901 741 1911 742 1906 743 1900 745 1898 745 1905 745 1910 745 1911 746 1910 747 1903 748 1912 749 1899 749 1901 750 1903 751 1903 752 1910 752 1900 755 1897 755 1898 757 1898 757 1899 758 1900 758 1912 758 1900 759 1907 760 1901 760 1910 760 1906 763 1898 764 1900 766 1907 766 1900 767 1898 768 1897 769 1897 769 1908 772 1910 775 1897 777 1901 777 1901 777 1901 782 1900 782 1904 783 1903 783 1906 784 1901 786 1903 787 1897 789 1905 789 1912 792 1907 793 1899 796 1909 797 1907 797 1910 798 1902 799 1907 803 1904 812 1908 815 1902 820 1897 820 1897 821 1904 825 1905 835 1897 847 1910 851 1910 873 1903 938 1899 537 1923 572 1914 574 1926 582 1926 584 1920 585 1922 590 1918 593 1927 594 1927 608 1916 615 1913 628 1926 628 1913 633 1928 639 1917 640 1914 643 1916 643 1918 644 1925 645 1924 649 1921 650 1919 651 1921 653 1919 654 1913 657 1921 657 1921 658 1917 659 1918 659 1922 662 1922 664 1917 664 1919 665 1924 668 1924 668 1923 668 1922 679 1927 680 1921 681 1918 681 1924 683 1923 683 1913 683 1917 684 1920 684 1915 684 1921 685 1922 685 1926 688 1920 689 1923 692 1922 695 1917 696 1928 697 1926 698 1925 698 1913 698 1927 699 1920 700 1918 701 1918 705 1914 710 1924 712 1920 713 1919 715 1912 716 1913 717 1925 718 1918 718 1924 719 1926 720 1923 721 1928 721 1928 722 1920 722 1922 722 1918 724 1920 726 1925 726 1913 727 1917 728 1915 729 1922 730 1915 731 1924 733 1921 734 1928 735 1926 736 1920 736 1914 738 1925 742 1915 744 1922 747 1917 747 1913 748 1924 750 1926 751 1916 751 1914 754 1918 755 1917 758 1919 758 1915 759 1922 759 1913 762 1927 763 1921 765 1915 769 1920 769 1917 770 1925 770 1915 773 1915 774 1917 775 1920 779 1924 780 1917 783 1920 789 1912 789 1919 791 1926 792 1923 792 1917 793 1920 797 1927 798 1925 802 1921 802 1922 805 1920 805 1914 806 1926 810 1927 822 1919 833 1921 833 1926 842 1921 842 1915 849 1924 868 1912 907 1919 565 1939 574 1939 597 1933 604 1944 604 1933 605 1942 610 1943 611 1930 612 1935 618 1942 620 1934 622 1929 626 1942 627 1931 629 1942 632 1937 636 1941 637 1933 638 1934 644 1936 648 1942 650 1931 658 1938 660 1943 660 1943 660 1939 664 1936 664 1939 666 1937 667 1934 667 1936 670 1936 671 1932 672 1934 674 1936 676 1930 676 1934 677 1932 677 1937 678 1933 682 1933 682 1944 683 1943 684 1933 686 1928 686 1928 689 1941 689 1931 689 1940 690 1943 691 1932 692 1931 692 1931 692 1935 692 1931 693 1934 695 1930 696 1940 696 1937 696 1930 696 1941 698 1935 699 1943 699 1943 701 1933 703 1939 707 1940 708 1937 712 1928 713 1934 714 1928 715 1929 717 1936 717 1929 718 1930 721 1942 725 1929 726 1933 727 1929 728 1937 728 1937 729 1938 729 1937 730 1929 731 1941 731 1938 733 1939 733 1936 734 1942 736 1931 736 1928 736 1930 737 1941 738 1941 738 1932 738 1932 739 1933 740 1939 740 1935 741 1943 746 1929 748 1943 753 1943 755 1934 755 1930 765 1932 765 1939 767 1928 770 1934 776 1941 778 1939 783 1938 790 1934 791 1938 796 1932 798 1935 810 1931 811 1930 814 1939 839 1943 591 1955 598 1957 611 1959 613 1954 616 1956 617 1952 618 1957 621 1957 624 1949 637 1953 638 1957 639 1960 639 1957 641 1955 643 1960 644 1949 646 1945 652 1946 655 1957 658 1958 658 1955 658 1953 658 1952 660 1947 661 1959 661 1951 663 1957 664 1945 665 1957 667 1957 669 1947 670 1957 671 1954 672 1952 673 1945 676 1954 676 1948 676 1951 677 1951 677 1947 679 1957 680 1953 681 1955 681 1955 682 1959 682 1951 684 1955 684 1956 688 1957 691 1959 695 1953 695 1952 695 1958 696 1951 701 1958 703 1947 704 1944 707 1950 707 1960 710 1954 710 1953 711 1944 711 1946 713 1945 715 1944 718 1950 723 1957 729 1954 731 1945 731 1949 732 1946 735 1953 735 1954 736 1955 742 1956 743 1958 745 1945 754 1954 758 1957 759 1949 762 1955 763 1945 765 1955 772 1953 784 1950 786 1954 788 1950 789 1957 800 1956 809 1949 812 1958 815 1952 835 1945 845 1952 852 1945 854 1958 529 1972 540 1975 542 1975 575 1976 575 1962 580 1968 584 1971 585 1964 588 1965 588 1972 596 1968 610 1972 617 1962 625 1970 629 1963 629 1973 629 1961 633 1975 633 1974 638 1965 642 1973 643 1966 643 1966 646 1964 648 1971 652 1974 655 1966 657 1963 657 1960 661 1965 661 1964 661 1963 662 1970 666 1974 670 1963 670 1965 671 1974 672 1969 675 1961 676 1967 678 1972 685 1975 686 1966 689 1971 699 1961 699 1971 700 1964 703 1973 703 1966 704 1965 705 1961 713 1965 716 1969 717 1976 717 1965 721 1963 723 1966 723 1962 725 1968 729 1964 735 1970 738 1964 739 1968 744 1960 749 1961 763 1973 765 1960 765 1965 771 1975 777 1965 780 1974 784 1961 790 1963 792 1967 794 1967 800 1967 828 1965 833 1967 849 1968 892 1974 501 1976 531 1979 533 1980 567 1986 575 1986 576 1989 579 1984 584 1990 595 1977 596 1988 597 1985 608 1991 611 1979 612 1991 616 1978 624 1990 627 1989 629 1982 630 1989 631 1989 634 1984 636 1987 636 1978 644 1987 645 1984 647 1984 654 1977 654 1987 656 1991 661 1987 664 1991 665 1981 667 1989 673 1982 673 1979 675 1989 678 1988 681 1977 690 1980 691 1986 697 1986 697 1990 699 1986 705 1984 706 1990 706 1989 709 1992 709 1979 711 1978 713 1983 714 1979 716 1984 717 1984 719 1982 724 1983 726 1979 728 1982 732 1977 735 1990 736 1983 753 1983 757 1991 764 1990 770 1978 773 1990 782 1988 789 1977 807 1984 812 1985 817 1980 453 2003 490 1993 519 2000 553 2003 560 2003 570 2006 578 1999 583 2000 590 1997 590 1999 597 2008 604 1997 604 2005 613 2004 613 1994 613 2006 614 2000 625 1993 627 2008 631 2003 632 2006 636 2001 641 1995 642 2002 644 1995 649 2004 658 1994 659 1997 662 2007 663 2007 676 2004 677 1992 678 1996 684 1994 689 2000 692 2002 701 1994 702 2005 715 1999 721 1997 726 2005 728 2001 735 2001 747 2008 764 1996 772 2005 788 2006 793 1998 794 1998 802 2005 822 2007 845 1995 498 2020 517 2008 549 2020 552 2011 554 2011 565 2022 569 2012 574 2017 577 2024 582 2021 587 2012 591 2021 591 2020 606 2016 609 2021 609 2018 609 2021 612 2011 624 2010 631 2020 650 2024 652 2008 654 2016 656 2011 658 2015 659 2012 668 2011 673 2016 681 2021 699 2018 711 2012 716 2015 720 2012 735 2009 738 2020 740 2019 741 2019 742 2011 744 2024 749 2019 754 2018 773 2010 809 2023 504 2029 545 2032 579 2028 584 2032 588 2029 588 2034 589 2026 612 2033 612 2029 612 2031 614 2031 620 2030 627 2040 637 2028 652 2033 653 2036 659 2025 659 2037 662 2035 668 2036 668 2036 672 2032 676 2033 712 2024 728 2030 728 2030 758 2037 770 2025 776 2026 811 2040 825 2037 444 2041 470 2053 514 2049 516 2044 520 2043 561 2047 563 2053 566 2054 568 2051 570 2047 579 2044 583 2052 588 2041 590 2048 593 2040 607 2043 607 2051 611 2042 614 2043 625 2045 628 2055 658 2048 660 2051 666 2048 667 2040 677 2052 689 2042 720 2050 735 2046 786 2042 530 2063 532 2062 550 2067 553 2065 558 2058 561 2057 573 2064 576 2059 585 2058 588 2070 599 2072 605 2061 644 2058 647 2065 664 2062 505 2072 515 2085 530 2076 581 2087 620 2087 625 2081 655 2076 696 2085 521 2093 532 2095 536 2097 563 2098 613 2103 629 2093 671 2103 719 2089 753 2093 451 2113 538 2118 540 2109 549 2114 552 2110 566 2116 580 2113 604 2110 608 2105 614 2106 627 2111 458 2129 471 2128 494 2132 556 2133 614 2136 457 2151 474 2141 475 2136 531 2147 534 2147 538 2142 557 2137 575 2147 592 2141 621 2137 712 2150 450 2154 496 2158 682 2166 684 2154 813 2167 413 2181 413 2171 673 2175 478 2189 709 2197 436 2216 630 2226" fill="none" stroke="none" marker-start="url(#mc)" marker-mid="url(#mc)" marker-end="url(#mc)" transform="scale(0.5)"/>
<path d="M397.5 912.8 396.8 912.5 396.9 911.5 395.5 909.9 394.5 910.3 393.5 909.8 394.5 907.3 393.5 908.2 392.5 907.3 392.2 908.5 389.5 910.5 389.0 911.5 388.5 911.9 387.4 911.5 389.0 909.5 389.1 908.5 387.5 907.1 386.9 908.5 385.5 909.2 385.5 907.5 387.1 905.5 386.5 904.5 383.7 905.5 383.0 907.5 382.5 907.6 381.5 906.7 377.5 909.5 376.6 908.5 375.9 907.5 376.0 905.5 376.5 905.2 377.5 907.2 380.5 906.3 381.7 904.5 380.4 902.5 382.5 900.0 383.5 900.4 384.5 899.5 386.8 899.5 387.6 898.5 387.6 897.5 386.5 896.5 388.0 895.5 388.5 894.5 389.5 896.3 390.5 895.5 388.5 894.5 387.5 892.7 384.2 893.5 385.2 892.5 385.3 891.5 384.5 890.7 383.3 891.5 381.5 891.7 381.5 890.5 383.2 889.5 382.5 888.5 381.5 888.0 380.5 889.1 379.5 889.2 379.3 888.5 381.5 886.8 383.5 887.6 383.5 885.5 382.9 884.5 384.5 883.7 385.5 885.8 388.4 887.5 388.3 888.5 387.5 889.1 386.5 888.1 385.2 888.5 385.9 889.5 385.6 890.5 386.5 891.4 387.8 890.5 388.5 888.6 390.5 889.1 391.5 887.1 392.5 886.7 393.8 887.5 393.5 885.6 392.5 885.6 393.3 882.5 394.5 883.1 395.5 880.8 396.5 882.2 398.5 881.2 399.1 880.5 398.4 879.5 399.5 879.4 400.4 878.5 401.2 876.5 402.4 875.5 402.5 873.5 403.7 873.5 404.5 871.1 406.5 872.4 407.2 871.5 406.9 870.5 407.5 869.9 409.5 871.2 410.5 870.0 413.5 870.2 414.4 869.5 413.8 868.5 414.5 868.2 415.2 869.5 416.5 870.5 418.5 869.9 419.5 871.1 421.5 870.5 419.5 870.1 418.5 868.4 416.0 867.5 416.9 865.5 415.0 864.5 414.6 863.5 415.3 862.5 414.5 862.2 413.4 860.5 413.5 860.1 414.5 860.4 415.2 859.5 414.2 857.5 413.9 855.5 414.5 854.7 415.5 855.0 416.0 854.5 415.7 853.5 416.5 852.3 417.5 853.4 420.5 853.9 421.5 855.1 424.1 855.5 424.4 856.5 425.5 857.4 426.4 856.5 425.5 855.0 424.5 855.3 423.9 853.5 426.3 851.5 426.5 849.8 427.5 850.4 428.5 850.0 429.5 848.4 430.5 849.3 431.5 849.5 432.3 848.5 430.6 846.5 429.1 843.5 430.5 841.9 431.5 841.9 432.2 842.5 432.0 843.5 432.7 844.5 433.5 844.9 433.8 844.5 432.0 841.5 433.5 839.9 434.5 839.7 435.2 838.5 434.6 837.5 435.5 836.1 436.5 835.6 437.5 837.1 437.7 835.5 437.0 833.5 438.1 830.5 439.7 830.5 438.8 831.5 438.8 832.5 439.5 833.3 441.5 832.2 445.5 831.6 446.5 830.3 449.7 829.5 446.2 828.5 447.5 826.5 445.0 824.5 445.5 823.2 446.5 824.2 447.5 823.2 448.8 823.5 449.3 822.5 447.9 821.5 448.1 820.5 449.5 819.5 449.9 818.5 449.5 817.5 450.5 817.2 451.5 818.2 452.2 817.5 453.3 815.5 452.9 814.5 454.5 811.6 454.9 812.5 455.8 812.5 454.6 811.5 455.5 810.4 458.5 809.5 458.5 808.4 460.5 808.2 461.1 807.5 460.3 806.5 461.5 806.5 462.0 805.5 461.8 804.5 464.5 804.3 465.5 803.2 465.6 804.5 466.5 805.2 468.9 805.5 467.5 807.2 466.5 807.4 465.5 806.4 464.5 806.7 464.0 807.5 465.5 809.0 467.5 809.0 468.5 806.9 469.5 807.6 471.5 805.2 472.8 804.5 473.7 802.5 473.6 801.5 474.5 800.7 475.5 800.7 477.5 799.3 478.5 800.2 480.7 799.5 481.4 797.5 480.9 796.5 482.3 795.5 483.3 793.5 484.5 793.2 484.7 794.5 485.5 795.3 486.4 794.5 486.5 793.5 485.0 792.5 485.5 791.4 488.5 789.7 489.2 788.5 490.0 788.5 490.5 790.0 492.5 788.5 494.5 789.8 496.3 786.5 494.5 783.6 494.5 781.8 495.5 783.5 496.9 782.5 497.6 781.5 496.3 780.5 496.5 779.7 498.5 780.3 499.4 779.5 499.5 778.3 500.5 777.7 501.5 778.8 503.2 778.5 503.5 779.5 504.0 777.5 504.5 777.3 505.5 779.0 506.0 778.5 506.5 775.0 508.5 775.0 510.5 774.0 510.6 774.5 512.5 775.1 513.5 774.2 514.5 774.3 515.5 773.5 514.8 772.5 516.2 771.5 515.8 770.5 516.5 769.5 517.5 770.9 519.5 771.7 520.0 770.5 519.5 769.5 518.5 770.0 517.9 769.5 518.5 767.5 519.5 768.1 520.5 767.4 521.2 766.5 520.4 765.5 521.5 764.3 522.5 765.1 523.5 764.8 524.5 766.2 528.5 765.5 529.1 763.5 530.2 762.5 530.1 760.5 532.2 758.5 532.5 757.5 536.5 759.9 537.5 759.4 538.5 760.1 539.5 758.5 541.1 757.5 541.0 755.5 542.6 754.5 540.7 752.5 541.5 751.7 542.5 752.5 544.0 751.5 544.5 750.3 548.5 749.7 549.5 749.1 551.5 750.4 553.5 748.2 555.5 747.5 556.5 747.7 559.5 744.1 561.5 743.1 562.5 741.7 564.5 741.3 566.3 739.5 567.5 740.1 568.5 739.8 572.5 736.2 573.5 736.4 576.5 734.4 578.5 734.4 580.5 735.5 581.5 737.0 581.6 740.5 581.5 742.7 580.9 743.5 580.5 745.5 576.7 751.5 576.5 752.8 575.2 753.5 574.5 755.5 570.9 758.5 569.9 760.5 567.8 762.5 568.0 764.5 565.2 766.5 564.9 767.5 563.4 768.5 562.5 770.5 561.2 771.5 560.6 774.5 559.7 775.5 557.5 776.2 556.5 777.7 554.5 777.8 553.5 779.7 552.5 779.8 551.5 781.5 550.5 781.6 550.1 782.5 551.0 783.5 547.5 784.8 546.5 787.3 544.8 787.5 543.6 790.5 538.5 792.9 537.5 793.9 536.5 793.0 534.1 795.5 534.2 796.5 532.5 798.3 529.5 799.7 528.5 799.7 527.1 801.5 526.2 804.5 524.5 805.2 523.5 804.9 522.6 805.5 523.3 806.5 522.5 807.2 521.5 803.0 519.0 805.5 519.5 806.5 517.5 809.3 515.0 810.5 515.3 811.5 514.0 811.5 513.5 810.7 510.1 813.5 509.8 814.5 508.5 815.8 503.9 816.5 503.9 818.5 503.1 820.5 501.7 820.5 502.4 819.5 501.5 818.6 500.7 819.5 502.5 822.5 500.9 823.5 502.2 824.5 499.5 826.6 499.0 825.5 499.6 824.5 497.5 824.2 495.5 826.9 494.5 826.3 494.5 828.6 492.7 830.5 492.5 832.2 491.5 831.9 490.5 832.5 490.6 835.5 490.2 834.5 489.5 834.4 488.5 835.8 487.5 835.6 486.9 836.5 487.3 837.5 486.3 838.5 487.0 839.5 485.7 840.5 485.5 841.7 484.8 839.5 484.2 839.5 483.5 841.4 481.8 843.5 482.0 844.5 480.6 844.5 480.5 842.8 476.5 843.9 476.3 842.5 475.5 842.0 474.8 842.5 474.8 843.5 477.5 845.5 477.8 846.5 479.0 847.5 478.5 847.6 477.5 849.6 475.5 850.0 474.5 849.4 474.7 850.5 473.5 851.1 472.5 850.2 472.2 851.5 471.1 852.5 471.8 853.5 471.1 854.5 471.2 855.5 470.5 855.9 468.5 854.9 466.9 856.5 466.8 857.5 463.8 858.5 464.1 859.5 463.5 860.2 462.5 858.2 461.5 859.5 458.9 860.5 458.5 861.9 457.5 860.7 456.2 860.5 455.5 862.7 456.5 861.7 457.5 863.3 458.5 862.8 459.7 863.5 458.5 864.4 457.5 863.7 457.1 864.5 457.5 865.1 458.5 864.9 458.4 867.5 457.5 867.6 455.0 869.5 453.5 869.8 451.8 869.5 451.9 868.5 450.9 868.5 451.8 870.5 451.6 871.5 452.4 872.5 453.5 873.1 455.6 872.5 456.5 876.1 453.5 877.8 452.5 877.9 450.4 879.5 447.7 879.5 448.0 878.5 447.5 877.7 446.8 878.5 447.7 880.5 447.5 881.5 444.8 880.5 444.1 879.5 444.3 878.5 443.5 877.6 442.6 878.5 444.3 880.5 443.5 882.2 440.5 882.9 441.1 886.5 440.5 887.8 440.3 886.5 439.5 885.5 437.5 887.1 436.0 887.5 433.8 887.5 432.5 886.6 432.2 887.5 433.5 887.7 433.8 888.5 433.2 889.5 434.7 891.5 433.5 893.5 430.5 895.7 429.5 895.1 428.5 895.4 427.1 894.5 428.7 892.5 428.5 891.3 427.5 891.1 427.1 889.5 427.5 889.1 429.5 889.1 430.6 887.5 429.5 887.5 429.4 886.5 428.5 885.8 427.5 886.1 426.6 887.5 426.5 888.8 424.5 888.4 423.5 889.5 422.5 888.1 421.1 888.5 420.5 891.5 422.5 892.9 423.5 892.1 425.5 892.3 426.5 891.4 427.9 892.5 425.5 893.8 424.5 893.1 423.6 894.5 425.0 895.5 424.6 896.5 423.5 896.1 421.5 897.6 419.5 896.8 417.5 896.7 417.0 895.5 417.5 895.0 419.5 895.0 420.1 894.5 417.5 894.0 416.5 894.6 415.2 894.5 415.5 893.2 414.0 893.5 414.3 895.5 413.5 896.3 412.5 895.9 410.8 896.5 412.1 898.5 411.4 899.5 412.7 901.5 413.0 903.5 412.5 904.4 411.5 903.8 409.7 905.5 411.8 907.5 411.5 908.5 412.3 909.5 411.4 909.5 411.3 908.5 409.9 907.5 407.5 903.8 405.5 904.0 405.2 903.5 405.5 902.8 406.5 903.3 407.3 902.5 406.5 900.8 404.4 899.5 404.7 898.5 403.7 896.5 404.8 895.5 401.5 896.8 400.9 897.5 401.6 899.5 400.7 900.5 400.5 903.4 399.5 902.0 398.2 902.5 398.3 903.5 399.5 904.1 400.5 903.5 401.2 904.5 400.5 905.5 400.8 906.5 401.5 907.2 402.5 905.7 402.9 907.5 400.9 909.5 400.2 911.5 397.5 912.8ZM541.5 751.2 540.5 751.4 540.3 750.5 541.5 749.0 542.3 749.5 541.5 751.2ZM536.5 759.1 536.0 757.5 536.5 757.1 536.9 758.5 536.5 759.1ZM524.5 763.6 523.8 763.5 525.2 763.5 524.5 763.6ZM512.5 769.8 511.8 769.5 512.5 768.3 513.2 768.5 512.5 769.8ZM510.5 771.9 510.5 771.4 510.5 771.9ZM509.8 777.5 509.3 777.5 509.8 777.5ZM497.7 786.5 497.0 786.5 497.5 787.1 497.7 786.5ZM486.5 788.2 486.1 787.5 487.2 787.5 486.5 788.2ZM488.5 787.7 488.1 787.5 488.5 787.3 488.5 787.7ZM547.5 787.8 546.7 787.5 547.5 787.3 547.5 787.8ZM472.5 797.6 472.0 797.5 472.5 797.6ZM483.4 797.5 482.5 797.0 481.7 797.5 482.5 798.3 483.4 797.5ZM476.5 798.9 476.3 798.5 476.9 798.5 476.5 798.9ZM520.2 802.5 519.5 802.1 519.0 802.5 519.5 803.5 520.2 802.5ZM525.5 807.2 524.4 806.5 525.5 806.1 526.3 806.5 525.5 807.2ZM461.9 809.5 461.5 809.1 461.0 809.5 461.9 809.5ZM447.5 811.6 447.5 810.4 448.2 811.5 447.5 811.6ZM463.6 811.5 464.3 810.5 463.5 809.7 462.5 810.5 463.6 811.5ZM467.9 810.5 465.5 810.0 464.8 810.5 465.5 811.1 467.9 810.5ZM470.8 811.5 469.5 810.1 468.9 810.5 469.5 812.0 470.8 811.5ZM518.5 810.7 517.7 810.5 518.5 809.7 518.5 810.7ZM515.5 812.6 515.5 812.1 515.5 812.6ZM461.7 819.5 461.0 818.5 462.9 816.5 463.2 815.5 462.5 814.8 461.5 815.5 459.9 814.5 460.5 813.6 461.5 814.2 462.1 813.5 461.5 812.9 460.5 813.4 459.5 812.7 458.7 813.5 459.1 814.5 458.5 816.2 457.5 816.7 456.7 818.5 457.5 819.2 458.5 817.9 459.5 819.5 461.7 819.5ZM456.4 816.5 455.2 816.5 455.5 816.9 456.4 816.5ZM452.0 819.5 451.5 818.9 450.7 819.5 451.5 819.9 452.0 819.5ZM454.4 822.5 455.5 819.4 452.7 822.5 453.5 823.3 454.4 822.5ZM453.0 824.5 452.5 824.1 452.2 824.5 452.5 825.0 453.0 824.5ZM440.5 832.2 440.5 831.3 440.5 832.2ZM448.8 831.5 448.1 831.5 448.8 831.5ZM452.8 831.5 452.3 831.5 452.8 831.5ZM428.5 834.6 428.1 834.5 428.9 834.5 428.5 834.6ZM430.5 837.2 429.9 836.5 430.5 836.1 430.5 837.2ZM429.5 838.5 428.5 837.5 429.5 837.1 430.0 837.5 429.5 838.5ZM488.5 839.6 486.9 838.5 488.5 837.1 489.0 837.5 488.5 839.6ZM427.5 839.7 427.5 838.3 428.0 839.5 427.5 839.7ZM437.4 838.5 436.5 838.0 436.1 838.5 437.4 838.5ZM448.7 839.5 448.5 838.0 447.2 838.5 448.5 839.8 448.7 839.5ZM431.5 839.5 431.5 839.1 431.5 839.5ZM422.5 840.9 422.0 840.5 422.7 840.5 422.5 840.9ZM426.5 841.0 426.5 840.3 427.1 840.5 426.5 841.0ZM429.5 842.3 428.9 840.5 430.4 840.5 429.5 842.3ZM420.5 841.6 420.5 841.2 421.0 841.5 420.5 841.6ZM436.5 842.5 436.5 841.4 436.5 842.5ZM478.9 841.5 478.5 841.1 478.1 841.5 478.5 842.2 478.9 841.5ZM422.5 850.8 422.4 848.5 421.4 847.5 422.1 845.5 421.9 842.5 423.5 841.7 427.5 842.9 427.5 844.5 425.6 845.5 426.5 845.9 427.5 844.6 428.2 846.5 425.5 848.5 426.2 849.5 423.5 849.8 422.5 850.8ZM428.5 844.8 427.6 844.5 429.2 844.5 428.5 844.8ZM439.6 844.5 438.5 844.5 439.6 844.5ZM437.9 846.5 437.5 846.0 436.9 846.5 437.5 847.1 437.9 846.5ZM424.0 848.5 424.6 847.5 423.0 847.5 422.9 848.5 423.5 848.9 424.0 848.5ZM412.5 849.8 411.5 850.0 410.0 849.5 411.5 849.4 412.5 848.5 412.5 849.8ZM408.5 851.3 408.5 849.7 409.0 850.5 408.5 851.3ZM439.8 851.5 440.2 850.5 439.5 850.2 439.3 851.5 439.8 851.5ZM472.5 855.7 471.6 855.5 471.9 854.5 473.4 853.5 473.5 852.9 474.0 854.5 472.5 855.7ZM452.8 855.5 452.5 855.1 452.1 855.5 452.8 855.5ZM465.0 856.5 464.5 856.1 463.4 856.5 465.0 856.5ZM450.3 857.5 449.1 857.5 449.5 858.0 450.3 857.5ZM470.5 857.6 469.5 857.5 469.5 856.5 470.5 857.0 470.5 857.6ZM402.5 858.9 402.5 858.2 402.5 858.9ZM412.5 859.2 411.7 858.5 412.5 858.0 412.5 859.2ZM411.5 859.9 411.0 859.5 411.5 858.8 412.1 859.5 411.5 859.9ZM408.5 866.6 407.9 866.5 407.8 864.5 406.3 864.5 406.1 863.5 407.5 862.1 408.5 862.4 409.0 861.5 408.7 860.5 410.5 859.9 412.2 861.5 411.4 862.5 412.5 862.8 412.5 863.5 413.7 864.5 411.5 866.0 410.5 865.8 408.5 866.6ZM426.8 860.5 426.5 860.1 425.7 860.5 426.8 860.5ZM403.5 862.7 402.5 863.5 401.5 862.5 402.5 862.1 403.5 860.6 404.0 861.5 403.5 862.7ZM416.9 862.5 417.4 861.5 416.5 860.9 415.7 861.5 415.6 862.5 416.5 862.9 416.9 862.5ZM400.5 863.2 399.4 862.5 400.5 862.0 401.5 862.5 400.5 863.2ZM462.5 862.7 462.5 861.9 462.5 862.7ZM403.5 865.2 402.7 864.5 403.5 864.1 404.4 864.5 403.5 865.2ZM412.5 866.9 412.5 866.1 412.5 866.9ZM384.5 867.7 383.9 867.5 384.5 867.1 384.9 867.5 384.5 867.7ZM407.5 867.6 407.5 866.8 407.5 867.6ZM440.9 868.5 441.8 867.5 441.5 867.1 440.0 868.5 440.5 869.1 440.9 868.5ZM455.8 867.5 455.2 867.5 455.8 867.5ZM406.5 868.8 406.1 868.5 406.5 868.8ZM411.5 869.0 410.6 868.5 411.5 867.7 412.0 868.5 411.5 869.0ZM446.6 871.5 447.8 870.5 447.6 869.5 446.6 871.5ZM405.5 870.8 404.9 870.5 405.5 869.8 405.9 870.5 405.5 870.8ZM393.5 875.5 389.2 873.5 392.5 872.4 394.8 874.5 393.5 875.5ZM450.9 872.5 450.5 871.9 449.7 872.5 450.9 872.5ZM440.2 873.5 439.5 872.5 438.7 873.5 439.5 874.2 440.2 873.5ZM385.5 874.6 385.1 874.5 385.5 874.6ZM405.7 874.5 405.3 874.5 405.7 874.5ZM409.7 874.5 409.1 874.5 409.7 874.5ZM442.2 877.5 442.5 876.3 444.5 874.5 443.5 873.9 441.5 873.9 439.6 875.5 439.6 876.5 438.3 877.5 439.5 878.4 441.5 878.3 442.2 877.5ZM454.0 875.5 454.2 874.5 453.5 873.8 452.6 874.5 453.5 876.2 454.0 875.5ZM458.5 876.6 457.8 876.5 458.5 874.0 458.5 876.6ZM392.5 878.5 388.4 876.5 392.5 875.9 394.1 877.5 392.5 878.5ZM410.3 876.5 409.5 875.9 408.7 876.5 409.5 877.3 410.3 876.5ZM426.0 876.5 425.3 876.5 426.0 876.5ZM446.2 876.5 445.4 876.5 446.2 876.5ZM396.5 880.6 396.0 880.5 395.7 879.5 396.5 878.9 396.5 880.6ZM441.8 881.5 442.0 879.5 441.5 879.0 439.5 879.3 441.2 880.5 439.8 881.5 440.5 882.4 441.8 881.5ZM389.5 882.1 387.9 881.5 388.5 880.4 389.9 880.5 389.5 882.1ZM409.8 881.5 408.5 880.1 407.4 880.5 409.5 881.9 409.8 881.5ZM424.6 880.5 424.5 880.1 424.6 880.5ZM433.7 881.5 432.5 879.7 431.7 880.5 433.5 882.2 433.7 881.5ZM388.5 886.0 387.5 886.4 386.5 884.5 384.8 883.5 385.8 881.5 387.4 881.5 388.5 886.0ZM436.9 881.5 435.5 881.0 435.2 881.5 436.5 882.0 436.9 881.5ZM428.0 883.5 427.5 882.2 426.9 883.5 427.5 884.1 428.0 883.5ZM390.5 884.1 390.5 883.4 391.2 883.5 390.5 884.1ZM433.6 884.5 432.5 883.0 432.1 883.5 433.6 884.5ZM443.5 883.7 443.5 882.9 443.5 883.7ZM437.5 884.5 436.3 884.5 436.5 885.1 437.5 884.5ZM394.6 890.5 394.9 889.5 394.5 888.9 392.4 889.5 393.5 890.9 394.6 890.5ZM380.5 890.8 380.5 889.8 381.4 890.5 380.5 890.8ZM419.3 891.5 418.5 890.5 417.2 891.5 419.3 891.5ZM405.3 891.5 404.5 890.9 404.0 891.5 404.5 892.1 405.3 891.5ZM433.5 891.5 432.5 890.7 431.5 891.5 432.5 892.0 433.5 891.5ZM437.5 896.8 436.6 894.5 438.5 891.5 439.5 891.3 440.3 892.5 441.5 892.9 442.3 894.5 441.5 895.6 440.7 895.5 440.9 894.5 439.5 893.8 439.0 894.5 439.3 895.5 437.5 896.8ZM441.5 892.3 441.5 891.2 441.5 892.3ZM379.5 892.8 379.1 892.5 379.9 892.5 379.5 892.8ZM390.9 892.5 390.5 892.0 390.0 892.5 390.5 892.9 390.9 892.5ZM396.5 895.5 397.0 894.5 396.5 892.0 395.5 893.7 394.5 893.1 392.4 893.5 392.2 894.5 393.5 896.2 394.5 895.4 395.5 896.0 396.5 895.5ZM407.9 892.5 407.5 892.0 406.9 892.5 407.5 892.9 407.9 892.5ZM381.5 893.9 380.4 893.5 381.5 893.2 381.5 893.9ZM434.5 896.6 433.5 896.8 432.2 895.5 435.5 893.5 435.8 894.5 434.5 896.6ZM423.2 894.5 422.3 894.5 423.2 894.5ZM431.5 896.6 431.5 896.2 431.5 896.6ZM394.8 898.5 395.2 897.5 393.5 896.6 392.1 898.5 392.5 899.4 394.8 898.5ZM390.7 899.5 390.5 897.7 389.4 899.5 390.7 899.5ZM415.5 898.5 414.5 899.1 414.2 898.5 415.5 898.5ZM417.5 898.9 417.0 898.5 417.5 898.0 417.9 898.5 417.5 898.9ZM418.5 899.7 418.5 899.2 418.5 899.7ZM424.5 899.6 425.0 899.5 424.5 899.6ZM393.7 901.5 393.8 900.5 392.5 899.5 391.6 901.5 392.5 902.3 393.7 901.5ZM414.5 901.6 414.5 900.4 414.5 901.6ZM389.7 902.5 390.5 901.5 389.5 900.8 389.1 901.5 389.7 902.5ZM404.5 902.6 404.5 901.3 404.5 902.6ZM410.8 901.5 410.3 901.5 410.5 901.9 410.8 901.5ZM427.5 902.5 427.0 902.5 426.8 901.5 427.5 901.2 427.5 902.5ZM375.5 905.1 374.5 905.3 374.3 904.5 375.5 904.3 375.9 904.5 375.5 905.1ZM395.9 904.5 395.5 904.0 394.5 904.5 395.5 904.9 395.9 904.5ZM413.5 906.0 412.4 905.5 412.7 904.5 413.5 904.2 413.5 906.0ZM404.5 906.5 404.5 905.2 405.2 905.5 404.5 906.5ZM419.5 906.0 419.5 905.3 420.1 905.5 419.5 906.0ZM373.5 908.0 373.5 906.2 374.2 907.5 373.5 908.0ZM410.5 913.6 410.3 912.5 409.5 912.3 407.5 913.4 406.5 913.3 406.3 912.5 407.5 911.9 408.1 910.5 406.5 909.7 405.5 910.5 404.8 909.5 406.7 907.5 408.5 907.3 409.8 908.5 409.7 909.5 408.7 910.5 410.5 911.4 412.5 911.4 410.6 912.5 410.5 913.6ZM419.5 908.2 418.1 907.5 419.5 906.8 419.5 908.2ZM381.5 910.1 381.1 909.5 382.4 909.5 381.5 910.1ZM419.5 910.8 419.5 909.4 420.0 910.5 419.5 910.8ZM374.5 910.6 374.5 910.2 374.5 910.6ZM380.5 910.9 380.5 910.3 380.9 910.5 380.5 910.9ZM404.5 910.5 404.9 910.5 404.5 910.5ZM361.5 911.7 361.5 911.1 361.5 911.7ZM394.5 912.5 393.3 911.5 393.5 911.2 394.5 910.9 395.6 911.5 394.5 912.5ZM401.5 911.6 400.9 911.5 401.5 911.6ZM372.5 912.7 372.5 912.3 372.5 912.7ZM378.5 913.6 377.2 913.5 378.5 912.4 378.9 913.5 378.5 913.6ZM360.5 913.6 359.7 913.5 360.5 913.6ZM370.5 913.6 369.8 913.5 370.5 913.6ZM402.5 913.8 402.5 913.4 402.5 913.8ZM414.5 914.9 414.5 913.5 414.5 914.9ZM386.5 918.6 385.3 917.5 385.5 914.2 385.8 915.5 388.2 917.5 387.5 918.4 386.5 918.6ZM389.5 917.4 387.7 916.5 389.2 915.5 389.5 914.3 390.5 916.5 389.5 917.4ZM398.5 914.8 398.5 914.3 398.5 914.8ZM398.5 923.3 397.5 920.2 396.5 920.5 396.1 919.5 397.8 916.5 401.5 914.8 402.2 915.5 400.2 916.5 398.2 918.5 398.5 919.3 399.5 919.4 400.2 918.5 399.7 917.5 400.5 916.6 402.6 919.5 400.8 920.5 400.5 921.5 398.5 923.3ZM403.5 916.0 403.1 915.5 403.5 915.0 403.5 916.0ZM357.5 917.1 357.5 916.1 358.1 916.5 357.5 917.1ZM367.5 917.5 366.5 916.3 367.8 916.5 367.5 917.5ZM393.5 917.5 393.5 916.0 394.5 916.2 394.5 917.2 393.5 917.5ZM407.5 916.6 407.5 916.3 407.5 916.6ZM358.5 924.6 355.5 923.4 355.1 922.5 355.3 918.5 356.5 917.9 357.5 918.9 358.7 918.5 358.5 917.3 360.5 917.2 361.6 918.5 361.8 922.5 358.5 924.6ZM376.5 917.9 376.5 917.2 377.0 917.5 376.5 917.9ZM386.5 923.6 385.1 922.5 385.5 920.7 386.5 921.3 387.5 920.9 390.5 916.5 391.4 917.5 390.7 918.5 392.9 920.5 390.5 920.2 389.5 921.9 386.5 923.6ZM395.5 917.8 395.1 917.5 395.5 917.8ZM404.5 917.8 403.6 917.5 404.5 916.9 404.5 917.8ZM407.5 919.8 407.1 919.5 407.5 919.8ZM372.5 926.7 371.0 926.5 370.3 924.5 371.3 923.5 371.1 920.5 371.5 920.1 372.8 921.5 372.2 923.5 373.2 924.5 372.5 926.7ZM379.5 920.9 379.5 920.5 379.5 920.9ZM394.5 921.9 394.5 920.3 394.5 921.9ZM368.5 923.0 368.5 921.5 368.5 923.0ZM375.5 925.5 374.9 924.5 375.5 921.5 377.5 922.2 379.5 921.8 380.4 922.5 376.5 923.6 375.5 925.5ZM382.5 923.6 381.7 923.5 382.5 923.0 382.9 923.5 382.5 923.6ZM390.5 924.9 389.3 923.5 391.5 923.0 391.9 923.5 390.5 924.9ZM397.5 927.7 396.4 927.5 396.5 925.7 395.3 926.5 394.1 926.5 395.5 923.2 397.5 923.0 398.3 923.5 396.4 924.5 396.5 925.3 397.5 924.8 398.2 925.5 398.3 927.5 397.5 927.7ZM363.5 924.8 363.5 923.8 363.5 924.8ZM367.5 924.9 367.5 924.2 367.5 924.9ZM399.5 926.7 398.6 926.5 398.6 925.5 397.6 924.5 398.5 923.6 399.5 923.8 399.9 924.5 399.5 926.7ZM381.5 925.5 380.1 925.5 381.5 925.5ZM387.5 925.6 387.5 925.2 388.4 925.5 387.5 925.6ZM366.5 926.6 366.5 925.9 366.5 926.6ZM376.5 926.6 376.5 926.1 376.5 926.6ZM379.5 926.6 379.1 926.5 379.5 926.2 379.5 926.6ZM369.5 929.4 368.2 928.5 369.5 928.1 370.0 928.5 369.5 929.4ZM373.5 929.8 373.5 929.3 373.5 929.8ZM372.5 930.7 371.5 931.2 371.5 929.9 373.1 930.5 372.5 930.7ZM376.5 931.4 376.5 930.2 376.5 931.4ZM382.5 935.6 380.5 936.3 379.5 935.6 378.5 936.4 376.7 933.5 376.5 932.1 377.1 931.5 378.8 931.5 379.5 932.4 380.5 930.5 380.8 932.5 382.6 934.5 382.5 935.6ZM369.5 932.5 368.5 932.8 368.5 932.0 369.5 932.5ZM362.5 938.6 361.5 938.3 358.5 939.4 357.5 938.7 356.8 937.5 359.5 937.9 360.1 936.5 358.1 935.5 357.5 934.5 360.5 934.5 361.5 935.5 361.5 936.5 363.0 937.5 362.5 938.6ZM385.5 936.1 385.5 935.3 385.5 936.1ZM376.5 936.6 376.5 936.1 377.3 936.5 376.5 936.6ZM379.5 937.5 379.1 937.5 379.9 937.5 379.5 937.5ZM348.5 938.6 348.5 937.8 348.5 938.6ZM362.5 942.8 362.5 941.7 363.2 942.5 362.5 942.8ZM363.5 944.6 363.5 942.9 363.5 944.6ZM367.5 943.6 366.2 943.5 366.5 943.0 367.5 943.6ZM366.5 947.2 366.2 946.5 367.2 946.5 366.5 947.2ZM368.5 947.6 366.6 947.5 367.5 946.6 368.5 947.6ZM370.5 947.7 370.5 947.4 370.5 947.7ZM369.5 948.7 369.5 948.3 369.5 948.7ZM369.5 950.7 367.5 951.0 367.2 950.5 367.5 949.9 368.5 949.7 369.5 950.7Z" fill="#c8b179" fill-rule="evenodd"/>
<path d="M2462 1452 2475 1456 2504 1460 2471 1474 2477 1471 2482 1472 2490 1477 2508 1466 2403 1493 2439 1493 2452 1492 2460 1488 2470 1495 2480 1486 2281 1503 2301 1497 2357 1507 2385 1504 2399 1503 2414 1501 2415 1511 2416 1511 2420 1509 2433 1510 2434 1496 2439 1497 2442 1505 2444 1497 2480 1501 2345 1525 2367 1518 2371 1523 2372 1528 2376 1521 2378 1513 2386 1521 2394 1521 2400 1521 2402 1528 2403 1519 2404 1519 2413 1517 2418 1519 2426 1527 2445 1518 2294 1535 2296 1533 2350 1540 2351 1531 2355 1541 2374 1537 2375 1539 2376 1535 2378 1537 2382 1539 2382 1533 2382 1535 2383 1539 2387 1536 2387 1533 2388 1542 2391 1539 2392 1531 2392 1533 2393 1531 2396 1531 2400 1539 2401 1542 2407 1531 2413 1537 2415 1538 2425 1543 2426 1533 2426 1533 2427 1536 2433 1530 2434 1538 2436 1539 2453 1537 2273 1550 2292 1555 2295 1549 2322 1560 2338 1558 2341 1550 2343 1556 2345 1558 2345 1552 2346 1551 2349 1556 2349 1551 2349 1559 2349 1551 2350 1549 2350 1545 2352 1548 2354 1554 2356 1547 2357 1548 2358 1553 2359 1555 2359 1551 2360 1551 2361 1559 2361 1555 2362 1551 2364 1557 2365 1547 2368 1557 2370 1553 2371 1552 2371 1553 2373 1545 2373 1552 2374 1550 2374 1555 2375 1547 2378 1546 2378 1557 2378 1544 2379 1560 2380 1547 2380 1548 2382 1547 2384 1552 2384 1548 2384 1546 2384 1550 2385 1553 2396 1554 2397 1560 2399 1556 2399 1546 2401 1545 2403 1557 2423 1559 2217 1567 2274 1567 2284 1565 2291 1573 2304 1572 2310 1571 2311 1573 2312 1575 2317 1572 2318 1575 2319 1571 2320 1572 2320 1575 2321 1572 2323 1566 2325 1562 2326 1567 2326 1573 2326 1562 2328 1568 2329 1569 2330 1565 2330 1567 2331 1564 2332 1565 2334 1572 2335 1565 2335 1569 2335 1575 2336 1575 2336 1569 2336 1571 2337 1564 2339 1568 2339 1575 2340 1575 2340 1562 2341 1575 2341 1567 2342 1566 2342 1573 2343 1564 2345 1571 2346 1573 2346 1568 2348 1566 2348 1573 2348 1572 2349 1565 2349 1572 2350 1566 2350 1571 2352 1573 2354 1565 2355 1569 2357 1570 2358 1562 2359 1565 2360 1567 2361 1565 2362 1573 2362 1576 2362 1576 2363 1563 2365 1576 2365 1568 2366 1564 2367 1561 2367 1571 2367 1564 2368 1565 2368 1564 2371 1571 2371 1561 2372 1575 2373 1574 2373 1575 2374 1572 2374 1567 2374 1565 2376 1574 2376 1569 2377 1570 2378 1566 2379 1562 2381 1564 2382 1561 2383 1565 2386 1566 2386 1561 2387 1571 2388 1564 2389 1575 2395 1562 2403 1570 2405 1571 2410 1571 2412 1571 2414 1565 2239 1579 2267 1587 2271 1590 2276 1587 2277 1592 2277 1579 2280 1579 2281 1592 2281 1590 2283 1585 2286 1591 2289 1578 2293 1581 2295 1583 2298 1585 2299 1586 2299 1582 2300 1591 2301 1592 2303 1583 2305 1579 2306 1576 2307 1582 2307 1583 2309 1589 2310 1585 2310 1589 2311 1588 2311 1586 2312 1582 2312 1589 2313 1582 2313 1583 2314 1580 2315 1592 2316 1591 2316 1582 2318 1590 2318 1584 2318 1589 2320 1586 2320 1579 2320 1592 2320 1589 2320 1582 2321 1585 2321 1592 2321 1590 2322 1581 2323 1580 2324 1592 2324 1589 2325 1582 2325 1582 2326 1576 2326 1585 2326 1589 2326 1579 2327 1590 2327 1577 2327 1591 2328 1585 2328 1584 2328 1580 2328 1579 2330 1583 2331 1590 2331 1590 2331 1581 2331 1592 2332 1591 2332 1588 2333 1581 2333 1589 2335 1589 2335 1581 2335 1590 2335 1585 2336 1587 2337 1587 2337 1589 2338 1582 2338 1579 2338 1582 2339 1586 2339 1577 2340 1578 2340 1583 2340 1589 2340 1587 2340 1584 2340 1581 2341 1584 2341 1583 2341 1577 2341 1584 2343 1583 2343 1578 2344 1582 2344 1581 2345 1578 2345 1589 2345 1588 2345 1583 2346 1578 2346 1588 2347 1590 2347 1591 2347 1587 2349 1588 2349 1577 2349 1589 2349 1584 2349 1586 2350 1582 2350 1587 2351 1579 2351 1584 2351 1591 2352 1586 2352 1592 2352 1577 2353 1584 2354 1580 2355 1590 2355 1578 2355 1583 2356 1582 2356 1585 2357 1582 2357 1587 2357 1583 2357 1584 2359 1581 2359 1587 2359 1583 2360 1582 2360 1584 2361 1580 2361 1588 2362 1576 2362 1590 2365 1584 2365 1587 2366 1578 2366 1584 2368 1591 2368 1592 2368 1580 2369 1578 2369 1586 2372 1590 2372 1592 2372 1591 2373 1578 2374 1586 2375 1576 2375 1581 2375 1588 2375 1587 2376 1580 2378 1579 2378 1588 2380 1590 2380 1579 2380 1592 2380 1579 2381 1581 2386 1590 2388 1577 2397 1584 2401 1582 2236 1599 2243 1608 2249 1600 2253 1594 2256 1595 2260 1603 2262 1606 2269 1594 2270 1607 2271 1594 2273 1600 2274 1599 2278 1606 2280 1600 2280 1602 2281 1605 2281 1600 2282 1606 2282 1604 2282 1597 2284 1605 2285 1607 2286 1593 2286 1608 2286 1608 2287 1600 2287 1608 2288 1599 2288 1605 2288 1603 2288 1607 2289 1607 2289 1594 2290 1598 2290 1601 2291 1607 2291 1599 2291 1607 2292 1608 2293 1595 2295 1594 2295 1602 2295 1606 2296 1601 2297 1595 2297 1596 2298 1601 2299 1592 2300 1599 2300 1602 2300 1594 2300 1601 2301 1601 2302 1602 2303 1593 2303 1602 2303 1593 2304 1594 2305 1600 2306 1596 2306 1600 2307 1601 2308 1597 2309 1600 2309 1592 2310 1594 2310 1596 2310 1600 2310 1598 2311 1600 2311 1598 2312 1597 2314 1595 2315 1601 2315 1593 2316 1598 2317 1593 2317 1594 2317 1599 2320 1600 2321 1593 2321 1596 2321 1593 2322 1602 2322 1594 2322 1601 2322 1601 2323 1601 2323 1598 2323 1596 2324 1592 2324 1603 2324 1595 2326 1598 2326 1603 2328 1594 2328 1604 2329 1592 2329 1598 2329 1604 2329 1593 2330 1593 2331 1599 2332 1597 2332 1602 2332 1597 2333 1592 2333 1599 2334 1596 2335 1594 2335 1593 2335 1600 2336 1600 2336 1606 2336 1592 2337 1592 2337 1594 2337 1596 2338 1593 2338 1599 2338 1603 2339 1595 2339 1604 2339 1602 2340 1601 2340 1600 2340 1602 2341 1595 2341 1595 2342 1602 2342 1600 2342 1603 2342 1597 2343 1593 2343 1600 2344 1598 2344 1608 2345 1604 2346 1595 2346 1603 2346 1599 2346 1603 2346 1604 2347 1600 2348 1598 2350 1598 2351 1597 2351 1596 2351 1606 2353 1597 2354 1599 2354 1607 2354 1598 2354 1604 2354 1592 2354 1594 2354 1597 2355 1607 2355 1607 2355 1598 2358 1597 2358 1599 2359 1595 2359 1602 2360 1608 2360 1592 2360 1593 2362 1596 2362 1596 2362 1601 2363 1593 2365 1597 2366 1605 2366 1597 2367 1600 2367 1598 2367 1593 2367 1594 2368 1597 2370 1594 2372 1601 2372 1599 2374 1593 2379 1596 2383 1597 2385 1603 2211 1613 2221 1613 2223 1620 2238 1608 2240 1613 2247 1616 2249 1619 2252 1622 2252 1618 2252 1622 2253 1608 2254 1611 2254 1623 2256 1618 2256 1609 2256 1622 2256 1618 2256 1621 2257 1624 2257 1612 2257 1618 2257 1616 2258 1619 2260 1614 2260 1609 2261 1609 2264 1620 2264 1622 2264 1610 2264 1609 2266 1618 2266 1611 2266 1618 2267 1621 2267 1623 2267 1619 2268 1613 2269 1615 2269 1619 2270 1622 2271 1613 2272 1619 2272 1610 2273 1621 2273 1614 2273 1621 2274 1612 2275 1616 2275 1610 2276 1616 2276 1617 2276 1615 2277 1611 2278 1609 2278 1616 2278 1614 2280 1612 2283 1610 2322 1622 2322 1621 2324 1621 2325 1616 2325 1617 2325 1614 2325 1616 2325 1618 2326 1620 2326 1622 2327 1622 2328 1622 2329 1617 2330 1613 2330 1619 2331 1609 2331 1622 2331 1622 2331 1622 2331 1608 2332 1611 2332 1609 2333 1615 2333 1610 2334 1610 2335 1621 2335 1614 2335 1610 2335 1621 2336 1612 2336 1617 2336 1617 2337 1613 2337 1622 2338 1609 2338 1615 2339 1613 2339 1620 2340 1620 2340 1618 2340 1620 2341 1610 2341 1614 2341 1618 2341 1616 2342 1620 2342 1615 2343 1619 2343 1612 2344 1609 2345 1621 2346 1613 2347 1621 2347 1622 2347 1610 2348 1614 2348 1617 2349 1611 2350 1615 2354 1608 2354 1611 2355 1611 2357 1608 2359 1615 2359 1615 2360 1614 2361 1616 2366 1608 2367 1609 2375 1611 2379 1621 2384 1623 2197 1628 2201 1626 2208 1631 2210 1637 2214 1639 2215 1637 2219 1630 2219 1628 2220 1634 2232 1630 2232 1635 2233 1637 2234 1635 2234 1633 2235 1636 2235 1639 2235 1637 2236 1634 2237 1624 2237 1635 2238 1633 2238 1633 2238 1639 2239 1634 2239 1632 2240 1639 2241 1627 2241 1633 2241 1633 2242 1631 2242 1628 2242 1630 2244 1631 2246 1632 2247 1633 2247 1629 2248 1634 2248 1630 2248 1627 2248 1629 2249 1628 2249 1628 2251 1628 2251 1626 2253 1628 2253 1628 2255 1625 2256 1627 2256 1628 2257 1627 2258 1627 2259 1626 2259 1627 2262 1625 2263 1630 2263 1625 2263 1629 2264 1629 2264 1628 2264 1630 2265 1627 2268 1626 2270 1625 2315 1639 2316 1640 2317 1637 2318 1638 2318 1634 2319 1634 2320 1633 2320 1634 2321 1635 2322 1633 2323 1631 2323 1639 2323 1630 2323 1629 2324 1633 2324 1635 2324 1626 2324 1626 2324 1625 2325 1634 2325 1634 2326 1630 2327 1631 2327 1625 2327 1638 2328 1634 2328 1630 2329 1628 2329 1625 2329 1630 2331 1626 2332 1634 2332 1640 2332 1629 2332 1638 2334 1630 2334 1640 2335 1639 2335 1638 2335 1632 2336 1627 2337 1624 2338 1633 2339 1633 2341 1637 2341 1628 2341 1630 2341 1628 2341 1634 2341 1627 2342 1627 2342 1639 2342 1626 2343 1626 2343 1637 2343 1634 2344 1634 2346 1636 2346 1626 2347 1627 2349 1626 2352 1631 2357 1635 2362 1625 2366 1629 2137 1641 2173 1652 2194 1650 2194 1643 2194 1643 2195 1651 2199 1643 2201 1652 2201 1652 2203 1647 2206 1654 2207 1654 2207 1654 2209 1653 2210 1648 2215 1654 2216 1645 2216 1653 2217 1646 2217 1655 2218 1656 2218 1654 2218 1654 2221 1648 2221 1655 2222 1648 2222 1652 2225 1648 2225 1652 2225 1648 2225 1651 2226 1646 2226 1647 2226 1646 2226 1648 2227 1654 2227 1644 2227 1645 2227 1644 2227 1644 2227 1643 2228 1645 2228 1642 2228 1655 2228 1650 2228 1643 2229 1644 2230 1642 2230 1644 2231 1645 2231 1644 2231 1646 2233 1640 2234 1642 2235 1644 2235 1644 2236 1646 2236 1641 2309 1648 2309 1652 2309 1649 2309 1647 2310 1646 2310 1653 2310 1653 2310 1655 2311 1654 2312 1644 2313 1649 2313 1647 2313 1655 2314 1645 2314 1644 2314 1640 2314 1649 2315 1654 2315 1642 2316 1641 2317 1645 2317 1651 2318 1645 2318 1652 2319 1644 2320 1651 2320 1645 2321 1645 2321 1642 2322 1654 2322 1640 2322 1648 2322 1651 2324 1649 2325 1648 2326 1656 2327 1653 2328 1652 2330 1652 2332 1652 2333 1642 2334 1647 2335 1654 2340 1642 2344 1649 2386 1644 2121 1667 2127 1671 2132 1661 2145 1670 2152 1669 2154 1658 2161 1665 2166 1658 2171 1661 2178 1668 2180 1671 2181 1663 2186 1672 2187 1670 2187 1670 2188 1666 2189 1663 2191 1669 2192 1665 2193 1663 2194 1663 2194 1670 2196 1669 2196 1669 2197 1660 2197 1667 2198 1669 2199 1670 2200 1670 2200 1663 2201 1664 2201 1658 2202 1665 2202 1658 2204 1671 2205 1668 2205 1661 2205 1668 2205 1663 2206 1668 2206 1667 2206 1667 2206 1657 2207 1662 2207 1666 2207 1665 2207 1661 2207 1658 2208 1664 2208 1664 2208 1664 2209 1666 2210 1665 2211 1666 2212 1661 2213 1666 2213 1665 2213 1659 2214 1665 2214 1664 2215 1660 2216 1661 2216 1660 2217 1662 2218 1656 2218 1661 2218 1659 2219 1658 2220 1659 2221 1659 2223 1659 2223 1658 2291 1671 2292 1671 2293 1672 2294 1668 2295 1670 2297 1670 2297 1672 2298 1669 2298 1671 2298 1664 2299 1665 2299 1669 2299 1666 2300 1670 2302 1662 2302 1663 2303 1667 2304 1661 2305 1665 2306 1671 2307 1661 2307 1660 2307 1668 2308 1662 2308 1669 2308 1657 2308 1658 2308 1668 2308 1664 2309 1658 2309 1665 2309 1658 2310 1658 2310 1662 2310 1662 2311 1662 2312 1663 2314 1658 2314 1666 2314 1656 2315 1659 2316 1663 2319 1668 2320 1665 2322 1661 2323 1658 2327 1656 2330 1672 2333 1664 2335 1662 2338 1662 2345 1672 2065 1687 2103 1685 2104 1679 2124 1686 2136 1685 2141 1685 2142 1674 2147 1681 2151 1680 2155 1683 2158 1681 2158 1681 2160 1686 2163 1687 2163 1683 2166 1683 2167 1688 2168 1673 2169 1684 2171 1677 2173 1687 2174 1676 2175 1686 2175 1676 2176 1681 2176 1686 2177 1682 2177 1682 2177 1676 2177 1687 2179 1682 2179 1678 2179 1676 2180 1675 2180 1673 2181 1685 2181 1679 2182 1686 2182 1682 2183 1676 2183 1683 2184 1677 2185 1678 2185 1676 2186 1677 2188 1682 2191 1672 2191 1676 2192 1674 2192 1672 2193 1673 2193 1674 2195 1673 2195 1673 2195 1673 2197 1676 2197 1675 2199 1675 2282 1687 2285 1686 2285 1687 2287 1686 2287 1687 2288 1688 2289 1686 2291 1681 2292 1685 2292 1678 2292 1679 2293 1680 2293 1684 2294 1680 2294 1675 2294 1683 2295 1675 2295 1683 2295 1679 2296 1687 2296 1682 2297 1672 2297 1677 2298 1686 2298 1680 2298 1674 2298 1687 2299 1685 2301 1677 2302 1677 2302 1676 2304 1677 2304 1686 2307 1686 2307 1672 2308 1672 2309 1675 2313 1676 2313 1678 2314 1674 2329 1679 2343 1678 2351 1675 2118 1697 2121 1690 2138 1696 2139 1701 2143 1703 2144 1696 2144 1688 2145 1689 2146 1704 2146 1696 2147 1696 2149 1698 2150 1696 2150 1693 2150 1693 2152 1698 2154 1689 2154 1702 2155 1692 2156 1701 2158 1702 2158 1702 2158 1688 2158 1703 2159 1704 2159 1700 2160 1688 2161 1702 2162 1688 2162 1700 2162 1691 2163 1694 2163 1690 2163 1696 2163 1698 2164 1693 2164 1697 2165 1696 2165 1690 2165 1694 2165 1688 2166 1696 2167 1697 2168 1695 2168 1695 2169 1694 2170 1688 2171 1690 2171 1693 2172 1690 2174 1693 2175 1688 2176 1692 2178 1690 2178 1689 2271 1703 2273 1701 2274 1702 2275 1701 2275 1701 2275 1701 2276 1700 2276 1695 2276 1696 2277 1703 2278 1703 2278 1704 2278 1695 2278 1691 2279 1700 2279 1699 2281 1696 2281 1697 2281 1693 2281 1693 2281 1700 2281 1700 2283 1691 2284 1695 2285 1689 2285 1697 2286 1692 2286 1692 2288 1697 2288 1697 2289 1697 2290 1697 2290 1700 2290 1690 2290 1697 2290 1699 2290 1692 2291 1701 2292 1691 2293 1689 2296 1697 2302 1693 2307 1695 2317 1696 2340 1697 2083 1716 2102 1713 2111 1715 2120 1710 2123 1708 2128 1719 2128 1718 2132 1709 2133 1713 2134 1717 2135 1709 2135 1714 2135 1719 2135 1705 2137 1719 2137 1712 2137 1712 2138 1709 2138 1717 2138 1718 2138 1716 2139 1716 2140 1716 2141 1719 2141 1710 2142 1714 2142 1712 2143 1707 2143 1711 2144 1713 2145 1714 2145 1711 2145 1706 2145 1709 2146 1709 2146 1711 2147 1712 2147 1712 2147 1712 2147 1707 2148 1714 2148 1708 2149 1713 2152 1704 2153 1710 2154 1713 2154 1714 2154 1706 2155 1709 2155 1710 2156 1710 2156 1708 2156 1707 2156 1707 2157 1704 2157 1706 2159 1705 2251 1719 2254 1717 2255 1719 2255 1717 2255 1716 2258 1719 2258 1717 2258 1715 2259 1714 2260 1713 2262 1710 2262 1714 2264 1715 2264 1710 2264 1708 2265 1713 2265 1713 2265 1715 2265 1710 2266 1708 2266 1709 2266 1712 2266 1713 2266 1709 2266 1708 2267 1718 2267 1718 2268 1719 2268 1707 2269 1706 2269 1717 2270 1704 2271 1711 2272 1714 2272 1707 2273 1714 2273 1709 2273 1711 2274 1718 2275 1710 2275 1712 2275 1707 2276 1706 2279 1707 2280 1719 2280 1709 2281 1711 2281 1720 2288 1710 2305 1708 2305 1709 2315 1710 2320 1716 2085 1730 2092 1724 2096 1735 2096 1723 2102 1722 2104 1726 2107 1735 2108 1723 2109 1733 2110 1735 2111 1735 2114 1729 2115 1733 2116 1727 2116 1736 2116 1732 2118 1726 2118 1724 2118 1735 2118 1731 2120 1721 2121 1736 2122 1733 2122 1726 2123 1722 2123 1728 2123 1725 2123 1731 2124 1726 2125 1721 2126 1731 2127 1735 2127 1724 2127 1724 2128 1727 2130 1732 2131 1731 2132 1729 2133 1726 2133 1721 2134 1727 2134 1722 2134 1725 2135 1721 2135 1722 2135 1727 2136 1727 2136 1728 2136 1723 2136 1721 2137 1720 2139 1722 2240 1733 2243 1732 2244 1732 2245 1731 2246 1735 2246 1727 2246 1732 2247 1734 2247 1728 2247 1729 2247 1733 2247 1733 2248 1734 2248 1735 2249 1734 2250 1728 2252 1726 2252 1727 2252 1735 2252 1728 2253 1723 2253 1725 2254 1726 2255 1726 2255 1733 2255 1721 2255 1721 2256 1731 2256 1725 2256 1735 2257 1724 2257 1727 2257 1723 2258 1722 2258 1727 2260 1730 2261 1732 2262 1731 2264 1721 2265 1723 2267 1721 2269 1725 2269 1728 2269 1725 2293 1724 2297 1724 2056 1752 2066 1749 2069 1745 2075 1743 2078 1745 2082 1747 2087 1744 2094 1750 2097 1740 2100 1749 2100 1749 2100 1748 2101 1739 2101 1736 2102 1742 2103 1744 2103 1742 2103 1749 2104 1748 2105 1749 2105 1746 2105 1749 2105 1741 2107 1741 2108 1747 2110 1737 2111 1741 2112 1742 2112 1741 2113 1742 2113 1741 2114 1736 2114 1742 2117 1740 2117 1739 2118 1738 2121 1738 2122 1738 2123 1736 2123 1736 2124 1737 2228 1749 2229 1752 2229 1747 2229 1750 2230 1750 2231 1749 2233 1749 2234 1742 2235 1748 2235 1740 2236 1744 2236 1741 2236 1749 2236 1745 2236 1748 2237 1741 2237 1738 2237 1746 2237 1739 2238 1738 2238 1742 2239 1744 2241 1736 2241 1736 2242 1741 2242 1738 2243 1736 2244 1742 2244 1737 2244 1743 2245 1744 2247 1740 2247 1743 2248 1738 2252 1745 2252 1750 2254 1743 2254 1738 2255 1738 2256 1749 2259 1738 2038 1761 2058 1765 2060 1766 2060 1758 2073 1757 2076 1765 2076 1760 2079 1760 2079 1756 2080 1761 2081 1758 2083 1768 2084 1765 2084 1764 2084 1766 2085 1765 2085 1760 2086 1762 2087 1764 2087 1764 2087 1765 2087 1766 2088 1767 2089 1767 2090 1758 2091 1762 2091 1762 2091 1759 2092 1755 2093 1759 2094 1757 2094 1756 2094 1755 2095 1758 2095 1756 2095 1756 2097 1754 2097 1753 2097 1758 2099 1756 2099 1753 2206 1767 2207 1766 2210 1767 2211 1766 2214 1764 2215 1765 2216 1764 2217 1766 2217 1764 2217 1766 2217 1761 2218 1761 2219 1763 2220 1768 2221 1763 2221 1756 2222 1758 2222 1767 2222 1763 2222 1764 2223 1761 2224 1761 2224 1760 2224 1762 2224 1755 2224 1765 2224 1765 2224 1752 2225 1753 2225 1755 2225 1753 2226 1753 2227 1756 2228 1755 2228 1765 2229 1754 2229 1754 2231 1768 2234 1764 2236 1761 2236 1762 2237 1753 2238 1754 2238 1754 2244 1752 2245 1763 2265 1767 2273 1759 2054 1783 2060 1777 2062 1775 2063 1779 2064 1779 2064 1780 2064 1776 2065 1781 2067 1782 2067 1773 2068 1774 2069 1782 2069 1778 2071 1783 2071 1778 2071 1782 2071 1781 2071 1781 2071 1777 2072 1783 2072 1768 2073 1772 2073 1779 2074 1776 2075 1780 2075 1778 2076 1774 2076 1771 2077 1771 2077 1777 2078 1776 2078 1777 2079 1776 2079 1773 2079 1778 2083 1773 2083 1771 2085 1771 2088 1769 2088 1769 2196 1780 2197 1780 2197 1780 2197 1778 2197 1782 2198 1783 2199 1777 2200 1779 2200 1784 2200 1772 2200 1776 2200 1772 2201 1782 2201 1776 2202 1773 2202 1773 2202 1772 2203 1778 2204 1772 2204 1768 2205 1772 2205 1770 2205 1771 2206 1774 2206 1770 2207 1772 2207 1771 2207 1772 2208 1775 2208 1774 2209 1778 2210 1780 2210 1777 2211 1782 2212 1770 2213 1777 2214 1781 2214 1773 2214 1774 2215 1769 2216 1783 2218 1781 2219 1777 2220 1779 2221 1776 2221 1769 2234 1775 2237 1775 2242 1776 2011 1798 2018 1789 2019 1786 2022 1791 2032 1787 2033 1797 2037 1791 2039 1799 2040 1795 2041 1799 2042 1790 2043 1799 2043 1797 2046 1791 2046 1796 2047 1794 2048 1797 2048 1793 2049 1799 2050 1793 2053 1796 2053 1800 2053 1788 2054 1786 2054 1799 2055 1797 2056 1797 2057 1789 2057 1794 2057 1788 2058 1788 2058 1794 2058 1797 2058 1796 2058 1796 2059 1790 2060 1795 2061 1792 2062 1794 2062 1795 2062 1793 2063 1785 2063 1788 2064 1789 2064 1793 2065 1794 2066 1793 2066 1793 2066 1793 2066 1791 2067 1790 2067 1788 2067 1788 2067 1790 2068 1788 2068 1786 2069 1787 2069 1786 2071 1788 2175 1799 2177 1797 2177 1796 2178 1798 2180 1795 2181 1798 2182 1795 2182 1792 2184 1796 2185 1791 2186 1790 2187 1787 2187 1788 2187 1799 2187 1791 2187 1791 2187 1800 2187 1796 2187 1794 2188 1795 2190 1787 2191 1796 2192 1791 2192 1791 2193 1787 2193 1795 2194 1799 2194 1790 2194 1787 2195 1784 2196 1787 2196 1794 2196 1794 2196 1785 2197 1787 2197 1794 2197 1790 2197 1791 2198 1787 2199 1787 2200 1785 2201 1789 2201 1787 2202 1787 2203 1792 2207 1787 2209 1787 2212 1788 2214 1790 2240 1796 2240 1788 2249 1790 2005 1814 2006 1810 2016 1803 2027 1805 2030 1814 2030 1814 2031 1806 2032 1814 2033 1816 2034 1811 2034 1810 2034 1812 2034 1811 2035 1806 2036 1814 2037 1814 2037 1807 2038 1811 2039 1809 2039 1805 2040 1806 2042 1803 2042 1809 2042 1815 2042 1809 2043 1812 2044 1811 2044 1807 2045 1810 2045 1802 2048 1805 2049 1804 2049 1801 2049 1801 2051 1804 2052 1803 2054 1801 2158 1814 2159 1812 2160 1812 2160 1812 2162 1815 2162 1813 2162 1814 2164 1814 2165 1814 2165 1810 2166 1811 2166 1807 2168 1805 2169 1810 2169 1806 2169 1809 2170 1806 2170 1808 2170 1807 2172 1804 2172 1804 2173 1801 2174 1802 2174 1804 2174 1801 2176 1809 2177 1801 2177 1808 2177 1803 2177 1811 2177 1810 2178 1801 2179 1800 2180 1801 2180 1803 2181 1807 2182 1810 2182 1813 2183 1805 2194 1800 2197 1806 2200 1802 1953 1817 1987 1831 1993 1826 2008 1827 2011 1824 2011 1825 2015 1831 2016 1819 2016 1826 2016 1831 2019 1820 2020 1826 2020 1819 2021 1816 2021 1829 2022 1820 2022 1824 2022 1822 2022 1827 2022 1826 2022 1830 2022 1832 2022 1829 2023 1823 2024 1826 2025 1829 2025 1822 2027 1823 2027 1830 2027 1829 2027 1830 2028 1829 2028 1816 2028 1821 2028 1817 2028 1829 2029 1830 2029 1817 2030 1828 2030 1828 2030 1816 2030 1818 2030 1823 2031 1827 2031 1823 2031 1818 2032 1828 2032 1824 2032 1818 2035 1820 2036 1818 2039 1817 2147 1829 2148 1829 2148 1829 2150 1826 2150 1828 2151 1831 2152 1831 2152 1826 2152 1818 2152 1824 2153 1821 2153 1823 2153 1831 2153 1827 2153 1827 2153 1832 2154 1819 2154 1824 2154 1822 2154 1820 2155 1830 2155 1831 2155 1827 2157 1818 2158 1828 2158 1821 2159 1818 2159 1818 2161 1829 2161 1827 2161 1823 2161 1820 2162 1829 2162 1822 2163 1816 2163 1828 2164 1821 2164 1823 2166 1818 2166 1824 2167 1830 2167 1818 2167 1821 2169 1816 2169 1828 2177 1821 2180 1822 2183 1817 2207 1820 2215 1820 2231 1826 1982 1845 1984 1844 1990 1840 1990 1844 1991 1845 1996 1845 1997 1840 2002 1847 2002 1837 2003 1841 2003 1844 2004 1843 2004 1839 2004 1846 2005 1837 2006 1846 2006 1847 2006 1845 2009 1843 2009 1845 2010 1847 2011 1838 2011 1848 2011 1847 2011 1847 2012 1842 2013 1845 2014 1835 2014 1838 2014 1840 2014 1844 2015 1839 2016 1843 2016 1837 2017 1833 2018 1834 2018 1841 2019 1841 2019 1838 2019 1836 2019 1838 2019 1841 2020 1834 2020 1842 2020 1834 2021 1834 2022 1833 2125 1847 2126 1846 2127 1847 2130 1846 2130 1842 2131 1847 2132 1842 2133 1847 2133 1843 2133 1838 2133 1842 2134 1846 2135 1837 2136 1841 2136 1839 2136 1843 2136 1836 2137 1834 2138 1836 2138 1840 2139 1832 2139 1837 2140 1835 2140 1833 2141 1841 2141 1837 2141 1839 2142 1833 2143 1833 2144 1836 2145 1839 2146 1833 2146 1841 2146 1833 2147 1841 2147 1832 2148 1837 2148 1841 2149 1839 2150 1839 2151 1834 2151 1838 2151 1838 2151 1842 2152 1844 2155 1835 2156 1843 2158 1837 2159 1838 2163 1839 2163 1833 2168 1839 2174 1841 2176 1838 2177 1836 2193 1832 2196 1845 2212 1847 1961 1862 1975 1848 1979 1858 1980 1859 1980 1858 1982 1862 1986 1861 1987 1851 1987 1861 1988 1851 1988 1859 1989 1853 1990 1855 1991 1862 1991 1852 1991 1857 1992 1856 1993 1862 1993 1857 1994 1858 1994 1863 1995 1855 1996 1863 1996 1852 1997 1850 1997 1848 1998 1861 1998 1857 1999 1858 1999 1851 1999 1855 1999 1861 2000 1862 2000 1861 2000 1854 2000 1850 2003 1855 2004 1851 2005 1851 2005 1851 2005 1848 2008 1848 2105 1862 2106 1862 2106 1859 2107 1862 2107 1859 2108 1858 2108 1859 2108 1864 2108 1861 2109 1862 2109 1857 2110 1855 2111 1855 2112 1851 2113 1850 2114 1856 2114 1851 2114 1852 2114 1860 2115 1862 2115 1854 2116 1849 2117 1849 2117 1849 2117 1863 2117 1862 2119 1848 2119 1856 2119 1851 2119 1849 2119 1853 2120 1856 2120 1852 2121 1857 2121 1850 2122 1852 2122 1849 2123 1855 2123 1852 2124 1859 2124 1855 2124 1853 2124 1851 2125 1850 2128 1852 2129 1848 2131 1854 2132 1851 2132 1852 2133 1849 2134 1849 2136 1851 2140 1848 2141 1852 2143 1855 2156 1851 2160 1856 2188 1862 2206 1858 2211 1848 1944 1879 1956 1872 1968 1876 1970 1880 1970 1877 1972 1878 1974 1875 1975 1871 1975 1874 1977 1872 1977 1877 1979 1873 1979 1877 1980 1875 1980 1870 1980 1868 1981 1869 1984 1877 1984 1872 1984 1878 1985 1880 1986 1873 1986 1872 1987 1865 1987 1870 1988 1875 1988 1864 1988 1872 1990 1874 1990 1877 1991 1874 1991 1868 1991 1874 1992 1869 1992 1874 1993 1872 1993 1870 1993 1871 1993 1870 1994 1873 1995 1867 1996 1865 2085 1878 2086 1877 2086 1876 2087 1878 2088 1878 2088 1874 2089 1877 2090 1876 2090 1879 2090 1878 2091 1878 2091 1878 2091 1878 2092 1871 2092 1871 2093 1873 2093 1869 2093 1873 2095 1872 2095 1874 2096 1867 2096 1867 2096 1876 2097 1874 2097 1869 2097 1866 2099 1866 2099 1864 2100 1865 2100 1867 2101 1873 2101 1865 2101 1873 2103 1869 2104 1864 2104 1865 2104 1867 2104 1865 2106 1876 2106 1875 2107 1866 2108 1874 2108 1872 2108 1879 2108 1870 2109 1869 2110 1878 2111 1880 2111 1869 2113 1878 2114 1874 2116 1871 2116 1866 2118 1865 2118 1871 2118 1865 2118 1866 2119 1870 2120 1869 2121 1873 2121 1878 2121 1872 2123 1868 2126 1867 2128 1865 2133 1870 2140 1865 2141 1867 2163 1871 1937 1895 1945 1892 1948 1890 1949 1894 1950 1886 1953 1893 1955 1891 1956 1894 1963 1888 1963 1885 1963 1882 1964 1890 1964 1883 1968 1884 1968 1888 1968 1896 1968 1891 1969 1895 1970 1895 1970 1880 1971 1885 1972 1892 1972 1889 1972 1882 1972 1895 1973 1888 1974 1884 1974 1891 1974 1891 1976 1891 1977 1882 1977 1887 1977 1889 1977 1885 1977 1887 1977 1890 1978 1889 1978 1891 1978 1889 1978 1891 1979 1890 1979 1882 1980 1887 1980 1882 1981 1887 1982 1886 1983 1883 1984 1883 2061 1894 2064 1894 2066 1888 2066 1889 2066 1891 2066 1894 2067 1892 2068 1896 2068 1895 2070 1890 2072 1893 2073 1889 2073 1890 2073 1888 2073 1889 2076 1888 2077 1887 2077 1888 2077 1890 2077 1893 2079 1893 2079 1888 2080 1889 2081 1888 2081 1896 2082 1889 2082 1883 2082 1882 2083 1891 2084 1883 2084 1881 2084 1890 2084 1891 2084 1888 2084 1884 2086 1888 2087 1886 2087 1895 2089 1890 2090 1881 2090 1880 2091 1893 2093 1881 2094 1889 2096 1881 2097 1887 2099 1887 2105 1881 2110 1884 2121 1884 2127 1896 2128 1885 1929 1904 1934 1911 1941 1905 1941 1906 1944 1906 1946 1902 1947 1898 1947 1903 1947 1902 1948 1905 1948 1907 1948 1903 1949 1903 1949 1900 1949 1905 1950 1909 1950 1906 1951 1901 1951 1899 1952 1910 1953 1905 1954 1898 1955 1899 1956 1903 1957 1910 1957 1904 1958 1899 1958 1908 1958 1907 1959 1910 1959 1909 1959 1898 1960 1900 1960 1906 1961 1898 1961 1906 1961 1907 1961 1912 1961 1897 1962 1905 1962 1910 1962 1902 1962 1911 1962 1904 1963 1906 1963 1897 1964 1906 1964 1905 1965 1901 1966 1897 1967 1898 1970 1900 1970 1897 1970 1897 1971 1897 2045 1910 2048 1911 2049 1906 2049 1906 2050 1907 2052 1908 2052 1908 2052 1908 2052 1904 2053 1907 2053 1905 2054 1908 2054 1910 2056 1905 2057 1906 2057 1905 2058 1903 2058 1901 2058 1904 2059 1901 2059 1905 2059 1904 2059 1902 2059 1912 2059 1903 2059 1910 2060 1903 2061 1904 2061 1902 2061 1899 2063 1903 2064 1900 2064 1901 2064 1900 2064 1900 2066 1901 2066 1903 2067 1899 2067 1898 2069 1897 2071 1906 2072 1898 2072 1898 2074 1903 2074 1897 2074 1897 2075 1906 2076 1900 2076 1907 2080 1904 2082 1897 2086 1898 2087 1897 2088 1903 2088 1906 2091 1902 2092 1900 2096 1904 2096 1906 2098 1906 2100 1908 2104 1905 2112 1907 2137 1898 2145 1905 1907 1916 1909 1928 1913 1921 1915 1921 1916 1917 1917 1925 1921 1916 1924 1918 1927 1925 1928 1922 1931 1925 1932 1923 1932 1918 1932 1919 1933 1926 1934 1923 1936 1918 1938 1921 1940 1917 1940 1922 1941 1922 1942 1928 1942 1922 1944 1919 1946 1926 1947 1927 1947 1928 1948 1913 1949 1925 1949 1923 1949 1926 1949 1926 1949 1916 1949 1921 1950 1928 1950 1923 1950 1918 1951 1915 1951 1918 1952 1920 1953 1915 1953 1918 1954 1916 1955 1918 1955 1914 1956 1916 1956 1917 1956 1913 1957 1912 1959 1912 2017 1927 2022 1925 2024 1927 2027 1926 2028 1926 2028 1928 2029 1927 2029 1924 2030 1928 2032 1924 2033 1925 2033 1924 2035 1928 2036 1922 2037 1923 2037 1921 2038 1921 2038 1924 2039 1921 2039 1926 2040 1925 2040 1925 2041 1919 2041 1920 2041 1922 2042 1926 2042 1916 2042 1919 2042 1923 2043 1914 2043 1920 2044 1917 2044 1922 2045 1916 2046 1919 2047 1914 2048 1912 2049 1916 2049 1912 2050 1924 2050 1916 2051 1919 2052 1913 2054 1926 2055 1922 2055 1921 2056 1923 2060 1913 2060 1926 2061 1913 2062 1916 2065 1917 2067 1918 2074 1916 2082 1914 2091 1916 2091 1915 2094 1920 2098 1912 1906 1939 1911 1942 1911 1937 1912 1932 1914 1939 1915 1942 1916 1929 1916 1941 1921 1942 1922 1928 1923 1939 1924 1937 1925 1944 1925 1939 1925 1940 1925 1932 1925 1941 1926 1943 1926 1935 1926 1939 1926 1929 1927 1937 1927 1943 1928 1939 1928 1941 1929 1937 1929 1938 1930 1932 1930 1940 1930 1941 1931 1928 1931 1932 1932 1934 1932 1942 1933 1943 1933 1933 1933 1943 1934 1935 1934 1931 1934 1942 1934 1943 1935 1937 1935 1936 1936 1932 1936 1938 1937 1941 1939 1933 1939 1938 1940 1939 1940 1934 1940 1937 1941 1930 1942 1939 1942 1930 1943 1933 1943 1930 1943 1933 1943 1936 1943 1930 1944 1935 1945 1930 1946 1929 1948 1929 1949 1929 2002 1941 2002 1940 2003 1943 2003 1939 2003 1942 2003 1938 2004 1939 2004 1939 2008 1939 2009 1941 2009 1937 2009 1942 2009 1940 2010 1940 2010 1939 2010 1941 2011 1942 2011 1939 2011 1941 2012 1938 2012 1935 2012 1936 2012 1932 2012 1940 2012 1937 2013 1940 2013 1933 2013 1941 2015 1935 2015 1931 2015 1930 2015 1933 2016 1934 2016 1937 2017 1935 2017 1933 2018 1934 2019 1941 2019 1929 2020 1931 2020 1933 2021 1937 2023 1930 2024 1932 2024 1929 2024 1929 2025 1936 2025 1938 2025 1938 2025 1930 2025 1937 2028 1937 2028 1935 2029 1930 2029 1933 2029 1939 2030 1936 2032 1929 2033 1931 2037 1933 2037 1935 2043 1933 2044 1929 2049 1933 2049 1937 2052 1941 2054 1941 2061 1928 2086 1935 1899 1950 1900 1955 1901 1947 1901 1960 1901 1949 1902 1954 1904 1955 1904 1959 1905 1948 1909 1955 1910 1947 1910 1945 1911 1952 1914 1955 1915 1951 1916 1948 1916 1950 1916 1954 1917 1945 1917 1947 1918 1953 1918 1949 1921 1956 1921 1956 1921 1948 1922 1944 1922 1944 1923 1950 1924 1949 1924 1952 1926 1946 1926 1959 1927 1953 1928 1950 1928 1957 1928 1957 1928 1958 1929 1953 1929 1956 1929 1949 1929 1953 1929 1958 1929 1960 1929 1945 1930 1944 1930 1947 1931 1957 1932 1957 1932 1954 1933 1954 1933 1951 1933 1958 1934 1949 1937 1949 1938 1952 1947 1959 1962 1960 1962 1959 1965 1956 1967 1958 1967 1959 1969 1959 1969 1953 1969 1953 1970 1957 1970 1954 1971 1953 1971 1958 1972 1955 1972 1953 1973 1955 1974 1960 1974 1955 1974 1949 1975 1950 1975 1954 1975 1960 1976 1949 1978 1955 1979 1954 1979 1952 1980 1958 1980 1957 1981 1948 1983 1956 1983 1954 1984 1955 1984 1951 1984 1951 1984 1959 1985 1952 1987 1955 1987 1959 1987 1955 1988 1956 1989 1958 1989 1955 1989 1958 1990 1954 1990 1953 1990 1950 1990 1952 1993 1950 1994 1956 1994 1956 1995 1953 1995 1946 1995 1953 1995 1949 1997 1949 1997 1946 1997 1944 1997 1955 1998 1948 1998 1949 1998 1951 1999 1952 2000 1945 2000 1954 2003 1946 2003 1947 2003 1954 2003 1944 2004 1956 2004 1949 2004 1953 2004 1956 2004 1948 2006 1956 2006 1949 2008 1944 2012 1949 2013 1947 2018 1951 2019 1953 2019 1954 2020 1959 2023 1950 2024 1956 2031 1951 2035 1945 2037 1952 2039 1944 2040 1950 2047 1951 2093 1945 1853 1975 1886 1970 1887 1964 1891 1961 1893 1962 1894 1969 1894 1970 1895 1965 1895 1970 1896 1976 1897 1968 1897 1967 1898 1974 1900 1965 1901 1964 1903 1975 1903 1974 1904 1961 1906 1967 1906 1972 1906 1961 1907 1971 1909 1965 1910 1971 1910 1968 1911 1961 1912 1970 1913 1973 1914 1970 1914 1966 1915 1960 1915 1966 1915 1973 1916 1964 1917 1960 1917 1962 1917 1973 1918 1962 1918 1961 1918 1971 1918 1972 1919 1962 1919 1960 1920 1974 1920 1971 1921 1973 1921 1962 1922 1968 1923 1973 1924 1976 1924 1967 1924 1972 1925 1964 1925 1965 1926 1962 1926 1970 1927 1962 1927 1962 1927 1968 1928 1967 1928 1969 1928 1970 1929 1976 1930 1970 1931 1972 1931 1971 1931 1963 1931 1964 1931 1961 1931 1975 1932 1961 1932 1975 1932 1964 1932 1970 1933 1970 1934 1970 1935 1969 1937 1973 1937 1975 1938 1970 1938 1968 1939 1971 1939 1971 1940 1975 1940 1965 1940 1974 1941 1970 1941 1966 1941 1972 1941 1973 1942 1976 1942 1966 1943 1967 1943 1962 1944 1973 1944 1965 1945 1960 1945 1965 1945 1969 1945 1964 1946 1962 1946 1966 1947 1966 1947 1974 1948 1973 1948 1973 1948 1976 1948 1963 1949 1976 1949 1961 1949 1964 1950 1974 1950 1975 1952 1971 1953 1974 1953 1975 1953 1967 1953 1964 1953 1965 1953 1963 1954 1966 1955 1973 1955 1965 1956 1975 1956 1966 1956 1969 1957 1964 1957 1966 1957 1966 1957 1976 1958 1966 1958 1965 1960 1971 1960 1976 1960 1974 1960 1965 1961 1964 1961 1970 1961 1966 1961 1966 1962 1975 1962 1963 1962 1967 1963 1964 1963 1971 1963 1966 1964 1964 1964 1962 1965 1973 1965 1963 1965 1965 1966 1967 1967 1970 1967 1976 1969 1966 1969 1971 1969 1962 1969 1961 1969 1975 1970 1960 1970 1960 1970 1961 1971 1974 1971 1971 1971 1967 1972 1966 1972 1964 1974 1961 1976 1972 1980 1964 1981 1960 1981 1962 1982 1964 1982 1962 1982 1975 1984 1964 1984 1962 1985 1965 1987 1964 1988 1962 1990 1968 1992 1964 1992 1967 1994 1970 1998 1967 1999 1962 2001 1962 2022 1969 2028 1968 1864 1981 1867 1985 1869 1986 1872 1987 1877 1987 1881 1980 1881 1981 1882 1978 1884 1990 1889 1982 1890 1984 1891 1990 1891 1979 1892 1988 1893 1987 1894 1987 1895 1978 1897 1984 1899 1978 1900 1989 1901 1979 1903 1991 1903 1987 1903 1978 1904 1982 1904 1988 1905 1988 1905 1976 1906 1985 1906 1982 1907 1980 1907 1988 1908 1985 1908 1990 1908 1982 1909 1985 1909 1979 1909 1977 1910 1991 1910 1980 1911 1984 1911 1983 1911 1990 1912 1982 1913 1986 1913 1977 1915 1991 1916 1988 1917 1988 1917 1979 1918 1982 1919 1976 1919 1981 1919 1980 1919 1980 1921 1980 1921 1979 1923 1981 1923 1991 1925 1976 1925 1986 1925 1977 1925 1978 1925 1982 1928 1984 1928 1991 1928 1990 1929 1985 1930 1985 1931 1989 1932 1984 1932 1977 1932 1983 1932 1976 1933 1977 1934 1988 1934 1989 1935 1988 1936 1978 1936 1984 1936 1988 1937 1976 1939 1976 1940 1987 1941 1983 1941 1983 1941 1991 1942 1991 1942 1989 1943 1985 1944 1978 1945 1981 1945 1985 1946 1977 1950 1977 1950 1983 1951 1976 1952 1977 1953 1984 1955 1976 1957 1981 1957 1978 1958 1976 1959 1978 1959 1977 1962 1978 1962 1978 1963 1986 1976 1989 1976 1991 1983 1989 1988 1977 1989 1979 1847 2008 1849 2000 1860 1996 1860 2004 1866 1996 1867 1996 1868 2003 1871 2005 1874 2002 1876 2006 1877 2007 1879 2001 1879 2001 1881 2003 1881 2006 1882 1998 1883 2005 1884 2007 1885 1993 1885 2002 1885 2000 1888 1998 1889 1994 1889 2000 1889 2005 1890 2001 1890 2001 1890 2007 1891 2005 1891 1993 1891 1997 1894 1996 1895 2008 1895 2005 1898 1999 1900 2006 1901 2008 1902 1998 1902 2001 1902 1996 1903 1997 1904 1994 1905 2004 1905 1998 1906 1997 1906 1992 1907 1997 1907 1995 1908 2002 1908 2001 1910 1995 1911 2004 1912 2007 1916 2007 1916 2002 1916 1994 1918 1992 1918 1993 1919 2002 1919 1999 1920 1996 1922 1997 1922 2000 1922 1995 1922 2001 1923 2008 1924 1999 1925 1995 1925 2008 1926 2004 1926 2007 1927 2007 1928 1999 1932 1997 1933 1997 1937 2007 1937 2003 1937 2007 1938 1993 1939 2002 1943 1994 1949 1999 1950 2000 1959 1996 1960 2006 1961 1996 1967 2001 1967 1997 1981 1994 1993 1997 1994 2002 1994 1996 1998 2007 2022 2003 2023 2005 1818 2020 1824 2017 1830 2012 1846 2018 1855 2023 1855 2016 1858 2018 1860 2021 1861 2020 1871 2012 1875 2015 1878 2010 1880 2020 1882 2022 1883 2015 1883 2016 1883 2013 1884 2011 1885 2011 1885 2012 1887 2022 1887 2011 1889 2017 1889 2010 1890 2015 1891 2014 1894 2018 1895 2020 1895 2020 1896 2020 1896 2009 1896 2008 1905 2013 1909 2018 1909 2013 1910 2020 1911 2018 1911 2016 1911 2010 1912 2014 1912 2013 1921 2015 1922 2010 1925 2014 1926 2011 1939 2019 1942 2019 1949 2011 1983 2008 1833 2036 1840 2040 1840 2038 1843 2025 1847 2037 1847 2034 1858 2037 1867 2025 1873 2031 1873 2032 1882 2030 1883 2025 1885 2033 1885 2026 1888 2035 1893 2035 1895 2037 1905 2025 1910 2027 1918 2038 1924 2030 2005 2025 1831 2049 1833 2041 1834 2045 1845 2055 1850 2053 1868 2051 1874 2046 1875 2042 1881 2041 1884 2048 1888 2054 1889 2042 1896 2043 1902 2049 1910 2048 1928 2042 1796 2069 1835 2067 1846 2070 1882 2064 1892 2060 1911 2064 1805 2074 1812 2076 1821 2077 1832 2092 1749 2131 1753 2133 1766 2135 1818 2127" fill="none" stroke="none" marker-start="url(#md)" marker-mid="url(#md)" marker-end="url(#md)" transform="scale(0.5)"/>
<path d="M1169.5 786.6 1169.4 785.5 1169.8 785.5 1169.5 786.6ZM1172.5 788.2 1171.7 787.5 1172.5 787.1 1172.5 788.2ZM977.5 989.5 974.6 989.5 975.7 988.5 974.5 985.5 975.5 984.7 976.5 985.0 976.5 984.2 975.2 984.5 974.5 985.4 973.5 984.8 972.9 987.5 974.1 988.5 973.5 988.8 971.3 988.5 970.3 987.5 970.6 986.5 969.5 986.1 968.5 987.7 966.5 987.6 965.5 986.6 964.5 987.8 961.8 986.5 961.1 984.5 963.5 985.5 964.5 985.5 965.4 984.5 962.9 982.5 963.2 981.5 962.8 980.5 964.1 979.5 963.5 978.7 962.5 979.4 962.5 976.8 963.5 977.7 964.5 977.6 963.5 977.3 963.2 976.5 966.1 975.5 965.4 973.5 964.5 972.8 963.5 973.5 964.0 974.5 962.5 974.0 961.8 969.5 963.4 968.5 963.0 967.5 964.5 966.4 968.5 969.1 968.9 968.5 968.6 966.5 970.5 966.2 971.2 965.5 971.7 964.5 971.6 962.5 975.2 958.5 976.5 955.4 978.9 955.5 978.5 955.1 977.5 955.3 977.0 954.5 977.3 953.5 978.5 953.5 978.5 951.2 982.2 949.5 983.9 946.5 985.7 945.5 986.5 943.0 990.1 941.5 990.5 940.1 994.1 936.5 993.9 934.5 996.5 931.3 996.9 929.5 1000.3 926.5 1000.5 923.2 1001.1 923.5 1000.6 924.5 1001.5 925.0 1001.8 923.5 1003.2 922.5 1003.3 920.5 1004.5 921.3 1006.5 921.0 1007.2 919.5 1007.3 917.5 1009.3 916.5 1009.5 913.7 1010.5 914.3 1011.6 912.5 1014.5 911.6 1013.1 910.5 1013.5 909.8 1016.1 908.5 1016.5 907.0 1017.5 907.2 1018.5 906.6 1019.5 904.9 1023.5 901.4 1024.8 898.5 1026.5 897.4 1027.5 898.2 1028.4 897.5 1027.5 897.0 1027.5 896.1 1030.5 894.9 1031.5 893.5 1032.9 893.5 1032.2 892.5 1033.3 890.5 1033.3 888.5 1034.5 888.9 1036.5 886.8 1037.5 887.0 1040.1 885.5 1040.5 884.5 1042.9 882.5 1043.2 880.5 1044.5 880.5 1045.2 879.5 1046.5 879.1 1047.8 876.5 1049.5 875.5 1051.0 873.5 1051.0 872.5 1052.5 872.3 1054.2 869.5 1055.5 868.5 1058.5 867.9 1060.0 866.5 1062.5 866.1 1063.2 865.5 1063.5 864.3 1065.2 862.5 1065.5 860.4 1067.5 860.9 1067.9 860.5 1067.9 859.5 1066.5 859.1 1066.3 858.5 1067.5 857.3 1068.5 857.9 1068.9 857.5 1068.1 856.5 1069.5 855.8 1071.3 853.5 1073.5 854.1 1076.5 853.8 1076.3 852.5 1077.5 850.6 1078.5 851.4 1079.3 850.5 1079.5 849.3 1081.0 848.5 1081.6 847.5 1080.5 846.5 1081.5 846.3 1083.5 844.7 1084.5 845.1 1086.5 844.1 1090.3 840.5 1089.5 839.1 1090.5 839.0 1091.5 839.8 1092.5 839.4 1095.5 834.2 1096.5 833.7 1098.5 835.1 1099.5 834.9 1102.1 830.5 1104.5 829.5 1105.5 830.0 1106.5 829.6 1106.6 828.5 1109.6 827.5 1110.3 826.5 1110.1 825.5 1111.5 825.5 1112.1 824.5 1111.3 823.5 1111.5 821.4 1112.5 820.7 1114.5 821.7 1113.0 820.5 1115.5 819.1 1117.5 820.0 1117.9 819.5 1117.1 818.5 1117.5 817.9 1118.5 817.0 1119.5 816.9 1122.1 814.5 1122.5 813.4 1123.5 814.3 1124.5 814.3 1125.3 813.5 1124.4 812.5 1126.0 811.5 1126.5 809.5 1127.5 811.1 1129.5 810.8 1130.5 811.1 1131.5 812.2 1132.5 811.9 1134.3 810.5 1136.5 806.5 1138.5 805.7 1140.9 803.5 1142.5 800.8 1143.5 801.4 1146.5 801.3 1147.4 800.5 1147.4 799.5 1149.5 797.9 1155.5 798.5 1155.8 797.5 1154.6 796.5 1156.5 795.0 1157.1 795.5 1157.5 797.9 1158.4 795.5 1157.2 794.5 1157.3 792.5 1159.5 794.2 1161.5 792.0 1162.4 792.5 1162.5 793.8 1163.5 793.8 1164.5 792.6 1167.5 791.5 1168.0 790.5 1167.7 789.5 1170.5 788.8 1171.5 787.7 1172.5 790.4 1174.5 790.1 1176.5 790.6 1177.5 789.9 1178.3 790.5 1178.2 792.5 1178.7 793.5 1175.6 795.5 1176.0 797.5 1173.1 797.5 1173.0 796.5 1175.0 794.5 1173.5 793.1 1171.5 794.5 1171.5 796.3 1170.2 796.5 1171.5 798.2 1174.1 799.5 1172.5 800.4 1171.5 803.0 1169.7 804.5 1170.3 805.5 1170.1 806.5 1172.5 807.5 1172.5 809.1 1170.5 808.2 1169.5 810.3 1168.5 809.5 1167.5 810.6 1166.5 809.6 1164.5 809.9 1164.2 811.5 1165.0 812.5 1164.2 815.5 1161.8 818.5 1160.2 819.5 1158.8 822.5 1159.1 824.5 1158.1 824.5 1157.5 823.1 1157.0 823.5 1156.5 830.1 1155.5 831.1 1154.5 831.3 1154.5 832.9 1153.5 832.7 1152.2 833.5 1151.5 835.2 1149.5 834.5 1148.5 834.9 1148.5 835.9 1149.5 836.4 1150.5 835.5 1151.0 836.5 1149.6 837.5 1148.5 839.8 1147.2 840.5 1148.2 841.5 1146.8 842.5 1147.0 843.5 1145.5 843.8 1144.1 845.5 1144.8 846.5 1144.5 847.1 1142.5 846.2 1140.9 846.5 1141.0 847.5 1139.3 850.5 1139.6 851.5 1137.6 853.5 1136.5 853.5 1135.1 855.5 1135.0 857.5 1134.5 857.8 1133.5 856.9 1132.5 857.0 1131.9 857.5 1132.6 858.5 1131.5 859.4 1130.5 857.7 1129.7 858.5 1129.5 860.1 1128.5 859.2 1129.3 861.5 1126.3 864.5 1125.5 867.8 1125.1 866.5 1123.5 866.2 1123.8 869.5 1122.5 869.7 1119.5 872.0 1118.5 871.7 1118.2 872.5 1116.6 873.5 1116.6 876.5 1115.5 876.6 1113.5 879.0 1112.5 879.1 1110.5 880.5 1111.3 882.5 1110.5 883.5 1108.5 883.4 1107.9 884.5 1106.5 884.6 1105.7 885.5 1105.5 886.8 1100.5 889.5 1100.7 891.5 1099.3 894.5 1099.9 895.5 1092.9 896.5 1093.0 897.5 1091.5 898.5 1091.5 899.8 1090.5 899.7 1089.1 900.5 1089.5 902.5 1087.5 903.5 1086.5 904.9 1085.5 904.2 1084.8 904.5 1084.5 905.6 1082.6 907.5 1082.3 909.5 1081.5 910.1 1079.2 909.5 1078.8 910.5 1079.5 912.5 1078.5 914.2 1076.9 914.5 1075.6 916.5 1077.0 917.5 1075.5 917.6 1072.5 919.1 1069.5 919.2 1067.7 921.5 1067.8 922.5 1066.9 923.5 1063.5 926.3 1062.5 925.9 1061.5 927.5 1060.5 926.8 1059.5 927.4 1057.5 927.6 1056.5 926.9 1055.7 928.5 1056.3 929.5 1053.5 933.9 1047.5 935.9 1046.8 937.5 1047.5 939.0 1045.5 938.8 1044.6 939.5 1044.5 941.0 1042.5 942.5 1042.5 943.7 1040.8 944.5 1040.5 945.8 1038.5 946.1 1034.5 947.7 1033.5 946.9 1032.9 947.5 1033.8 948.5 1031.9 950.5 1031.8 952.5 1027.5 955.5 1026.5 954.9 1025.5 956.0 1024.5 955.8 1023.6 956.5 1022.9 958.5 1023.3 959.5 1021.7 960.5 1021.8 961.5 1017.5 963.6 1016.5 962.9 1014.3 964.5 1014.5 965.8 1013.5 966.6 1011.5 966.9 1010.5 968.6 1009.5 966.7 1008.3 966.5 1008.7 968.5 1006.5 971.9 1003.5 972.8 1001.5 972.1 1000.8 973.5 1001.3 975.5 999.5 975.7 998.5 974.7 997.9 975.5 998.0 976.5 995.8 978.5 994.5 978.7 993.0 980.5 992.1 980.5 991.5 979.8 990.5 977.0 988.5 976.1 987.8 977.5 988.5 978.5 989.6 978.5 989.5 979.7 988.5 978.6 986.5 980.2 985.5 980.1 984.5 979.2 984.0 979.5 984.5 980.4 986.5 981.0 986.6 981.5 985.5 981.8 982.5 984.9 980.5 985.2 979.5 987.5 977.5 989.5ZM1179.5 789.9 1178.7 789.5 1179.5 789.2 1179.5 789.9ZM1162.5 791.9 1162.4 790.5 1163.2 790.5 1162.5 791.9ZM1180.5 793.2 1179.9 792.5 1180.5 791.4 1180.5 793.2ZM1175.8 792.5 1175.5 791.5 1174.7 792.5 1175.5 792.9 1175.8 792.5ZM1178.5 795.6 1178.5 795.3 1178.5 795.6ZM1182.5 797.3 1181.5 796.5 1183.1 796.5 1182.5 797.3ZM1161.8 797.5 1161.5 797.0 1160.9 797.5 1161.5 797.9 1161.8 797.5ZM1178.5 797.8 1176.9 797.5 1177.5 796.8 1178.5 797.2 1178.5 797.8ZM1181.5 798.5 1181.5 796.6 1181.9 797.5 1181.5 798.5ZM1185.5 797.7 1184.7 797.5 1185.5 797.7ZM1162.3 799.5 1161.5 799.0 1160.7 799.5 1161.5 800.4 1162.3 799.5ZM1165.1 799.5 1164.5 799.0 1164.1 799.5 1164.5 799.9 1165.1 799.5ZM1175.5 801.0 1174.6 800.5 1176.2 800.5 1175.5 801.0ZM1170.8 801.5 1170.2 801.5 1170.8 801.5ZM1166.8 808.5 1168.3 807.5 1167.5 806.8 1166.5 808.2 1165.5 806.8 1164.8 807.5 1165.5 809.5 1166.8 808.5ZM1165.5 811.8 1165.5 811.0 1165.5 811.8ZM1171.5 812.1 1169.5 811.9 1169.5 810.7 1170.5 811.1 1171.5 810.8 1172.1 811.5 1171.5 812.1ZM1129.3 812.5 1128.5 811.8 1127.8 812.5 1128.5 813.1 1129.3 812.5ZM1166.5 812.8 1165.9 812.5 1166.5 812.0 1167.0 812.5 1166.5 812.8ZM1168.5 814.6 1168.5 813.2 1169.0 814.5 1168.5 814.6ZM1118.5 815.6 1118.4 814.5 1119.1 814.5 1118.5 815.6ZM1171.5 815.6 1171.2 815.5 1171.5 815.6ZM1111.6 826.5 1111.5 825.6 1111.6 826.5ZM1142.5 849.6 1141.7 848.5 1142.5 847.0 1142.5 849.6ZM1128.5 864.6 1126.8 864.5 1128.5 863.4 1128.5 864.6ZM1103.8 886.5 1103.3 886.5 1103.8 886.5ZM1022.5 900.8 1022.5 900.2 1022.9 900.5 1022.5 900.8ZM1015.5 906.7 1015.1 906.5 1015.8 906.5 1015.5 906.7ZM1012.5 910.0 1012.5 909.1 1013.2 909.5 1012.5 910.0ZM1073.7 917.5 1073.3 917.5 1073.7 917.5ZM997.5 927.2 997.5 926.4 997.5 927.2ZM975.5 951.3 975.5 950.3 976.0 950.5 975.5 951.3ZM1034.5 950.6 1034.5 950.2 1035.3 950.5 1034.5 950.6ZM976.5 951.8 975.9 951.5 976.5 951.2 976.5 951.8ZM975.5 952.6 974.9 952.5 975.5 951.8 975.9 952.5 975.5 952.6ZM1012.4 965.5 1011.5 964.7 1010.6 965.5 1011.5 966.3 1012.4 965.5ZM1006.1 970.5 1005.5 970.0 1005.1 970.5 1005.5 971.3 1006.1 970.5ZM966.3 971.5 965.5 971.0 965.2 971.5 965.5 972.0 966.3 971.5ZM958.5 978.7 958.9 978.5 958.5 978.7ZM961.5 980.0 961.3 979.5 962.3 979.5 961.5 980.0ZM959.5 983.4 959.5 982.5 959.5 983.4ZM974.2 983.5 973.5 982.4 972.1 983.5 973.5 984.4 974.2 983.5ZM982.2 982.5 981.5 982.0 981.1 982.5 981.5 983.0 982.2 982.5ZM958.5 984.6 957.4 984.5 958.5 984.6ZM960.5 989.5 959.5 988.6 958.1 988.5 958.5 987.8 960.5 987.0 961.9 988.5 960.5 989.5ZM980.5 987.6 979.5 987.5 980.5 987.2 980.5 987.6ZM964.5 989.8 964.5 989.2 964.5 989.8ZM953.5 991.3 953.1 990.5 953.5 990.3 953.5 991.3ZM954.5 993.9 953.5 992.0 954.5 992.4 955.5 993.5 954.5 993.9ZM953.5 995.6 953.5 995.2 953.5 995.6Z" fill="#b4d372" fill-rule="evenodd"/>
<path d="M216.03 496.60V488.20M197.80 478.37H206.20M361.91 496.60V488.20M197.80 332.49H206.20M507.79 496.60V488.20M197.80 186.61H206.20M653.67 496.60V488.20M197.80 40.73H206.20" stroke="#000" stroke-width="3.2" fill="none"/>
<rect x="197.80" y="15.20" width="481.40" height="481.40" fill="none" stroke="#000" stroke-width="3.2"/>
<path d="M847.80 496.60V488.20M847.80 496.60H856.20M928.03 496.60V488.20M847.80 416.37H856.20M1008.27 496.60V488.20M847.80 336.13H856.20M1088.50 496.60V488.20M847.80 255.90H856.20M1168.73 496.60V488.20M847.80 175.67H856.20M1248.97 496.60V488.20M847.80 95.43H856.20M1329.20 496.60V488.20M847.80 15.20H856.20" stroke="#000" stroke-width="3.2" fill="none"/>
<rect x="847.80" y="15.20" width="481.40" height="481.40" fill="none" stroke="#000" stroke-width="3.2"/>
<path d="M212.61 1115.90V1107.50M197.80 1101.09H206.20M362.21 1115.90V1107.50M197.80 951.49H206.20M511.80 1115.90V1107.50M197.80 801.90H206.20M661.40 1115.90V1107.50M197.80 652.30H206.20" stroke="#000" stroke-width="3.2" fill="none"/>
<rect x="197.80" y="634.50" width="481.40" height="481.40" fill="none" stroke="#000" stroke-width="3.2"/>
<path d="M858.88 1115.90V1107.50M847.80 1104.82H856.20M970.84 1115.90V1107.50M847.80 992.86H856.20M1082.79 1115.90V1107.50M847.80 880.91H856.20M1194.74 1115.90V1107.50M847.80 768.96H856.20M1306.70 1115.90V1107.50M847.80 657.00H856.20" stroke="#000" stroke-width="3.2" fill="none"/>
<rect x="847.80" y="634.50" width="481.40" height="481.40" fill="none" stroke="#000" stroke-width="3.2"/>
<rect x="153.05" y="517.20" width="23.00" height="3.50" fill="#000"/>
<rect x="62.55" y="479.47" width="23.00" height="3.50" fill="#000"/>
<rect x="298.93" y="517.20" width="23.00" height="3.50" fill="#000"/>
<rect x="62.55" y="333.59" width="23.00" height="3.50" fill="#000"/>
<rect x="444.81" y="517.20" width="23.00" height="3.50" fill="#000"/>
<rect x="62.55" y="187.71" width="23.00" height="3.50" fill="#000"/>
<rect x="590.68" y="517.20" width="23.00" height="3.50" fill="#000"/>
<rect x="62.55" y="41.83" width="23.00" height="3.50" fill="#000"/>
<rect x="824.89" y="517.20" width="23.00" height="3.50" fill="#000"/>
<rect x="792.71" y="497.70" width="23.00" height="3.50" fill="#000"/>
<rect x="905.12" y="517.20" width="23.00" height="3.50" fill="#000"/>
<rect x="792.71" y="417.47" width="23.00" height="3.50" fill="#000"/>
<rect x="985.36" y="517.20" width="23.00" height="3.50" fill="#000"/>
<rect x="792.71" y="337.23" width="23.00" height="3.50" fill="#000"/>
<rect x="818.80" y="1136.50" width="23.00" height="3.50" fill="#000"/>
<rect x="758.36" y="1105.92" width="23.00" height="3.50" fill="#000"/>
<rect x="930.75" y="1136.50" width="23.00" height="3.50" fill="#000"/>
<rect x="758.36" y="993.96" width="23.00" height="3.50" fill="#000"/>
<rect x="1042.71" y="1136.50" width="23.00" height="3.50" fill="#000"/>
<rect x="758.36" y="882.01" width="23.00" height="3.50" fill="#000"/>
<rect x="1154.66" y="1136.50" width="23.00" height="3.50" fill="#000"/>
<rect x="758.36" y="770.06" width="23.00" height="3.50" fill="#000"/>
<rect x="1266.61" y="1136.50" width="23.00" height="3.50" fill="#000"/>
<rect x="758.36" y="658.10" width="23.00" height="3.50" fill="#000"/>
<text transform="matrix(0.40243,0.00000,0.00000,0.38380,180.36720,530.31620)" font-size="100" font-weight="400" fill="#000" stroke="#000" stroke-width="1.27" stroke-linejoin="round" xml:space="preserve">10.82</text>
<text transform="matrix(0.40243,0.00000,0.00000,0.38380,89.87004,492.58135)" font-size="100" font-weight="400" fill="#000" stroke="#000" stroke-width="1.27" stroke-linejoin="round" xml:space="preserve">10.82</text>
<text transform="matrix(0.40599,0.00000,0.00000,0.38380,326.21750,530.31620)" font-size="100" font-weight="400" fill="#000" stroke="#000" stroke-width="1.27" stroke-linejoin="round" xml:space="preserve">10.78</text>
<text transform="matrix(0.40599,0.00000,0.00000,0.38380,89.84155,346.70256)" font-size="100" font-weight="400" fill="#000" stroke="#000" stroke-width="1.27" stroke-linejoin="round" xml:space="preserve">10.78</text>
<text transform="matrix(0.40586,0.00000,0.00000,0.38380,472.09732,530.31620)" font-size="100" font-weight="400" fill="#000" stroke="#000" stroke-width="1.27" stroke-linejoin="round" xml:space="preserve">10.74</text>
<text transform="matrix(0.40586,0.00000,0.00000,0.38380,89.84259,200.82377)" font-size="100" font-weight="400" fill="#000" stroke="#000" stroke-width="1.27" stroke-linejoin="round" xml:space="preserve">10.74</text>
<text transform="matrix(0.40599,0.00000,0.00000,0.38380,617.97507,530.31620)" font-size="100" font-weight="400" fill="#000" stroke="#000" stroke-width="1.27" stroke-linejoin="round" xml:space="preserve">10.70</text>
<text transform="matrix(0.40599,0.00000,0.00000,0.38380,89.84155,54.94499)" font-size="100" font-weight="400" fill="#000" stroke="#000" stroke-width="1.27" stroke-linejoin="round" xml:space="preserve">10.70</text>
<text transform="matrix(0.39402,0.00000,0.00000,0.38380,851.70977,530.31620)" font-size="100" font-weight="400" fill="#000" stroke="#000" stroke-width="1.29" stroke-linejoin="round" xml:space="preserve">9</text>
<text transform="matrix(0.39402,0.00000,0.00000,0.38380,819.52559,510.81620)" font-size="100" font-weight="400" fill="#000" stroke="#000" stroke-width="1.29" stroke-linejoin="round" xml:space="preserve">9</text>
<text transform="matrix(0.39402,0.00000,0.00000,0.38380,932.19311,530.31620)" font-size="100" font-weight="400" fill="#000" stroke="#000" stroke-width="1.29" stroke-linejoin="round" xml:space="preserve">6</text>
<text transform="matrix(0.39402,0.00000,0.00000,0.38380,819.77559,430.58286)" font-size="100" font-weight="400" fill="#000" stroke="#000" stroke-width="1.29" stroke-linejoin="round" xml:space="preserve">6</text>
<text transform="matrix(0.36702,0.00000,0.00000,0.38380,1013.17846,530.31620)" font-size="100" font-weight="400" fill="#000" stroke="#000" stroke-width="1.33" stroke-linejoin="round" xml:space="preserve">3</text>
<text transform="matrix(0.36702,0.00000,0.00000,0.38380,820.52762,350.34953)" font-size="100" font-weight="400" fill="#000" stroke="#000" stroke-width="1.33" stroke-linejoin="round" xml:space="preserve">3</text>
<text transform="matrix(0.37760,0.00000,0.00000,0.38380,1077.91243,530.31620)" font-size="100" font-weight="400" fill="#000" stroke="#000" stroke-width="1.31" stroke-linejoin="round" xml:space="preserve">0</text>
<text transform="matrix(0.37760,0.00000,0.00000,0.38380,820.11029,270.11620)" font-size="100" font-weight="400" fill="#000" stroke="#000" stroke-width="1.31" stroke-linejoin="round" xml:space="preserve">0</text>
<text transform="matrix(0.36702,0.00000,0.00000,0.38380,1158.56310,530.31620)" font-size="100" font-weight="400" fill="#000" stroke="#000" stroke-width="1.33" stroke-linejoin="round" xml:space="preserve">3</text>
<text transform="matrix(0.36702,0.00000,0.00000,0.38380,820.52762,189.88286)" font-size="100" font-weight="400" fill="#000" stroke="#000" stroke-width="1.33" stroke-linejoin="round" xml:space="preserve">3</text>
<text transform="matrix(0.39402,0.00000,0.00000,0.38380,1238.04441,530.31620)" font-size="100" font-weight="400" fill="#000" stroke="#000" stroke-width="1.29" stroke-linejoin="round" xml:space="preserve">6</text>
<text transform="matrix(0.39402,0.00000,0.00000,0.38380,819.77559,109.64953)" font-size="100" font-weight="400" fill="#000" stroke="#000" stroke-width="1.29" stroke-linejoin="round" xml:space="preserve">6</text>
<text transform="matrix(0.39402,0.00000,0.00000,0.38380,1318.02774,530.31620)" font-size="100" font-weight="400" fill="#000" stroke="#000" stroke-width="1.29" stroke-linejoin="round" xml:space="preserve">9</text>
<text transform="matrix(0.39402,0.00000,0.00000,0.38380,819.52559,29.41620)" font-size="100" font-weight="400" fill="#000" stroke="#000" stroke-width="1.29" stroke-linejoin="round" xml:space="preserve">9</text>
<text transform="matrix(0.39469,0.00000,0.00000,0.38214,184.82655,1149.61786)" font-size="100" font-weight="400" fill="#000" stroke="#000" stroke-width="1.29" stroke-linejoin="round" xml:space="preserve">1.5</text>
<text transform="matrix(0.39469,0.00000,0.00000,0.38214,135.74057,1115.30785)" font-size="100" font-weight="400" fill="#000" stroke="#000" stroke-width="1.29" stroke-linejoin="round" xml:space="preserve">1.5</text>
<text transform="matrix(0.40192,0.00000,0.00000,0.38380,334.19544,1149.61620)" font-size="100" font-weight="400" fill="#000" stroke="#000" stroke-width="1.27" stroke-linejoin="round" xml:space="preserve">2.0</text>
<text transform="matrix(0.40192,0.00000,0.00000,0.38380,135.51343,965.71017)" font-size="100" font-weight="400" fill="#000" stroke="#000" stroke-width="1.27" stroke-linejoin="round" xml:space="preserve">2.0</text>
<text transform="matrix(0.39615,0.00000,0.00000,0.38380,483.82031,1149.61620)" font-size="100" font-weight="400" fill="#000" stroke="#000" stroke-width="1.28" stroke-linejoin="round" xml:space="preserve">2.5</text>
<text transform="matrix(0.39615,0.00000,0.00000,0.38380,135.54228,816.11415)" font-size="100" font-weight="400" fill="#000" stroke="#000" stroke-width="1.28" stroke-linejoin="round" xml:space="preserve">2.5</text>
<text transform="matrix(0.39790,0.00000,0.00000,0.38380,633.93049,1149.61620)" font-size="100" font-weight="400" fill="#000" stroke="#000" stroke-width="1.28" stroke-linejoin="round" xml:space="preserve">3.0</text>
<text transform="matrix(0.39790,0.00000,0.00000,0.38380,136.05644,666.51812)" font-size="100" font-weight="400" fill="#000" stroke="#000" stroke-width="1.28" stroke-linejoin="round" xml:space="preserve">3.0</text>
<text transform="matrix(0.39469,0.00000,0.00000,0.38214,846.18197,1149.61786)" font-size="100" font-weight="400" fill="#000" stroke="#000" stroke-width="1.29" stroke-linejoin="round" xml:space="preserve">1.5</text>
<text transform="matrix(0.39469,0.00000,0.00000,0.38214,785.74057,1119.03446)" font-size="100" font-weight="400" fill="#000" stroke="#000" stroke-width="1.29" stroke-linejoin="round" xml:space="preserve">1.5</text>
<text transform="matrix(0.40039,0.00000,0.00000,0.38043,958.08981,1149.50000)" font-size="100" font-weight="400" fill="#000" stroke="#000" stroke-width="1.28" stroke-linejoin="round" xml:space="preserve">1.4</text>
<text transform="matrix(0.40039,0.00000,0.00000,0.38043,785.69492,1006.96312)" font-size="100" font-weight="400" fill="#000" stroke="#000" stroke-width="1.28" stroke-linejoin="round" xml:space="preserve">1.4</text>
<text transform="matrix(0.39665,0.00000,0.00000,0.38380,1070.07320,1149.61620)" font-size="100" font-weight="400" fill="#000" stroke="#000" stroke-width="1.28" stroke-linejoin="round" xml:space="preserve">1.3</text>
<text transform="matrix(0.39665,0.00000,0.00000,0.38380,785.72482,895.12583)" font-size="100" font-weight="400" fill="#000" stroke="#000" stroke-width="1.28" stroke-linejoin="round" xml:space="preserve">1.3</text>
<text transform="matrix(0.39385,0.00000,0.00000,0.38214,1182.04912,1149.50000)" font-size="100" font-weight="400" fill="#000" stroke="#000" stroke-width="1.29" stroke-linejoin="round" xml:space="preserve">1.2</text>
<text transform="matrix(0.39385,0.00000,0.00000,0.38214,785.74725,783.05614)" font-size="100" font-weight="400" fill="#000" stroke="#000" stroke-width="1.29" stroke-linejoin="round" xml:space="preserve">1.2</text>
<text transform="matrix(0.39683,0.00000,0.00000,0.38043,1293.97880,1149.50000)" font-size="100" font-weight="400" fill="#000" stroke="#000" stroke-width="1.29" stroke-linejoin="round" xml:space="preserve">1.1</text>
<text transform="matrix(0.39683,0.00000,0.00000,0.38043,785.72344,671.10265)" font-size="100" font-weight="400" fill="#000" stroke="#000" stroke-width="1.29" stroke-linejoin="round" xml:space="preserve">1.1</text>
<text transform="matrix(0.39630,0.00000,0.00000,0.46957,269.82963,578.30000)" font-size="100" font-weight="400" fill="#000" stroke="#000" stroke-width="1.15" stroke-linejoin="round" xml:space="preserve">E</text>
<text transform="matrix(0.31796,0.00000,0.00000,0.31739,297.70000,584.80000)" font-size="100" font-weight="400" fill="#000" stroke="#000" stroke-width="1.57" stroke-linejoin="round" xml:space="preserve">AIMD</text>
<text transform="matrix(0.49672,0.00000,0.00000,0.42021,393.01967,575.07553)" font-size="100" font-weight="400" fill="#000" stroke="#000" stroke-width="1.09" stroke-linejoin="round" xml:space="preserve">(eV/atom)</text>
<text transform="matrix(0.39184,0.00000,0.00000,0.47101,962.76531,584.60000)" font-size="100" font-weight="400" fill="#000" stroke="#000" stroke-width="1.16" stroke-linejoin="round" xml:space="preserve">F</text>
<text transform="matrix(0.31755,0.00000,0.00000,0.33043,988.00000,591.50000)" font-size="100" font-weight="400" fill="#000" stroke="#000" stroke-width="1.54" stroke-linejoin="round" xml:space="preserve">AIMD</text>
<text transform="matrix(0.47565,0.00000,0.00000,0.42870,1083.24613,580.99722)" font-size="100" font-weight="400" fill="#000" stroke="#000" stroke-width="1.11" stroke-linejoin="round" xml:space="preserve">(eV/Å)</text>
<text transform="matrix(0.49022,0.00000,0.00000,0.46027,313.77826,1197.40000)" font-size="100" font-weight="400" fill="#000" stroke="#000" stroke-width="1.05" stroke-linejoin="round" xml:space="preserve">Hf</text>
<text transform="matrix(0.43824,0.00000,0.00000,0.42809,375.80882,1194.56629)" font-size="100" font-weight="400" fill="#000" stroke="#000" stroke-width="1.15" stroke-linejoin="round" xml:space="preserve">Q</text>
<text transform="matrix(0.31755,0.00000,0.00000,0.32464,411.30000,1204.10000)" font-size="100" font-weight="400" fill="#000" stroke="#000" stroke-width="1.56" stroke-linejoin="round" xml:space="preserve">AIMD</text>
<text transform="matrix(0.49182,0.00000,0.00000,0.41809,506.34909,1194.32021)" font-size="100" font-weight="400" fill="#000" stroke="#000" stroke-width="1.10" stroke-linejoin="round" xml:space="preserve">(e)</text>
<text transform="matrix(0.44559,0.00000,0.00000,0.46761,970.27206,1197.33239)" font-size="100" font-weight="400" fill="#000" stroke="#000" stroke-width="1.10" stroke-linejoin="round" xml:space="preserve">O</text>
<text transform="matrix(0.44559,0.00000,0.00000,0.42809,1018.97206,1194.56629)" font-size="100" font-weight="400" fill="#000" stroke="#000" stroke-width="1.14" stroke-linejoin="round" xml:space="preserve">Q</text>
<text transform="matrix(0.31429,0.00000,0.00000,0.32464,1054.40000,1204.10000)" font-size="100" font-weight="400" fill="#000" stroke="#000" stroke-width="1.57" stroke-linejoin="round" xml:space="preserve">AIMD</text>
<text transform="matrix(0.49909,0.00000,0.00000,0.41809,1148.60545,1194.32021)" font-size="100" font-weight="400" fill="#000" stroke="#000" stroke-width="1.09" stroke-linejoin="round" xml:space="preserve">(e)</text>
<text transform="matrix(0.00000,-0.38704,0.46522,0.00000,40.80000,428.99630)" font-size="100" font-weight="400" fill="#000" stroke="#000" stroke-width="1.17" stroke-linejoin="round" xml:space="preserve">E</text>
<text transform="matrix(0.00000,-0.30634,0.32113,0.00000,47.47887,402.53169)" font-size="100" font-weight="400" fill="#000" stroke="#000" stroke-width="1.59" stroke-linejoin="round" xml:space="preserve">CNMP</text>
<text transform="matrix(0.00000,-0.49953,0.41809,0.00000,37.42021,297.39719)" font-size="100" font-weight="400" fill="#000" stroke="#000" stroke-width="1.09" stroke-linejoin="round" xml:space="preserve">(eV/atom)</text>
<text transform="matrix(0.00000,-0.38367,0.46232,0.00000,771.80000,385.86939)" font-size="100" font-weight="400" fill="#000" stroke="#000" stroke-width="1.18" stroke-linejoin="round" xml:space="preserve">F</text>
<text transform="matrix(0.00000,-0.30739,0.32958,0.00000,778.97042,361.73697)" font-size="100" font-weight="400" fill="#000" stroke="#000" stroke-width="1.57" stroke-linejoin="round" xml:space="preserve">CNMP</text>
<text transform="matrix(0.00000,-0.47380,0.42870,0.00000,768.69722,256.44280)" font-size="100" font-weight="400" fill="#000" stroke="#000" stroke-width="1.11" stroke-linejoin="round" xml:space="preserve">(eV/Å)</text>
<text transform="matrix(0.00000,-0.48587,0.46027,0.00000,117.70000,1004.08696)" font-size="100" font-weight="400" fill="#000" stroke="#000" stroke-width="1.06" stroke-linejoin="round" xml:space="preserve">Hf</text>
<text transform="matrix(0.00000,-0.42794,0.42697,0.00000,115.18764,942.03971)" font-size="100" font-weight="400" fill="#000" stroke="#000" stroke-width="1.17" stroke-linejoin="round" xml:space="preserve">Q</text>
<text transform="matrix(0.00000,-0.30458,0.32676,0.00000,124.67324,907.22289)" font-size="100" font-weight="400" fill="#000" stroke="#000" stroke-width="1.58" stroke-linejoin="round" xml:space="preserve">CNMP</text>
<text transform="matrix(0.00000,-0.48818,0.42021,0.00000,114.67553,802.02909)" font-size="100" font-weight="400" fill="#000" stroke="#000" stroke-width="1.10" stroke-linejoin="round" xml:space="preserve">(e)</text>
<text transform="matrix(0.00000,-0.45882,0.46620,0.00000,737.03380,997.49412)" font-size="100" font-weight="400" fill="#000" stroke="#000" stroke-width="1.08" stroke-linejoin="round" xml:space="preserve">O</text>
<text transform="matrix(0.00000,-0.46029,0.43034,0.00000,735.12360,948.90147)" font-size="100" font-weight="400" fill="#000" stroke="#000" stroke-width="1.12" stroke-linejoin="round" xml:space="preserve">Q</text>
<text transform="matrix(0.00000,-0.29754,0.30986,0.00000,744.09014,913.28768)" font-size="100" font-weight="400" fill="#000" stroke="#000" stroke-width="1.65" stroke-linejoin="round" xml:space="preserve">CNMP</text>
<text transform="matrix(0.00000,-0.49455,0.42447,0.00000,734.38617,809.36727)" font-size="100" font-weight="400" fill="#000" stroke="#000" stroke-width="1.09" stroke-linejoin="round" xml:space="preserve">(e)</text>
<text transform="matrix(0.56415,0.00000,0.00000,0.60545,0.50755,59.09455)" font-size="100" font-weight="700" fill="#000" xml:space="preserve">a</text>
<text transform="matrix(0.63800,0.00000,0.00000,0.60685,694.03400,59.60000)" font-size="100" font-weight="700" fill="#000" xml:space="preserve">b</text>
<text transform="matrix(0.62857,0.00000,0.00000,0.60545,-0.31429,678.09455)" font-size="100" font-weight="700" fill="#000" xml:space="preserve">c</text>
<text transform="matrix(0.64000,0.00000,0.00000,0.60822,694.44000,678.70000)" font-size="100" font-weight="700" fill="#000" xml:space="preserve">d</text>
<text transform="matrix(0.44127,0.00000,0.00000,0.45797,221.81111,70.50000)" font-size="100" font-weight="700" fill="#6e8fcf" xml:space="preserve">R</text>
<text transform="matrix(0.26327,0.00000,0.00000,0.23000,253.21020,55.00000)" font-size="100" font-weight="700" fill="#6e8fcf" xml:space="preserve">2</text>
<text transform="matrix(0.43884,0.00000,0.00000,0.45352,267.71157,70.64648)" font-size="100" font-weight="700" fill="#6e8fcf" xml:space="preserve">: 0.96</text>
<text transform="matrix(0.44127,0.00000,0.00000,0.45797,871.81111,70.50000)" font-size="100" font-weight="700" fill="#c46b6e" xml:space="preserve">R</text>
<text transform="matrix(0.26327,0.00000,0.00000,0.23000,903.21020,55.00000)" font-size="100" font-weight="700" fill="#c46b6e" xml:space="preserve">2</text>
<text transform="matrix(0.43884,0.00000,0.00000,0.45352,917.71157,70.64648)" font-size="100" font-weight="700" fill="#c46b6e" xml:space="preserve">: 0.99</text>
<text transform="matrix(0.44127,0.00000,0.00000,0.45797,221.81111,689.80000)" font-size="100" font-weight="700" fill="#c8b179" xml:space="preserve">R</text>
<text transform="matrix(0.26327,0.00000,0.00000,0.23000,253.21020,674.30000)" font-size="100" font-weight="700" fill="#c8b179" xml:space="preserve">2</text>
<text transform="matrix(0.43704,0.00000,0.00000,0.45352,267.72963,689.94648)" font-size="100" font-weight="700" fill="#c8b179" xml:space="preserve">: 0.95</text>
<text transform="matrix(0.44127,0.00000,0.00000,0.45797,871.81111,689.80000)" font-size="100" font-weight="700" fill="#b4d372" xml:space="preserve">R</text>
<text transform="matrix(0.26327,0.00000,0.00000,0.23000,903.21020,674.30000)" font-size="100" font-weight="700" fill="#b4d372" xml:space="preserve">2</text>
<text transform="matrix(0.43884,0.00000,0.00000,0.45352,917.71157,689.94648)" font-size="100" font-weight="700" fill="#b4d372" xml:space="preserve">: 0.92</text>
<path d="M197.80 496.60L679.20 15.20" stroke="#6e8fcf" stroke-width="3.4" stroke-dasharray="11.2 6.7" stroke-dashoffset="9.6" fill="none"/>
<path d="M847.80 496.60L1329.20 15.20" stroke="#c46b6e" stroke-width="3.4" stroke-dasharray="11.2 6.7" stroke-dashoffset="3.3" fill="none"/>
<path d="M197.80 1115.90L679.20 634.50" stroke="#c8b179" stroke-width="3.4" stroke-dasharray="11.2 6.7" stroke-dashoffset="2.7" fill="none"/>
<path d="M847.80 1115.90L1329.20 634.50" stroke="#b4d372" stroke-width="3.4" stroke-dasharray="11.2 6.7" stroke-dashoffset="16.8" fill="none"/>
</g>
</svg></body></html>
